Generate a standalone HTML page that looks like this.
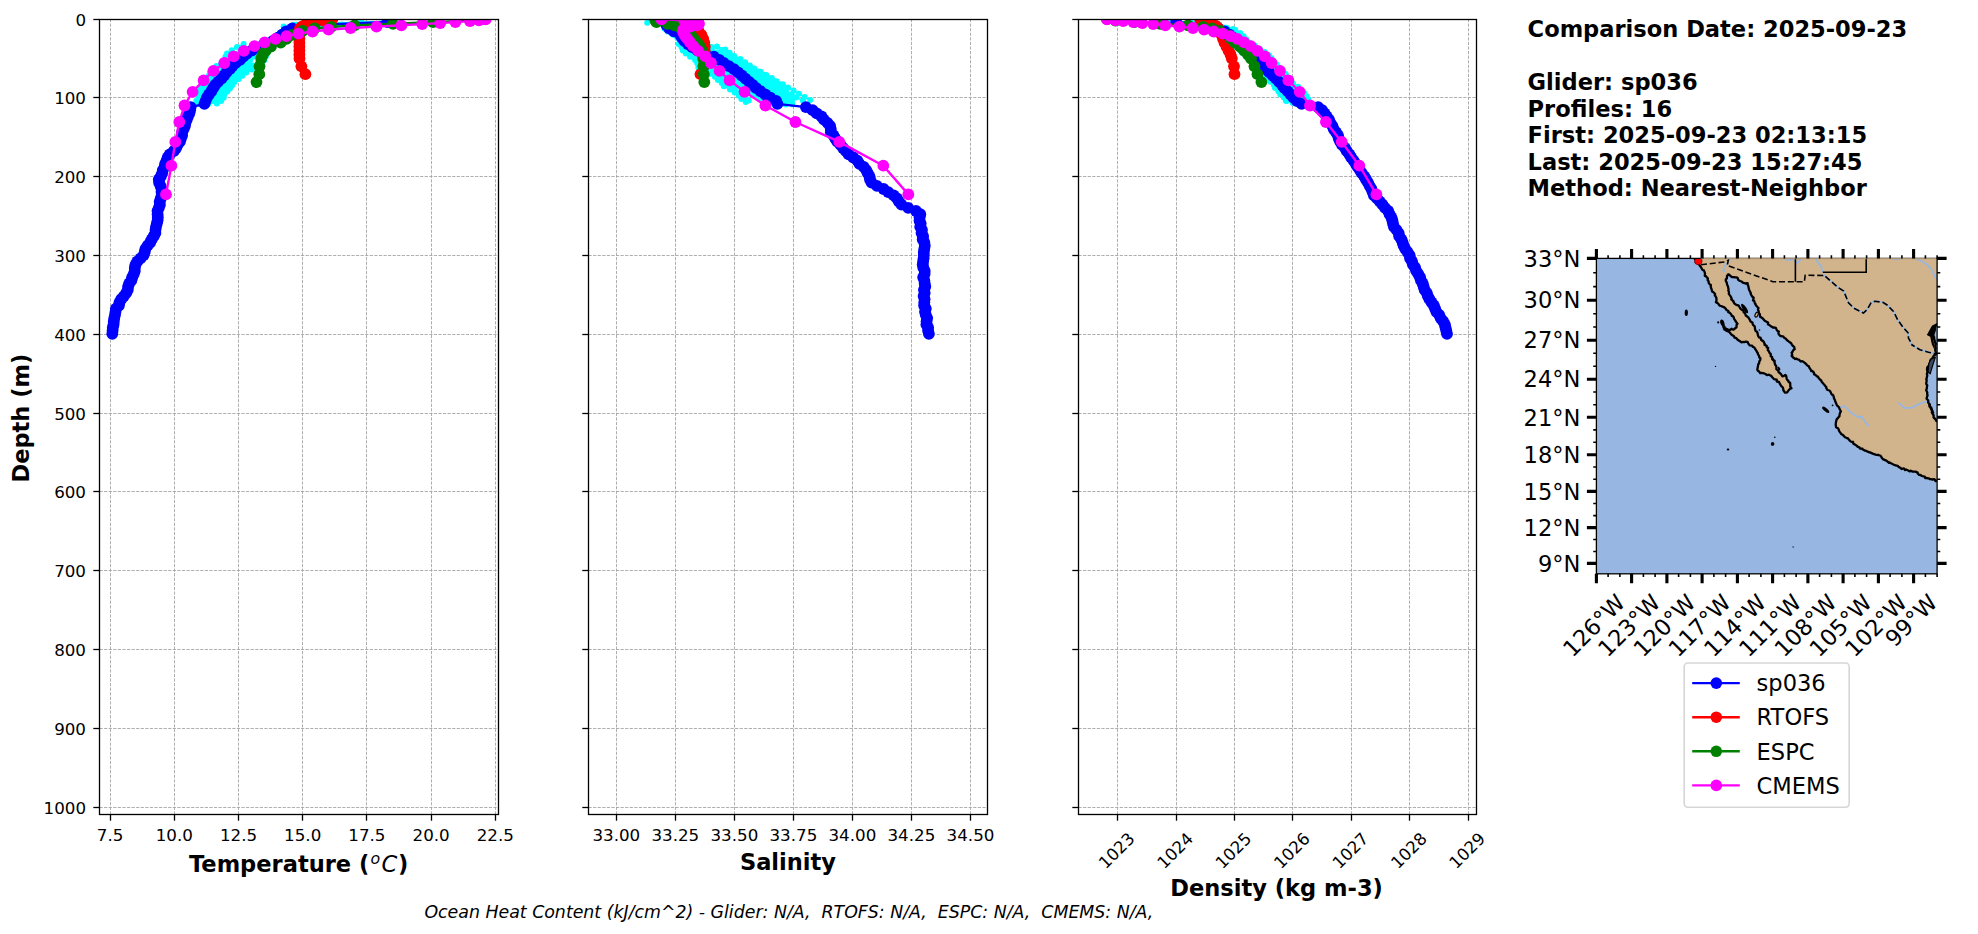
<!DOCTYPE html>
<html lang="en"><head><meta charset="utf-8"><title>Glider / model profile comparison</title>
<style>html,body{margin:0;padding:0;background:#fff}svg{display:block}</style></head>
<body>
<svg width="1978" height="934" viewBox="0 0 1978 934" font-family="'DejaVu Sans','Liberation Sans',sans-serif">
<rect width="1978" height="934" fill="#fff"/>
<defs>
<clipPath id="c0"><rect x="99.5" y="19.5" width="399.0" height="795.0"/></clipPath>
<clipPath id="c1"><rect x="588.5" y="19.5" width="399.0" height="795.0"/></clipPath>
<clipPath id="c2"><rect x="1078.5" y="19.5" width="398.0" height="795.0"/></clipPath>
<clipPath id="cm"><rect x="1596.4" y="258.4" width="340.7" height="315.4"/></clipPath>
</defs>
<g stroke="#a2a2a2" stroke-width="0.86" stroke-dasharray="3.2 1.38" fill="none">
<line x1="110.5" y1="814.5" x2="110.5" y2="19.5"/>
<line x1="174.5" y1="814.5" x2="174.5" y2="19.5"/>
<line x1="238.5" y1="814.5" x2="238.5" y2="19.5"/>
<line x1="302.5" y1="814.5" x2="302.5" y2="19.5"/>
<line x1="366.5" y1="814.5" x2="366.5" y2="19.5"/>
<line x1="431.5" y1="814.5" x2="431.5" y2="19.5"/>
<line x1="495.5" y1="814.5" x2="495.5" y2="19.5"/>
<line x1="99.5" y1="19.5" x2="498.5" y2="19.5"/>
<line x1="99.5" y1="97.5" x2="498.5" y2="97.5"/>
<line x1="99.5" y1="176.5" x2="498.5" y2="176.5"/>
<line x1="99.5" y1="255.5" x2="498.5" y2="255.5"/>
<line x1="99.5" y1="334.5" x2="498.5" y2="334.5"/>
<line x1="99.5" y1="413.5" x2="498.5" y2="413.5"/>
<line x1="99.5" y1="491.5" x2="498.5" y2="491.5"/>
<line x1="99.5" y1="570.5" x2="498.5" y2="570.5"/>
<line x1="99.5" y1="649.5" x2="498.5" y2="649.5"/>
<line x1="99.5" y1="728.5" x2="498.5" y2="728.5"/>
<line x1="99.5" y1="807.5" x2="498.5" y2="807.5"/>
</g>
<g clip-path="url(#c0)">
<polyline points="361.1,22.0 293.3,25.2 286.6,28.3 283.0,31.5 279.4,34.6 273.8,37.8 268.6,40.9 261.8,44.1 255.7,47.2 245.3,50.4 238.0,53.5 233.5,56.7 227.5,59.8 221.5,63.0 216.4,66.1 212.7,69.3 210.1,72.4 208.9,75.6 206.1,78.7 204.4,81.9 202.7,85.0 200.7,88.2 200.0,91.3 198.9,94.5 198.7,97.6 196.4,100.8" fill="none" stroke="#00ffff" stroke-width="1.6" stroke-linejoin="round"/>
<g fill="#00ffff"><circle cx="361.1" cy="22.0" r="3.0"/><circle cx="293.3" cy="25.2" r="3.0"/><circle cx="286.6" cy="28.3" r="3.0"/><circle cx="283.0" cy="31.5" r="3.0"/><circle cx="279.4" cy="34.6" r="3.0"/><circle cx="273.8" cy="37.8" r="3.0"/><circle cx="268.6" cy="40.9" r="3.0"/><circle cx="261.8" cy="44.1" r="3.0"/><circle cx="255.7" cy="47.2" r="3.0"/><circle cx="245.3" cy="50.4" r="3.0"/><circle cx="238.0" cy="53.5" r="3.0"/><circle cx="233.5" cy="56.7" r="3.0"/><circle cx="227.5" cy="59.8" r="3.0"/><circle cx="221.5" cy="63.0" r="3.0"/><circle cx="216.4" cy="66.1" r="3.0"/><circle cx="212.7" cy="69.3" r="3.0"/><circle cx="210.1" cy="72.4" r="3.0"/><circle cx="208.9" cy="75.6" r="3.0"/><circle cx="206.1" cy="78.7" r="3.0"/><circle cx="204.4" cy="81.9" r="3.0"/><circle cx="202.7" cy="85.0" r="3.0"/><circle cx="200.7" cy="88.2" r="3.0"/><circle cx="200.0" cy="91.3" r="3.0"/><circle cx="198.9" cy="94.5" r="3.0"/><circle cx="198.7" cy="97.6" r="3.0"/><circle cx="196.4" cy="100.8" r="3.0"/></g>
<polyline points="389.0,21.6 296.3,24.8 287.7,27.9 283.4,31.1 278.7,34.2 274.3,37.4 269.1,40.5 262.8,43.7 257.6,46.8 246.7,50.0 242.5,53.1 236.5,56.3 232.3,59.4 226.8,62.6 220.1,65.7 217.0,68.9 215.1,72.0 211.4,75.2 209.9,78.3 206.4,81.5 204.1,84.6 203.6,87.8 202.9,90.9 200.8,94.1 198.9,97.2 197.9,100.4 197.6,103.5" fill="none" stroke="#00ffff" stroke-width="1.6" stroke-linejoin="round"/>
<g fill="#00ffff"><circle cx="389.0" cy="21.6" r="3.0"/><circle cx="296.3" cy="24.8" r="3.0"/><circle cx="287.7" cy="27.9" r="3.0"/><circle cx="283.4" cy="31.1" r="3.0"/><circle cx="278.7" cy="34.2" r="3.0"/><circle cx="274.3" cy="37.4" r="3.0"/><circle cx="269.1" cy="40.5" r="3.0"/><circle cx="262.8" cy="43.7" r="3.0"/><circle cx="257.6" cy="46.8" r="3.0"/><circle cx="246.7" cy="50.0" r="3.0"/><circle cx="242.5" cy="53.1" r="3.0"/><circle cx="236.5" cy="56.3" r="3.0"/><circle cx="232.3" cy="59.4" r="3.0"/><circle cx="226.8" cy="62.6" r="3.0"/><circle cx="220.1" cy="65.7" r="3.0"/><circle cx="217.0" cy="68.9" r="3.0"/><circle cx="215.1" cy="72.0" r="3.0"/><circle cx="211.4" cy="75.2" r="3.0"/><circle cx="209.9" cy="78.3" r="3.0"/><circle cx="206.4" cy="81.5" r="3.0"/><circle cx="204.1" cy="84.6" r="3.0"/><circle cx="203.6" cy="87.8" r="3.0"/><circle cx="202.9" cy="90.9" r="3.0"/><circle cx="200.8" cy="94.1" r="3.0"/><circle cx="198.9" cy="97.2" r="3.0"/><circle cx="197.9" cy="100.4" r="3.0"/><circle cx="197.6" cy="103.5" r="3.0"/></g>
<polyline points="388.6,21.3 309.5,24.4 290.4,27.6 284.6,30.7 279.9,33.9 276.7,37.0 269.6,40.2 264.2,43.3 255.9,46.5 246.6,49.6 240.7,52.8 235.6,55.9 232.0,59.1 227.5,62.2 222.6,65.4 221.2,68.5 217.4,71.7 215.3,74.8 213.5,78.0 210.5,81.1 206.8,84.3 206.1,87.4 202.6,90.6 201.4,93.7 201.4,96.9 198.9,100.0 197.2,103.2" fill="none" stroke="#00ffff" stroke-width="1.6" stroke-linejoin="round"/>
<g fill="#00ffff"><circle cx="388.6" cy="21.3" r="3.0"/><circle cx="309.5" cy="24.4" r="3.0"/><circle cx="290.4" cy="27.6" r="3.0"/><circle cx="284.6" cy="30.7" r="3.0"/><circle cx="279.9" cy="33.9" r="3.0"/><circle cx="276.7" cy="37.0" r="3.0"/><circle cx="269.6" cy="40.2" r="3.0"/><circle cx="264.2" cy="43.3" r="3.0"/><circle cx="255.9" cy="46.5" r="3.0"/><circle cx="246.6" cy="49.6" r="3.0"/><circle cx="240.7" cy="52.8" r="3.0"/><circle cx="235.6" cy="55.9" r="3.0"/><circle cx="232.0" cy="59.1" r="3.0"/><circle cx="227.5" cy="62.2" r="3.0"/><circle cx="222.6" cy="65.4" r="3.0"/><circle cx="221.2" cy="68.5" r="3.0"/><circle cx="217.4" cy="71.7" r="3.0"/><circle cx="215.3" cy="74.8" r="3.0"/><circle cx="213.5" cy="78.0" r="3.0"/><circle cx="210.5" cy="81.1" r="3.0"/><circle cx="206.8" cy="84.3" r="3.0"/><circle cx="206.1" cy="87.4" r="3.0"/><circle cx="202.6" cy="90.6" r="3.0"/><circle cx="201.4" cy="93.7" r="3.0"/><circle cx="201.4" cy="96.9" r="3.0"/><circle cx="198.9" cy="100.0" r="3.0"/><circle cx="197.2" cy="103.2" r="3.0"/></g>
<polyline points="355.6,22.2 295.1,25.3 288.0,28.5 282.9,31.6 279.1,34.8 275.2,37.9 268.4,41.1 262.4,44.2 257.0,47.4 247.4,50.5 241.7,53.7 237.1,56.8 233.5,60.0 229.0,63.1 223.2,66.3 221.3,69.4 217.8,72.6 214.0,75.7 210.8,78.9 207.7,82.0 205.4,85.2 205.6,88.3 202.9,91.5 203.0,94.6 200.5,97.8 200.1,100.9 198.1,104.1" fill="none" stroke="#00ffff" stroke-width="1.6" stroke-linejoin="round"/>
<g fill="#00ffff"><circle cx="355.6" cy="22.2" r="3.0"/><circle cx="295.1" cy="25.3" r="3.0"/><circle cx="288.0" cy="28.5" r="3.0"/><circle cx="282.9" cy="31.6" r="3.0"/><circle cx="279.1" cy="34.8" r="3.0"/><circle cx="275.2" cy="37.9" r="3.0"/><circle cx="268.4" cy="41.1" r="3.0"/><circle cx="262.4" cy="44.2" r="3.0"/><circle cx="257.0" cy="47.4" r="3.0"/><circle cx="247.4" cy="50.5" r="3.0"/><circle cx="241.7" cy="53.7" r="3.0"/><circle cx="237.1" cy="56.8" r="3.0"/><circle cx="233.5" cy="60.0" r="3.0"/><circle cx="229.0" cy="63.1" r="3.0"/><circle cx="223.2" cy="66.3" r="3.0"/><circle cx="221.3" cy="69.4" r="3.0"/><circle cx="217.8" cy="72.6" r="3.0"/><circle cx="214.0" cy="75.7" r="3.0"/><circle cx="210.8" cy="78.9" r="3.0"/><circle cx="207.7" cy="82.0" r="3.0"/><circle cx="205.4" cy="85.2" r="3.0"/><circle cx="205.6" cy="88.3" r="3.0"/><circle cx="202.9" cy="91.5" r="3.0"/><circle cx="203.0" cy="94.6" r="3.0"/><circle cx="200.5" cy="97.8" r="3.0"/><circle cx="200.1" cy="100.9" r="3.0"/><circle cx="198.1" cy="104.1" r="3.0"/></g>
<polyline points="388.1,21.6 302.0,24.7 288.8,27.9 284.1,31.0 281.6,34.2 276.3,37.3 270.8,40.5 266.0,43.6 259.6,46.8 250.5,49.9 244.2,53.1 240.1,56.2 235.8,59.4 229.8,62.5 225.7,65.7 223.2,68.8 220.0,72.0 216.3,75.1 213.8,78.3 211.2,81.4 208.3,84.6 206.1,87.7 204.5,90.9 204.7,94.0 203.0,97.2 202.5,100.3 199.4,103.5" fill="none" stroke="#00ffff" stroke-width="1.6" stroke-linejoin="round"/>
<g fill="#00ffff"><circle cx="388.1" cy="21.6" r="3.0"/><circle cx="302.0" cy="24.7" r="3.0"/><circle cx="288.8" cy="27.9" r="3.0"/><circle cx="284.1" cy="31.0" r="3.0"/><circle cx="281.6" cy="34.2" r="3.0"/><circle cx="276.3" cy="37.3" r="3.0"/><circle cx="270.8" cy="40.5" r="3.0"/><circle cx="266.0" cy="43.6" r="3.0"/><circle cx="259.6" cy="46.8" r="3.0"/><circle cx="250.5" cy="49.9" r="3.0"/><circle cx="244.2" cy="53.1" r="3.0"/><circle cx="240.1" cy="56.2" r="3.0"/><circle cx="235.8" cy="59.4" r="3.0"/><circle cx="229.8" cy="62.5" r="3.0"/><circle cx="225.7" cy="65.7" r="3.0"/><circle cx="223.2" cy="68.8" r="3.0"/><circle cx="220.0" cy="72.0" r="3.0"/><circle cx="216.3" cy="75.1" r="3.0"/><circle cx="213.8" cy="78.3" r="3.0"/><circle cx="211.2" cy="81.4" r="3.0"/><circle cx="208.3" cy="84.6" r="3.0"/><circle cx="206.1" cy="87.7" r="3.0"/><circle cx="204.5" cy="90.9" r="3.0"/><circle cx="204.7" cy="94.0" r="3.0"/><circle cx="203.0" cy="97.2" r="3.0"/><circle cx="202.5" cy="100.3" r="3.0"/><circle cx="199.4" cy="103.5" r="3.0"/></g>
<polyline points="333.3,22.8 295.9,25.9 288.3,29.1 284.7,32.2 280.5,35.4 276.4,38.5 271.3,41.7 265.9,44.8 257.9,48.0 250.8,51.1 245.9,54.3 241.8,57.4 236.6,60.6 232.7,63.7 228.8,66.9 224.7,70.0 221.5,73.2 217.9,76.3 215.7,79.5 213.4,82.6 210.3,85.8 209.4,88.9 208.4,92.1 206.6,95.2 204.8,98.4 203.0,101.5" fill="none" stroke="#00ffff" stroke-width="1.6" stroke-linejoin="round"/>
<g fill="#00ffff"><circle cx="333.3" cy="22.8" r="3.0"/><circle cx="295.9" cy="25.9" r="3.0"/><circle cx="288.3" cy="29.1" r="3.0"/><circle cx="284.7" cy="32.2" r="3.0"/><circle cx="280.5" cy="35.4" r="3.0"/><circle cx="276.4" cy="38.5" r="3.0"/><circle cx="271.3" cy="41.7" r="3.0"/><circle cx="265.9" cy="44.8" r="3.0"/><circle cx="257.9" cy="48.0" r="3.0"/><circle cx="250.8" cy="51.1" r="3.0"/><circle cx="245.9" cy="54.3" r="3.0"/><circle cx="241.8" cy="57.4" r="3.0"/><circle cx="236.6" cy="60.6" r="3.0"/><circle cx="232.7" cy="63.7" r="3.0"/><circle cx="228.8" cy="66.9" r="3.0"/><circle cx="224.7" cy="70.0" r="3.0"/><circle cx="221.5" cy="73.2" r="3.0"/><circle cx="217.9" cy="76.3" r="3.0"/><circle cx="215.7" cy="79.5" r="3.0"/><circle cx="213.4" cy="82.6" r="3.0"/><circle cx="210.3" cy="85.8" r="3.0"/><circle cx="209.4" cy="88.9" r="3.0"/><circle cx="208.4" cy="92.1" r="3.0"/><circle cx="206.6" cy="95.2" r="3.0"/><circle cx="204.8" cy="98.4" r="3.0"/><circle cx="203.0" cy="101.5" r="3.0"/></g>
<polyline points="388.5,21.3 314.9,24.5 293.1,27.6 286.4,30.8 281.7,33.9 278.5,37.1 272.8,40.2 267.5,43.4 261.3,46.5 252.2,49.7 246.1,52.8 243.4,56.0 241.1,59.1 237.1,62.3 233.8,65.4 231.8,68.6 228.0,71.7 224.3,74.9 221.8,78.0 217.4,81.2 215.2,84.3 211.6,87.5 209.8,90.6 208.9,93.8 207.8,96.9 206.9,100.1" fill="none" stroke="#00ffff" stroke-width="1.6" stroke-linejoin="round"/>
<g fill="#00ffff"><circle cx="388.5" cy="21.3" r="3.0"/><circle cx="314.9" cy="24.5" r="3.0"/><circle cx="293.1" cy="27.6" r="3.0"/><circle cx="286.4" cy="30.8" r="3.0"/><circle cx="281.7" cy="33.9" r="3.0"/><circle cx="278.5" cy="37.1" r="3.0"/><circle cx="272.8" cy="40.2" r="3.0"/><circle cx="267.5" cy="43.4" r="3.0"/><circle cx="261.3" cy="46.5" r="3.0"/><circle cx="252.2" cy="49.7" r="3.0"/><circle cx="246.1" cy="52.8" r="3.0"/><circle cx="243.4" cy="56.0" r="3.0"/><circle cx="241.1" cy="59.1" r="3.0"/><circle cx="237.1" cy="62.3" r="3.0"/><circle cx="233.8" cy="65.4" r="3.0"/><circle cx="231.8" cy="68.6" r="3.0"/><circle cx="228.0" cy="71.7" r="3.0"/><circle cx="224.3" cy="74.9" r="3.0"/><circle cx="221.8" cy="78.0" r="3.0"/><circle cx="217.4" cy="81.2" r="3.0"/><circle cx="215.2" cy="84.3" r="3.0"/><circle cx="211.6" cy="87.5" r="3.0"/><circle cx="209.8" cy="90.6" r="3.0"/><circle cx="208.9" cy="93.8" r="3.0"/><circle cx="207.8" cy="96.9" r="3.0"/><circle cx="206.9" cy="100.1" r="3.0"/></g>
<polyline points="388.6,22.0 316.7,25.1 293.5,28.3 287.3,31.4 281.7,34.6 277.2,37.7 272.2,40.9 265.8,44.0 258.6,47.2 250.3,50.3 246.6,53.5 243.0,56.6 239.6,59.8 237.9,62.9 235.5,66.1 231.4,69.2 227.9,72.4 224.9,75.5 223.6,78.7 218.8,81.8 217.0,85.0 213.9,88.1 210.8,91.3 209.7,94.4 206.5,97.6 206.1,100.7 205.1,103.9" fill="none" stroke="#00ffff" stroke-width="1.6" stroke-linejoin="round"/>
<g fill="#00ffff"><circle cx="388.6" cy="22.0" r="3.0"/><circle cx="316.7" cy="25.1" r="3.0"/><circle cx="293.5" cy="28.3" r="3.0"/><circle cx="287.3" cy="31.4" r="3.0"/><circle cx="281.7" cy="34.6" r="3.0"/><circle cx="277.2" cy="37.7" r="3.0"/><circle cx="272.2" cy="40.9" r="3.0"/><circle cx="265.8" cy="44.0" r="3.0"/><circle cx="258.6" cy="47.2" r="3.0"/><circle cx="250.3" cy="50.3" r="3.0"/><circle cx="246.6" cy="53.5" r="3.0"/><circle cx="243.0" cy="56.6" r="3.0"/><circle cx="239.6" cy="59.8" r="3.0"/><circle cx="237.9" cy="62.9" r="3.0"/><circle cx="235.5" cy="66.1" r="3.0"/><circle cx="231.4" cy="69.2" r="3.0"/><circle cx="227.9" cy="72.4" r="3.0"/><circle cx="224.9" cy="75.5" r="3.0"/><circle cx="223.6" cy="78.7" r="3.0"/><circle cx="218.8" cy="81.8" r="3.0"/><circle cx="217.0" cy="85.0" r="3.0"/><circle cx="213.9" cy="88.1" r="3.0"/><circle cx="210.8" cy="91.3" r="3.0"/><circle cx="209.7" cy="94.4" r="3.0"/><circle cx="206.5" cy="97.6" r="3.0"/><circle cx="206.1" cy="100.7" r="3.0"/><circle cx="205.1" cy="103.9" r="3.0"/></g>
<polyline points="388.3,21.3 328.4,24.4 297.8,27.6 288.4,30.7 284.4,33.9 280.5,37.0 274.9,40.2 268.0,43.3 261.5,46.5 252.9,49.6 246.9,52.8 244.5,55.9 242.0,59.1 238.1,62.2 235.8,65.4 233.3,68.5 231.4,71.7 228.4,74.8 225.8,78.0 223.1,81.1 219.4,84.3 217.2,87.4 214.6,90.6 210.5,93.7 210.2,96.9 208.4,100.0 206.3,103.2" fill="none" stroke="#00ffff" stroke-width="1.6" stroke-linejoin="round"/>
<g fill="#00ffff"><circle cx="388.3" cy="21.3" r="3.0"/><circle cx="328.4" cy="24.4" r="3.0"/><circle cx="297.8" cy="27.6" r="3.0"/><circle cx="288.4" cy="30.7" r="3.0"/><circle cx="284.4" cy="33.9" r="3.0"/><circle cx="280.5" cy="37.0" r="3.0"/><circle cx="274.9" cy="40.2" r="3.0"/><circle cx="268.0" cy="43.3" r="3.0"/><circle cx="261.5" cy="46.5" r="3.0"/><circle cx="252.9" cy="49.6" r="3.0"/><circle cx="246.9" cy="52.8" r="3.0"/><circle cx="244.5" cy="55.9" r="3.0"/><circle cx="242.0" cy="59.1" r="3.0"/><circle cx="238.1" cy="62.2" r="3.0"/><circle cx="235.8" cy="65.4" r="3.0"/><circle cx="233.3" cy="68.5" r="3.0"/><circle cx="231.4" cy="71.7" r="3.0"/><circle cx="228.4" cy="74.8" r="3.0"/><circle cx="225.8" cy="78.0" r="3.0"/><circle cx="223.1" cy="81.1" r="3.0"/><circle cx="219.4" cy="84.3" r="3.0"/><circle cx="217.2" cy="87.4" r="3.0"/><circle cx="214.6" cy="90.6" r="3.0"/><circle cx="210.5" cy="93.7" r="3.0"/><circle cx="210.2" cy="96.9" r="3.0"/><circle cx="208.4" cy="100.0" r="3.0"/><circle cx="206.3" cy="103.2" r="3.0"/></g>
<polyline points="383.9,22.1 315.9,25.3 295.5,28.4 287.6,31.6 284.0,34.7 279.2,37.9 275.8,41.0 270.3,44.2 263.5,47.3 258.0,50.5 249.6,53.6 247.4,56.8 244.1,59.9 240.6,63.1 236.1,66.2 233.5,69.4 229.7,72.5 228.3,75.7 225.7,78.8 222.4,82.0 219.7,85.1 218.1,88.3 216.2,91.4 214.4,94.6 211.7,97.7 208.5,100.9 208.3,104.0" fill="none" stroke="#00ffff" stroke-width="1.6" stroke-linejoin="round"/>
<g fill="#00ffff"><circle cx="383.9" cy="22.1" r="3.0"/><circle cx="315.9" cy="25.3" r="3.0"/><circle cx="295.5" cy="28.4" r="3.0"/><circle cx="287.6" cy="31.6" r="3.0"/><circle cx="284.0" cy="34.7" r="3.0"/><circle cx="279.2" cy="37.9" r="3.0"/><circle cx="275.8" cy="41.0" r="3.0"/><circle cx="270.3" cy="44.2" r="3.0"/><circle cx="263.5" cy="47.3" r="3.0"/><circle cx="258.0" cy="50.5" r="3.0"/><circle cx="249.6" cy="53.6" r="3.0"/><circle cx="247.4" cy="56.8" r="3.0"/><circle cx="244.1" cy="59.9" r="3.0"/><circle cx="240.6" cy="63.1" r="3.0"/><circle cx="236.1" cy="66.2" r="3.0"/><circle cx="233.5" cy="69.4" r="3.0"/><circle cx="229.7" cy="72.5" r="3.0"/><circle cx="228.3" cy="75.7" r="3.0"/><circle cx="225.7" cy="78.8" r="3.0"/><circle cx="222.4" cy="82.0" r="3.0"/><circle cx="219.7" cy="85.1" r="3.0"/><circle cx="218.1" cy="88.3" r="3.0"/><circle cx="216.2" cy="91.4" r="3.0"/><circle cx="214.4" cy="94.6" r="3.0"/><circle cx="211.7" cy="97.7" r="3.0"/><circle cx="208.5" cy="100.9" r="3.0"/><circle cx="208.3" cy="104.0" r="3.0"/></g>
<polyline points="384.2,22.5 322.7,25.6 296.1,28.8 288.3,31.9 284.3,35.1 279.8,38.2 275.1,41.4 268.2,44.5 262.1,47.7 253.3,50.8 248.5,54.0 246.3,57.1 243.2,60.3 241.8,63.4 239.4,66.6 236.5,69.7 234.5,72.9 231.4,76.0 228.3,79.2 225.7,82.3 223.8,85.5 220.9,88.6 216.6,91.8 215.2,94.9 213.0,98.1 210.2,101.2" fill="none" stroke="#00ffff" stroke-width="1.6" stroke-linejoin="round"/>
<g fill="#00ffff"><circle cx="384.2" cy="22.5" r="3.0"/><circle cx="322.7" cy="25.6" r="3.0"/><circle cx="296.1" cy="28.8" r="3.0"/><circle cx="288.3" cy="31.9" r="3.0"/><circle cx="284.3" cy="35.1" r="3.0"/><circle cx="279.8" cy="38.2" r="3.0"/><circle cx="275.1" cy="41.4" r="3.0"/><circle cx="268.2" cy="44.5" r="3.0"/><circle cx="262.1" cy="47.7" r="3.0"/><circle cx="253.3" cy="50.8" r="3.0"/><circle cx="248.5" cy="54.0" r="3.0"/><circle cx="246.3" cy="57.1" r="3.0"/><circle cx="243.2" cy="60.3" r="3.0"/><circle cx="241.8" cy="63.4" r="3.0"/><circle cx="239.4" cy="66.6" r="3.0"/><circle cx="236.5" cy="69.7" r="3.0"/><circle cx="234.5" cy="72.9" r="3.0"/><circle cx="231.4" cy="76.0" r="3.0"/><circle cx="228.3" cy="79.2" r="3.0"/><circle cx="225.7" cy="82.3" r="3.0"/><circle cx="223.8" cy="85.5" r="3.0"/><circle cx="220.9" cy="88.6" r="3.0"/><circle cx="216.6" cy="91.8" r="3.0"/><circle cx="215.2" cy="94.9" r="3.0"/><circle cx="213.0" cy="98.1" r="3.0"/><circle cx="210.2" cy="101.2" r="3.0"/></g>
<polyline points="387.2,22.2 320.4,25.3 294.9,28.5 287.5,31.6 284.2,34.8 279.8,37.9 274.9,41.1 269.9,44.2 262.8,47.4 259.8,50.5 255.8,53.7 253.1,56.8 250.0,60.0 246.9,63.1 245.1,66.3 240.4,69.4 236.7,72.6 233.5,75.7 230.1,78.9 225.9,82.0 222.4,85.2 219.4,88.3 217.8,91.5 216.2,94.6 212.6,97.8 212.2,100.9" fill="none" stroke="#00ffff" stroke-width="1.6" stroke-linejoin="round"/>
<g fill="#00ffff"><circle cx="387.2" cy="22.2" r="3.0"/><circle cx="320.4" cy="25.3" r="3.0"/><circle cx="294.9" cy="28.5" r="3.0"/><circle cx="287.5" cy="31.6" r="3.0"/><circle cx="284.2" cy="34.8" r="3.0"/><circle cx="279.8" cy="37.9" r="3.0"/><circle cx="274.9" cy="41.1" r="3.0"/><circle cx="269.9" cy="44.2" r="3.0"/><circle cx="262.8" cy="47.4" r="3.0"/><circle cx="259.8" cy="50.5" r="3.0"/><circle cx="255.8" cy="53.7" r="3.0"/><circle cx="253.1" cy="56.8" r="3.0"/><circle cx="250.0" cy="60.0" r="3.0"/><circle cx="246.9" cy="63.1" r="3.0"/><circle cx="245.1" cy="66.3" r="3.0"/><circle cx="240.4" cy="69.4" r="3.0"/><circle cx="236.7" cy="72.6" r="3.0"/><circle cx="233.5" cy="75.7" r="3.0"/><circle cx="230.1" cy="78.9" r="3.0"/><circle cx="225.9" cy="82.0" r="3.0"/><circle cx="222.4" cy="85.2" r="3.0"/><circle cx="219.4" cy="88.3" r="3.0"/><circle cx="217.8" cy="91.5" r="3.0"/><circle cx="216.2" cy="94.6" r="3.0"/><circle cx="212.6" cy="97.8" r="3.0"/><circle cx="212.2" cy="100.9" r="3.0"/></g>
<polyline points="387.7,21.7 347.9,24.9 303.9,28.0 290.1,31.2 284.5,34.3 281.0,37.5 276.0,40.6 269.9,43.8 263.9,46.9 258.3,50.1 252.1,53.2 249.2,56.4 247.6,59.5 245.3,62.7 244.2,65.8 242.4,69.0 239.5,72.1 236.2,75.3 233.7,78.4 230.2,81.6 227.6,84.7 223.1,87.9 220.9,91.0 218.1,94.2 215.7,97.3 212.2,100.5" fill="none" stroke="#00ffff" stroke-width="1.6" stroke-linejoin="round"/>
<g fill="#00ffff"><circle cx="387.7" cy="21.7" r="3.0"/><circle cx="347.9" cy="24.9" r="3.0"/><circle cx="303.9" cy="28.0" r="3.0"/><circle cx="290.1" cy="31.2" r="3.0"/><circle cx="284.5" cy="34.3" r="3.0"/><circle cx="281.0" cy="37.5" r="3.0"/><circle cx="276.0" cy="40.6" r="3.0"/><circle cx="269.9" cy="43.8" r="3.0"/><circle cx="263.9" cy="46.9" r="3.0"/><circle cx="258.3" cy="50.1" r="3.0"/><circle cx="252.1" cy="53.2" r="3.0"/><circle cx="249.2" cy="56.4" r="3.0"/><circle cx="247.6" cy="59.5" r="3.0"/><circle cx="245.3" cy="62.7" r="3.0"/><circle cx="244.2" cy="65.8" r="3.0"/><circle cx="242.4" cy="69.0" r="3.0"/><circle cx="239.5" cy="72.1" r="3.0"/><circle cx="236.2" cy="75.3" r="3.0"/><circle cx="233.7" cy="78.4" r="3.0"/><circle cx="230.2" cy="81.6" r="3.0"/><circle cx="227.6" cy="84.7" r="3.0"/><circle cx="223.1" cy="87.9" r="3.0"/><circle cx="220.9" cy="91.0" r="3.0"/><circle cx="218.1" cy="94.2" r="3.0"/><circle cx="215.7" cy="97.3" r="3.0"/><circle cx="212.2" cy="100.5" r="3.0"/></g>
<polyline points="387.5,22.6 337.4,25.8 301.8,28.9 288.9,32.1 284.3,35.2 281.5,38.4 275.9,41.5 270.6,44.7 263.2,47.8 259.2,51.0 254.6,54.1 250.5,57.3 249.6,60.4 249.6,63.6 248.9,66.7 246.3,69.9 241.8,73.0 239.5,76.2 236.7,79.3 233.2,82.5 230.4,85.6 226.2,88.8 222.7,91.9 219.8,95.1 216.9,98.2" fill="none" stroke="#00ffff" stroke-width="1.6" stroke-linejoin="round"/>
<g fill="#00ffff"><circle cx="387.5" cy="22.6" r="3.0"/><circle cx="337.4" cy="25.8" r="3.0"/><circle cx="301.8" cy="28.9" r="3.0"/><circle cx="288.9" cy="32.1" r="3.0"/><circle cx="284.3" cy="35.2" r="3.0"/><circle cx="281.5" cy="38.4" r="3.0"/><circle cx="275.9" cy="41.5" r="3.0"/><circle cx="270.6" cy="44.7" r="3.0"/><circle cx="263.2" cy="47.8" r="3.0"/><circle cx="259.2" cy="51.0" r="3.0"/><circle cx="254.6" cy="54.1" r="3.0"/><circle cx="250.5" cy="57.3" r="3.0"/><circle cx="249.6" cy="60.4" r="3.0"/><circle cx="249.6" cy="63.6" r="3.0"/><circle cx="248.9" cy="66.7" r="3.0"/><circle cx="246.3" cy="69.9" r="3.0"/><circle cx="241.8" cy="73.0" r="3.0"/><circle cx="239.5" cy="76.2" r="3.0"/><circle cx="236.7" cy="79.3" r="3.0"/><circle cx="233.2" cy="82.5" r="3.0"/><circle cx="230.4" cy="85.6" r="3.0"/><circle cx="226.2" cy="88.8" r="3.0"/><circle cx="222.7" cy="91.9" r="3.0"/><circle cx="219.8" cy="95.1" r="3.0"/><circle cx="216.9" cy="98.2" r="3.0"/></g>
<polyline points="387.4,21.5 341.8,24.6 304.8,27.8 291.3,30.9 285.4,34.1 281.4,37.2 279.4,40.4 273.1,43.5 268.4,46.7 265.0,49.8 263.6,53.0 262.1,56.1 260.3,59.3 258.1,62.4 253.3,65.6 250.0,68.7 246.0,71.9 240.2,75.0 236.7,78.2 233.8,81.3 230.0,84.5 226.6,87.6 223.9,90.8 222.2,93.9 219.1,97.1 218.8,100.2 216.8,103.4" fill="none" stroke="#00ffff" stroke-width="1.6" stroke-linejoin="round"/>
<g fill="#00ffff"><circle cx="387.4" cy="21.5" r="3.0"/><circle cx="341.8" cy="24.6" r="3.0"/><circle cx="304.8" cy="27.8" r="3.0"/><circle cx="291.3" cy="30.9" r="3.0"/><circle cx="285.4" cy="34.1" r="3.0"/><circle cx="281.4" cy="37.2" r="3.0"/><circle cx="279.4" cy="40.4" r="3.0"/><circle cx="273.1" cy="43.5" r="3.0"/><circle cx="268.4" cy="46.7" r="3.0"/><circle cx="265.0" cy="49.8" r="3.0"/><circle cx="263.6" cy="53.0" r="3.0"/><circle cx="262.1" cy="56.1" r="3.0"/><circle cx="260.3" cy="59.3" r="3.0"/><circle cx="258.1" cy="62.4" r="3.0"/><circle cx="253.3" cy="65.6" r="3.0"/><circle cx="250.0" cy="68.7" r="3.0"/><circle cx="246.0" cy="71.9" r="3.0"/><circle cx="240.2" cy="75.0" r="3.0"/><circle cx="236.7" cy="78.2" r="3.0"/><circle cx="233.8" cy="81.3" r="3.0"/><circle cx="230.0" cy="84.5" r="3.0"/><circle cx="226.6" cy="87.6" r="3.0"/><circle cx="223.9" cy="90.8" r="3.0"/><circle cx="222.2" cy="93.9" r="3.0"/><circle cx="219.1" cy="97.1" r="3.0"/><circle cx="218.8" cy="100.2" r="3.0"/><circle cx="216.8" cy="103.4" r="3.0"/></g>
<polyline points="388.3,22.2 336.6,25.3 301.8,28.5 289.8,31.6 287.1,34.8 282.9,37.9 279.1,41.1 273.9,44.2 268.3,47.4 268.2,50.5 267.2,53.7 265.8,56.8 264.4,60.0 262.2,63.1 257.1,66.3 251.9,69.4 246.2,72.6 242.4,75.7 238.7,78.9 234.5,82.0 232.2,85.2 230.0,88.3 227.4,91.5 224.3,94.6 223.7,97.8 221.1,100.9" fill="none" stroke="#00ffff" stroke-width="1.6" stroke-linejoin="round"/>
<g fill="#00ffff"><circle cx="388.3" cy="22.2" r="3.0"/><circle cx="336.6" cy="25.3" r="3.0"/><circle cx="301.8" cy="28.5" r="3.0"/><circle cx="289.8" cy="31.6" r="3.0"/><circle cx="287.1" cy="34.8" r="3.0"/><circle cx="282.9" cy="37.9" r="3.0"/><circle cx="279.1" cy="41.1" r="3.0"/><circle cx="273.9" cy="44.2" r="3.0"/><circle cx="268.3" cy="47.4" r="3.0"/><circle cx="268.2" cy="50.5" r="3.0"/><circle cx="267.2" cy="53.7" r="3.0"/><circle cx="265.8" cy="56.8" r="3.0"/><circle cx="264.4" cy="60.0" r="3.0"/><circle cx="262.2" cy="63.1" r="3.0"/><circle cx="257.1" cy="66.3" r="3.0"/><circle cx="251.9" cy="69.4" r="3.0"/><circle cx="246.2" cy="72.6" r="3.0"/><circle cx="242.4" cy="75.7" r="3.0"/><circle cx="238.7" cy="78.9" r="3.0"/><circle cx="234.5" cy="82.0" r="3.0"/><circle cx="232.2" cy="85.2" r="3.0"/><circle cx="230.0" cy="88.3" r="3.0"/><circle cx="227.4" cy="91.5" r="3.0"/><circle cx="224.3" cy="94.6" r="3.0"/><circle cx="223.7" cy="97.8" r="3.0"/><circle cx="221.1" cy="100.9" r="3.0"/></g>
<g fill="#00ffff"><circle cx="294.0" cy="24.7" r="3.0"/></g>
<g fill="#00ffff"><circle cx="283.7" cy="26.6" r="3.0"/></g>
<polyline points="243.6,44.0 237.0,47.1 231.7,50.3 227.0,53.4 225.5,56.6" fill="none" stroke="#00ffff" stroke-width="1.6" stroke-linejoin="round"/>
<g fill="#00ffff"><circle cx="243.6" cy="44.0" r="3.0"/><circle cx="237.0" cy="47.1" r="3.0"/><circle cx="231.7" cy="50.3" r="3.0"/><circle cx="227.0" cy="53.4" r="3.0"/><circle cx="225.5" cy="56.6" r="3.0"/></g>
<polyline points="387.6,22.0 310.7,25.1 292.3,28.3 286.1,31.4 282.1,34.6 278.0,37.7 273.0,40.9 267.6,44.0 260.1,47.2 252.0,50.3 246.9,53.5 243.3,56.6 240.0,59.8 235.8,62.9 232.4,66.1 229.7,69.2 226.4,72.4 224.1,75.5 221.5,78.7 218.0,81.9 215.1,85.0 213.0,88.2 211.3,91.3 208.9,94.5 206.9,97.6 205.6,100.8 204.4,103.9 190.7,107.1 190.1,110.2 189.3,113.4 187.9,116.5 186.7,119.7 185.5,122.8 184.9,126.0 183.7,129.1 182.0,132.3 182.1,135.4 180.9,138.6 179.9,141.7 177.6,144.9 176.1,148.0 173.7,151.2 169.7,154.3 167.7,157.5 166.6,160.6 165.1,163.8 164.6,166.9 162.8,170.1 162.2,173.2 160.8,176.4 158.8,179.5 159.1,182.7 160.5,185.8 161.5,189.0 161.5,192.1 162.0,195.3 160.7,198.4 159.7,201.6 159.9,204.7 158.8,207.9 157.5,211.0 157.6,214.2 157.8,217.3 157.6,220.5 156.8,223.6 156.0,226.8 155.5,229.9 155.4,233.1 153.7,236.2 151.7,239.4 150.2,242.5 147.6,245.7 145.4,248.8 144.7,252.0 143.7,255.1 140.5,258.3 137.3,261.4 135.5,264.6 134.8,267.7 134.8,270.9 133.8,274.0 132.2,277.2 131.4,280.3 129.2,283.5 128.1,286.6 127.8,289.8 126.3,292.9 123.9,296.1 121.2,299.2 119.5,302.3 118.9,305.5 115.9,308.6 115.5,311.8 115.0,314.9 114.3,318.1 113.8,321.2 113.6,324.4 112.8,327.5 112.6,330.7 112.3,333.8" fill="none" stroke="#0000ff" stroke-width="2.4" stroke-linejoin="round"/>
<g fill="#0000ff"><circle cx="387.6" cy="22.0" r="5.9"/><circle cx="310.7" cy="25.1" r="5.9"/><circle cx="292.3" cy="28.3" r="5.9"/><circle cx="286.1" cy="31.4" r="5.9"/><circle cx="282.1" cy="34.6" r="5.9"/><circle cx="278.0" cy="37.7" r="5.9"/><circle cx="273.0" cy="40.9" r="5.9"/><circle cx="267.6" cy="44.0" r="5.9"/><circle cx="260.1" cy="47.2" r="5.9"/><circle cx="252.0" cy="50.3" r="5.9"/><circle cx="246.9" cy="53.5" r="5.9"/><circle cx="243.3" cy="56.6" r="5.9"/><circle cx="240.0" cy="59.8" r="5.9"/><circle cx="235.8" cy="62.9" r="5.9"/><circle cx="232.4" cy="66.1" r="5.9"/><circle cx="229.7" cy="69.2" r="5.9"/><circle cx="226.4" cy="72.4" r="5.9"/><circle cx="224.1" cy="75.5" r="5.9"/><circle cx="221.5" cy="78.7" r="5.9"/><circle cx="218.0" cy="81.9" r="5.9"/><circle cx="215.1" cy="85.0" r="5.9"/><circle cx="213.0" cy="88.2" r="5.9"/><circle cx="211.3" cy="91.3" r="5.9"/><circle cx="208.9" cy="94.5" r="5.9"/><circle cx="206.9" cy="97.6" r="5.9"/><circle cx="205.6" cy="100.8" r="5.9"/><circle cx="204.4" cy="103.9" r="5.9"/><circle cx="190.7" cy="107.1" r="5.9"/><circle cx="190.1" cy="110.2" r="5.9"/><circle cx="189.3" cy="113.4" r="5.9"/><circle cx="187.9" cy="116.5" r="5.9"/><circle cx="186.7" cy="119.7" r="5.9"/><circle cx="185.5" cy="122.8" r="5.9"/><circle cx="184.9" cy="126.0" r="5.9"/><circle cx="183.7" cy="129.1" r="5.9"/><circle cx="182.0" cy="132.3" r="5.9"/><circle cx="182.1" cy="135.4" r="5.9"/><circle cx="180.9" cy="138.6" r="5.9"/><circle cx="179.9" cy="141.7" r="5.9"/><circle cx="177.6" cy="144.9" r="5.9"/><circle cx="176.1" cy="148.0" r="5.9"/><circle cx="173.7" cy="151.2" r="5.9"/><circle cx="169.7" cy="154.3" r="5.9"/><circle cx="167.7" cy="157.5" r="5.9"/><circle cx="166.6" cy="160.6" r="5.9"/><circle cx="165.1" cy="163.8" r="5.9"/><circle cx="164.6" cy="166.9" r="5.9"/><circle cx="162.8" cy="170.1" r="5.9"/><circle cx="162.2" cy="173.2" r="5.9"/><circle cx="160.8" cy="176.4" r="5.9"/><circle cx="158.8" cy="179.5" r="5.9"/><circle cx="159.1" cy="182.7" r="5.9"/><circle cx="160.5" cy="185.8" r="5.9"/><circle cx="161.5" cy="189.0" r="5.9"/><circle cx="161.5" cy="192.1" r="5.9"/><circle cx="162.0" cy="195.3" r="5.9"/><circle cx="160.7" cy="198.4" r="5.9"/><circle cx="159.7" cy="201.6" r="5.9"/><circle cx="159.9" cy="204.7" r="5.9"/><circle cx="158.8" cy="207.9" r="5.9"/><circle cx="157.5" cy="211.0" r="5.9"/><circle cx="157.6" cy="214.2" r="5.9"/><circle cx="157.8" cy="217.3" r="5.9"/><circle cx="157.6" cy="220.5" r="5.9"/><circle cx="156.8" cy="223.6" r="5.9"/><circle cx="156.0" cy="226.8" r="5.9"/><circle cx="155.5" cy="229.9" r="5.9"/><circle cx="155.4" cy="233.1" r="5.9"/><circle cx="153.7" cy="236.2" r="5.9"/><circle cx="151.7" cy="239.4" r="5.9"/><circle cx="150.2" cy="242.5" r="5.9"/><circle cx="147.6" cy="245.7" r="5.9"/><circle cx="145.4" cy="248.8" r="5.9"/><circle cx="144.7" cy="252.0" r="5.9"/><circle cx="143.7" cy="255.1" r="5.9"/><circle cx="140.5" cy="258.3" r="5.9"/><circle cx="137.3" cy="261.4" r="5.9"/><circle cx="135.5" cy="264.6" r="5.9"/><circle cx="134.8" cy="267.7" r="5.9"/><circle cx="134.8" cy="270.9" r="5.9"/><circle cx="133.8" cy="274.0" r="5.9"/><circle cx="132.2" cy="277.2" r="5.9"/><circle cx="131.4" cy="280.3" r="5.9"/><circle cx="129.2" cy="283.5" r="5.9"/><circle cx="128.1" cy="286.6" r="5.9"/><circle cx="127.8" cy="289.8" r="5.9"/><circle cx="126.3" cy="292.9" r="5.9"/><circle cx="123.9" cy="296.1" r="5.9"/><circle cx="121.2" cy="299.2" r="5.9"/><circle cx="119.5" cy="302.3" r="5.9"/><circle cx="118.9" cy="305.5" r="5.9"/><circle cx="115.9" cy="308.6" r="5.9"/><circle cx="115.5" cy="311.8" r="5.9"/><circle cx="115.0" cy="314.9" r="5.9"/><circle cx="114.3" cy="318.1" r="5.9"/><circle cx="113.8" cy="321.2" r="5.9"/><circle cx="113.6" cy="324.4" r="5.9"/><circle cx="112.8" cy="327.5" r="5.9"/><circle cx="112.6" cy="330.7" r="5.9"/><circle cx="112.3" cy="333.8" r="5.9"/></g>
<polyline points="332.4,19.1 323.5,20.6 315.5,22.2 308.5,23.8 304.3,25.4 301.6,26.9 300.0,28.5 299.4,30.9 299.4,34.8 299.4,38.8 299.4,42.7 299.4,46.6 299.4,50.6 299.4,54.5 299.5,58.5 301.4,66.3 305.4,74.2" fill="none" stroke="#ff0000" stroke-width="2.4" stroke-linejoin="round"/>
<g fill="#ff0000"><circle cx="332.4" cy="19.1" r="5.9"/><circle cx="323.5" cy="20.6" r="5.9"/><circle cx="315.5" cy="22.2" r="5.9"/><circle cx="308.5" cy="23.8" r="5.9"/><circle cx="304.3" cy="25.4" r="5.9"/><circle cx="301.6" cy="26.9" r="5.9"/><circle cx="300.0" cy="28.5" r="5.9"/><circle cx="299.4" cy="30.9" r="5.9"/><circle cx="299.4" cy="34.8" r="5.9"/><circle cx="299.4" cy="38.8" r="5.9"/><circle cx="299.4" cy="42.7" r="5.9"/><circle cx="299.4" cy="46.6" r="5.9"/><circle cx="299.4" cy="50.6" r="5.9"/><circle cx="299.4" cy="54.5" r="5.9"/><circle cx="299.5" cy="58.5" r="5.9"/><circle cx="301.4" cy="66.3" r="5.9"/><circle cx="305.4" cy="74.2" r="5.9"/></g>
<polyline points="485.0,19.1 470.0,20.6 433.0,22.2 393.0,23.8 354.6,25.4 331.3,26.9 314.4,28.5 302.7,30.9 292.5,34.8 286.5,38.8 280.7,42.7 271.0,46.6 265.7,50.6 262.9,54.5 261.2,58.5 259.5,66.3 259.3,74.2 256.5,82.1" fill="none" stroke="#008000" stroke-width="2.4" stroke-linejoin="round"/>
<g fill="#008000"><circle cx="485.0" cy="19.1" r="5.9"/><circle cx="470.0" cy="20.6" r="5.9"/><circle cx="433.0" cy="22.2" r="5.9"/><circle cx="393.0" cy="23.8" r="5.9"/><circle cx="354.6" cy="25.4" r="5.9"/><circle cx="331.3" cy="26.9" r="5.9"/><circle cx="314.4" cy="28.5" r="5.9"/><circle cx="302.7" cy="30.9" r="5.9"/><circle cx="292.5" cy="34.8" r="5.9"/><circle cx="286.5" cy="38.8" r="5.9"/><circle cx="280.7" cy="42.7" r="5.9"/><circle cx="271.0" cy="46.6" r="5.9"/><circle cx="265.7" cy="50.6" r="5.9"/><circle cx="262.9" cy="54.5" r="5.9"/><circle cx="261.2" cy="58.5" r="5.9"/><circle cx="259.5" cy="66.3" r="5.9"/><circle cx="259.3" cy="74.2" r="5.9"/><circle cx="256.5" cy="82.1" r="5.9"/></g>
<polyline points="485.7,19.4 479.0,20.3 470.0,21.1 455.4,22.1 440.2,23.1 422.2,24.1 401.4,25.3 376.5,26.6 350.6,28.0 328.5,29.7 312.5,31.5 298.5,33.6 286.5,36.1 275.6,38.9 264.6,42.3 254.4,46.2 243.8,50.8 233.6,56.4 224.3,63.0 213.4,70.9 203.6,80.4 192.6,91.8 184.5,105.5 179.3,122.0 175.3,141.9 171.4,165.7 166.0,194.4" fill="none" stroke="#ff00ff" stroke-width="2.4" stroke-linejoin="round"/>
<g fill="#ff00ff"><circle cx="485.7" cy="19.4" r="5.9"/><circle cx="479.0" cy="20.3" r="5.9"/><circle cx="470.0" cy="21.1" r="5.9"/><circle cx="455.4" cy="22.1" r="5.9"/><circle cx="440.2" cy="23.1" r="5.9"/><circle cx="422.2" cy="24.1" r="5.9"/><circle cx="401.4" cy="25.3" r="5.9"/><circle cx="376.5" cy="26.6" r="5.9"/><circle cx="350.6" cy="28.0" r="5.9"/><circle cx="328.5" cy="29.7" r="5.9"/><circle cx="312.5" cy="31.5" r="5.9"/><circle cx="298.5" cy="33.6" r="5.9"/><circle cx="286.5" cy="36.1" r="5.9"/><circle cx="275.6" cy="38.9" r="5.9"/><circle cx="264.6" cy="42.3" r="5.9"/><circle cx="254.4" cy="46.2" r="5.9"/><circle cx="243.8" cy="50.8" r="5.9"/><circle cx="233.6" cy="56.4" r="5.9"/><circle cx="224.3" cy="63.0" r="5.9"/><circle cx="213.4" cy="70.9" r="5.9"/><circle cx="203.6" cy="80.4" r="5.9"/><circle cx="192.6" cy="91.8" r="5.9"/><circle cx="184.5" cy="105.5" r="5.9"/><circle cx="179.3" cy="122.0" r="5.9"/><circle cx="175.3" cy="141.9" r="5.9"/><circle cx="171.4" cy="165.7" r="5.9"/><circle cx="166.0" cy="194.4" r="5.9"/></g>
</g>
<g stroke="#000" stroke-width="1.30">
<line x1="110.5" y1="814.5" x2="110.5" y2="820.7"/>
<line x1="174.5" y1="814.5" x2="174.5" y2="820.7"/>
<line x1="238.5" y1="814.5" x2="238.5" y2="820.7"/>
<line x1="302.5" y1="814.5" x2="302.5" y2="820.7"/>
<line x1="366.5" y1="814.5" x2="366.5" y2="820.7"/>
<line x1="431.5" y1="814.5" x2="431.5" y2="820.7"/>
<line x1="495.5" y1="814.5" x2="495.5" y2="820.7"/>
<line x1="93.3" y1="19.5" x2="99.5" y2="19.5"/>
<line x1="93.3" y1="97.5" x2="99.5" y2="97.5"/>
<line x1="93.3" y1="176.5" x2="99.5" y2="176.5"/>
<line x1="93.3" y1="255.5" x2="99.5" y2="255.5"/>
<line x1="93.3" y1="334.5" x2="99.5" y2="334.5"/>
<line x1="93.3" y1="413.5" x2="99.5" y2="413.5"/>
<line x1="93.3" y1="491.5" x2="99.5" y2="491.5"/>
<line x1="93.3" y1="570.5" x2="99.5" y2="570.5"/>
<line x1="93.3" y1="649.5" x2="99.5" y2="649.5"/>
<line x1="93.3" y1="728.5" x2="99.5" y2="728.5"/>
<line x1="93.3" y1="807.5" x2="99.5" y2="807.5"/>
</g>
<rect x="99.5" y="19.5" width="399.0" height="795.0" fill="none" stroke="#000" stroke-width="1.30"/>
<g font-size="16.7" text-anchor="middle">
<text x="110.1" y="841.1">7.5</text>
<text x="174.3" y="841.1">10.0</text>
<text x="238.5" y="841.1">12.5</text>
<text x="302.7" y="841.1">15.0</text>
<text x="366.9" y="841.1">17.5</text>
<text x="431.1" y="841.1">20.0</text>
<text x="495.3" y="841.1">22.5</text>
</g>
<g stroke="#a2a2a2" stroke-width="0.86" stroke-dasharray="3.2 1.38" fill="none">
<line x1="616.5" y1="814.5" x2="616.5" y2="19.5"/>
<line x1="675.5" y1="814.5" x2="675.5" y2="19.5"/>
<line x1="734.5" y1="814.5" x2="734.5" y2="19.5"/>
<line x1="793.5" y1="814.5" x2="793.5" y2="19.5"/>
<line x1="852.5" y1="814.5" x2="852.5" y2="19.5"/>
<line x1="911.5" y1="814.5" x2="911.5" y2="19.5"/>
<line x1="970.5" y1="814.5" x2="970.5" y2="19.5"/>
<line x1="588.5" y1="19.5" x2="987.5" y2="19.5"/>
<line x1="588.5" y1="97.5" x2="987.5" y2="97.5"/>
<line x1="588.5" y1="176.5" x2="987.5" y2="176.5"/>
<line x1="588.5" y1="255.5" x2="987.5" y2="255.5"/>
<line x1="588.5" y1="334.5" x2="987.5" y2="334.5"/>
<line x1="588.5" y1="413.5" x2="987.5" y2="413.5"/>
<line x1="588.5" y1="491.5" x2="987.5" y2="491.5"/>
<line x1="588.5" y1="570.5" x2="987.5" y2="570.5"/>
<line x1="588.5" y1="649.5" x2="987.5" y2="649.5"/>
<line x1="588.5" y1="728.5" x2="987.5" y2="728.5"/>
<line x1="588.5" y1="807.5" x2="987.5" y2="807.5"/>
</g>
<g clip-path="url(#c1)">
<polyline points="671.7,21.2 669.0,24.4 675.8,27.5 681.7,30.7 683.4,33.8 684.8,37.0 688.2,40.1 691.6,43.3 698.2,46.4 707.4,49.6 720.0,52.7 724.8,55.9 733.6,59.0 739.8,62.2 746.8,65.3 752.1,68.5 758.2,71.6 764.8,74.8 768.2,77.9 773.6,81.1 780.2,84.2 783.8,87.4 784.6,90.5 786.7,93.7 788.6,96.8 788.9,100.0 791.7,103.1" fill="none" stroke="#00ffff" stroke-width="1.6" stroke-linejoin="round"/>
<g fill="#00ffff"><circle cx="671.7" cy="21.2" r="3.0"/><circle cx="669.0" cy="24.4" r="3.0"/><circle cx="675.8" cy="27.5" r="3.0"/><circle cx="681.7" cy="30.7" r="3.0"/><circle cx="683.4" cy="33.8" r="3.0"/><circle cx="684.8" cy="37.0" r="3.0"/><circle cx="688.2" cy="40.1" r="3.0"/><circle cx="691.6" cy="43.3" r="3.0"/><circle cx="698.2" cy="46.4" r="3.0"/><circle cx="707.4" cy="49.6" r="3.0"/><circle cx="720.0" cy="52.7" r="3.0"/><circle cx="724.8" cy="55.9" r="3.0"/><circle cx="733.6" cy="59.0" r="3.0"/><circle cx="739.8" cy="62.2" r="3.0"/><circle cx="746.8" cy="65.3" r="3.0"/><circle cx="752.1" cy="68.5" r="3.0"/><circle cx="758.2" cy="71.6" r="3.0"/><circle cx="764.8" cy="74.8" r="3.0"/><circle cx="768.2" cy="77.9" r="3.0"/><circle cx="773.6" cy="81.1" r="3.0"/><circle cx="780.2" cy="84.2" r="3.0"/><circle cx="783.8" cy="87.4" r="3.0"/><circle cx="784.6" cy="90.5" r="3.0"/><circle cx="786.7" cy="93.7" r="3.0"/><circle cx="788.6" cy="96.8" r="3.0"/><circle cx="788.9" cy="100.0" r="3.0"/><circle cx="791.7" cy="103.1" r="3.0"/></g>
<polyline points="667.7,22.3 670.7,25.5 677.3,28.6 681.8,31.8 683.4,34.9 685.8,38.1 689.0,41.2 694.1,44.4 700.5,47.5 711.5,50.7 720.9,53.8 726.6,57.0 732.4,60.1 738.1,63.3 743.5,66.4 750.0,69.6 756.0,72.7 760.8,75.9 766.5,79.0 772.6,82.2 778.4,85.3 784.1,88.5 784.8,91.6 785.1,94.8 788.8,97.9 790.0,101.1 792.1,104.2" fill="none" stroke="#00ffff" stroke-width="1.6" stroke-linejoin="round"/>
<g fill="#00ffff"><circle cx="667.7" cy="22.3" r="3.0"/><circle cx="670.7" cy="25.5" r="3.0"/><circle cx="677.3" cy="28.6" r="3.0"/><circle cx="681.8" cy="31.8" r="3.0"/><circle cx="683.4" cy="34.9" r="3.0"/><circle cx="685.8" cy="38.1" r="3.0"/><circle cx="689.0" cy="41.2" r="3.0"/><circle cx="694.1" cy="44.4" r="3.0"/><circle cx="700.5" cy="47.5" r="3.0"/><circle cx="711.5" cy="50.7" r="3.0"/><circle cx="720.9" cy="53.8" r="3.0"/><circle cx="726.6" cy="57.0" r="3.0"/><circle cx="732.4" cy="60.1" r="3.0"/><circle cx="738.1" cy="63.3" r="3.0"/><circle cx="743.5" cy="66.4" r="3.0"/><circle cx="750.0" cy="69.6" r="3.0"/><circle cx="756.0" cy="72.7" r="3.0"/><circle cx="760.8" cy="75.9" r="3.0"/><circle cx="766.5" cy="79.0" r="3.0"/><circle cx="772.6" cy="82.2" r="3.0"/><circle cx="778.4" cy="85.3" r="3.0"/><circle cx="784.1" cy="88.5" r="3.0"/><circle cx="784.8" cy="91.6" r="3.0"/><circle cx="785.1" cy="94.8" r="3.0"/><circle cx="788.8" cy="97.9" r="3.0"/><circle cx="790.0" cy="101.1" r="3.0"/><circle cx="792.1" cy="104.2" r="3.0"/></g>
<polyline points="672.1,21.4 666.8,24.5 672.7,27.7 677.9,30.8 682.0,34.0 684.1,37.1 688.5,40.3 692.7,43.4 701.4,46.6 711.9,49.7 721.0,52.9 726.5,56.0 732.1,59.2 735.5,62.3 739.2,65.5 740.9,68.6 746.4,71.8 750.0,74.9 755.0,78.1 761.7,81.2 768.2,84.4 773.4,87.5 781.3,90.7 785.0,93.8 788.4,97.0 792.1,100.1" fill="none" stroke="#00ffff" stroke-width="1.6" stroke-linejoin="round"/>
<g fill="#00ffff"><circle cx="672.1" cy="21.4" r="3.0"/><circle cx="666.8" cy="24.5" r="3.0"/><circle cx="672.7" cy="27.7" r="3.0"/><circle cx="677.9" cy="30.8" r="3.0"/><circle cx="682.0" cy="34.0" r="3.0"/><circle cx="684.1" cy="37.1" r="3.0"/><circle cx="688.5" cy="40.3" r="3.0"/><circle cx="692.7" cy="43.4" r="3.0"/><circle cx="701.4" cy="46.6" r="3.0"/><circle cx="711.9" cy="49.7" r="3.0"/><circle cx="721.0" cy="52.9" r="3.0"/><circle cx="726.5" cy="56.0" r="3.0"/><circle cx="732.1" cy="59.2" r="3.0"/><circle cx="735.5" cy="62.3" r="3.0"/><circle cx="739.2" cy="65.5" r="3.0"/><circle cx="740.9" cy="68.6" r="3.0"/><circle cx="746.4" cy="71.8" r="3.0"/><circle cx="750.0" cy="74.9" r="3.0"/><circle cx="755.0" cy="78.1" r="3.0"/><circle cx="761.7" cy="81.2" r="3.0"/><circle cx="768.2" cy="84.4" r="3.0"/><circle cx="773.4" cy="87.5" r="3.0"/><circle cx="781.3" cy="90.7" r="3.0"/><circle cx="785.0" cy="93.8" r="3.0"/><circle cx="788.4" cy="97.0" r="3.0"/><circle cx="792.1" cy="100.1" r="3.0"/></g>
<polyline points="667.3,22.8 669.6,25.9 675.4,29.1 681.9,32.2 683.6,35.4 685.1,38.5 687.7,41.7 693.4,44.8 699.0,48.0 707.5,51.1 716.0,54.3 722.5,57.4 728.0,60.6 732.6,63.7 738.4,66.9 745.3,70.0 750.2,73.2 757.5,76.3 762.2,79.5 767.8,82.6 773.2,85.8 777.2,88.9 781.3,92.1 781.6,95.2 783.7,98.4" fill="none" stroke="#00ffff" stroke-width="1.6" stroke-linejoin="round"/>
<g fill="#00ffff"><circle cx="667.3" cy="22.8" r="3.0"/><circle cx="669.6" cy="25.9" r="3.0"/><circle cx="675.4" cy="29.1" r="3.0"/><circle cx="681.9" cy="32.2" r="3.0"/><circle cx="683.6" cy="35.4" r="3.0"/><circle cx="685.1" cy="38.5" r="3.0"/><circle cx="687.7" cy="41.7" r="3.0"/><circle cx="693.4" cy="44.8" r="3.0"/><circle cx="699.0" cy="48.0" r="3.0"/><circle cx="707.5" cy="51.1" r="3.0"/><circle cx="716.0" cy="54.3" r="3.0"/><circle cx="722.5" cy="57.4" r="3.0"/><circle cx="728.0" cy="60.6" r="3.0"/><circle cx="732.6" cy="63.7" r="3.0"/><circle cx="738.4" cy="66.9" r="3.0"/><circle cx="745.3" cy="70.0" r="3.0"/><circle cx="750.2" cy="73.2" r="3.0"/><circle cx="757.5" cy="76.3" r="3.0"/><circle cx="762.2" cy="79.5" r="3.0"/><circle cx="767.8" cy="82.6" r="3.0"/><circle cx="773.2" cy="85.8" r="3.0"/><circle cx="777.2" cy="88.9" r="3.0"/><circle cx="781.3" cy="92.1" r="3.0"/><circle cx="781.6" cy="95.2" r="3.0"/><circle cx="783.7" cy="98.4" r="3.0"/></g>
<polyline points="671.9,21.6 668.2,24.7 670.9,27.9 675.8,31.0 681.1,34.2 682.7,37.3 684.4,40.5 687.8,43.6 693.0,46.8 700.9,49.9 711.9,53.1 721.2,56.2 728.4,59.4 736.3,62.5 742.3,65.7 746.6,68.8 749.5,72.0 754.2,75.1 757.3,78.3 759.2,81.4 761.2,84.6 763.1,87.7 765.1,90.9 768.9,94.0 772.4,97.2 776.0,100.3 778.8,103.5" fill="none" stroke="#00ffff" stroke-width="1.6" stroke-linejoin="round"/>
<g fill="#00ffff"><circle cx="671.9" cy="21.6" r="3.0"/><circle cx="668.2" cy="24.7" r="3.0"/><circle cx="670.9" cy="27.9" r="3.0"/><circle cx="675.8" cy="31.0" r="3.0"/><circle cx="681.1" cy="34.2" r="3.0"/><circle cx="682.7" cy="37.3" r="3.0"/><circle cx="684.4" cy="40.5" r="3.0"/><circle cx="687.8" cy="43.6" r="3.0"/><circle cx="693.0" cy="46.8" r="3.0"/><circle cx="700.9" cy="49.9" r="3.0"/><circle cx="711.9" cy="53.1" r="3.0"/><circle cx="721.2" cy="56.2" r="3.0"/><circle cx="728.4" cy="59.4" r="3.0"/><circle cx="736.3" cy="62.5" r="3.0"/><circle cx="742.3" cy="65.7" r="3.0"/><circle cx="746.6" cy="68.8" r="3.0"/><circle cx="749.5" cy="72.0" r="3.0"/><circle cx="754.2" cy="75.1" r="3.0"/><circle cx="757.3" cy="78.3" r="3.0"/><circle cx="759.2" cy="81.4" r="3.0"/><circle cx="761.2" cy="84.6" r="3.0"/><circle cx="763.1" cy="87.7" r="3.0"/><circle cx="765.1" cy="90.9" r="3.0"/><circle cx="768.9" cy="94.0" r="3.0"/><circle cx="772.4" cy="97.2" r="3.0"/><circle cx="776.0" cy="100.3" r="3.0"/><circle cx="778.8" cy="103.5" r="3.0"/></g>
<polyline points="669.1,22.2 668.9,25.3 673.4,28.5 678.7,31.6 681.3,34.8 683.0,37.9 685.5,41.1 690.2,44.2 693.3,47.4 698.8,50.5 707.2,53.7 717.5,56.8 723.4,60.0 729.9,63.1 737.2,66.3 742.1,69.4 747.3,72.6 753.8,75.7 758.8,78.9 762.5,82.0 767.1,85.2 770.1,88.3 772.9,91.5 776.0,94.6 780.0,97.8 778.4,100.9" fill="none" stroke="#00ffff" stroke-width="1.6" stroke-linejoin="round"/>
<g fill="#00ffff"><circle cx="669.1" cy="22.2" r="3.0"/><circle cx="668.9" cy="25.3" r="3.0"/><circle cx="673.4" cy="28.5" r="3.0"/><circle cx="678.7" cy="31.6" r="3.0"/><circle cx="681.3" cy="34.8" r="3.0"/><circle cx="683.0" cy="37.9" r="3.0"/><circle cx="685.5" cy="41.1" r="3.0"/><circle cx="690.2" cy="44.2" r="3.0"/><circle cx="693.3" cy="47.4" r="3.0"/><circle cx="698.8" cy="50.5" r="3.0"/><circle cx="707.2" cy="53.7" r="3.0"/><circle cx="717.5" cy="56.8" r="3.0"/><circle cx="723.4" cy="60.0" r="3.0"/><circle cx="729.9" cy="63.1" r="3.0"/><circle cx="737.2" cy="66.3" r="3.0"/><circle cx="742.1" cy="69.4" r="3.0"/><circle cx="747.3" cy="72.6" r="3.0"/><circle cx="753.8" cy="75.7" r="3.0"/><circle cx="758.8" cy="78.9" r="3.0"/><circle cx="762.5" cy="82.0" r="3.0"/><circle cx="767.1" cy="85.2" r="3.0"/><circle cx="770.1" cy="88.3" r="3.0"/><circle cx="772.9" cy="91.5" r="3.0"/><circle cx="776.0" cy="94.6" r="3.0"/><circle cx="780.0" cy="97.8" r="3.0"/><circle cx="778.4" cy="100.9" r="3.0"/></g>
<polyline points="672.8,21.6 664.9,24.7 668.6,27.9 672.5,31.0 679.7,34.2 682.0,37.3 685.3,40.5 688.9,43.6 695.3,46.8 705.3,49.9 716.3,53.1 721.5,56.2 726.8,59.4 731.1,62.5 733.0,65.7 735.6,68.8 737.6,72.0 740.7,75.1 742.9,78.3 746.9,81.4 750.8,84.6 756.5,87.7 761.3,90.9 768.6,94.0 776.0,97.2 779.2,100.3 784.0,103.5" fill="none" stroke="#00ffff" stroke-width="1.6" stroke-linejoin="round"/>
<g fill="#00ffff"><circle cx="672.8" cy="21.6" r="3.0"/><circle cx="664.9" cy="24.7" r="3.0"/><circle cx="668.6" cy="27.9" r="3.0"/><circle cx="672.5" cy="31.0" r="3.0"/><circle cx="679.7" cy="34.2" r="3.0"/><circle cx="682.0" cy="37.3" r="3.0"/><circle cx="685.3" cy="40.5" r="3.0"/><circle cx="688.9" cy="43.6" r="3.0"/><circle cx="695.3" cy="46.8" r="3.0"/><circle cx="705.3" cy="49.9" r="3.0"/><circle cx="716.3" cy="53.1" r="3.0"/><circle cx="721.5" cy="56.2" r="3.0"/><circle cx="726.8" cy="59.4" r="3.0"/><circle cx="731.1" cy="62.5" r="3.0"/><circle cx="733.0" cy="65.7" r="3.0"/><circle cx="735.6" cy="68.8" r="3.0"/><circle cx="737.6" cy="72.0" r="3.0"/><circle cx="740.7" cy="75.1" r="3.0"/><circle cx="742.9" cy="78.3" r="3.0"/><circle cx="746.9" cy="81.4" r="3.0"/><circle cx="750.8" cy="84.6" r="3.0"/><circle cx="756.5" cy="87.7" r="3.0"/><circle cx="761.3" cy="90.9" r="3.0"/><circle cx="768.6" cy="94.0" r="3.0"/><circle cx="776.0" cy="97.2" r="3.0"/><circle cx="779.2" cy="100.3" r="3.0"/><circle cx="784.0" cy="103.5" r="3.0"/></g>
<polyline points="669.7,22.5 666.3,25.6 669.5,28.8 674.7,31.9 681.1,35.1 683.1,38.2 685.4,41.4 690.1,44.5 696.8,47.7 706.5,50.8 716.1,54.0 721.9,57.1 724.9,60.3 728.2,63.4 730.0,66.6 732.7,69.7 735.1,72.9 738.1,76.0 741.8,79.2 747.0,82.3 750.9,85.5 756.3,88.6 762.5,91.8 771.1,94.9 777.7,98.1 779.2,101.2 785.7,104.4" fill="none" stroke="#00ffff" stroke-width="1.6" stroke-linejoin="round"/>
<g fill="#00ffff"><circle cx="669.7" cy="22.5" r="3.0"/><circle cx="666.3" cy="25.6" r="3.0"/><circle cx="669.5" cy="28.8" r="3.0"/><circle cx="674.7" cy="31.9" r="3.0"/><circle cx="681.1" cy="35.1" r="3.0"/><circle cx="683.1" cy="38.2" r="3.0"/><circle cx="685.4" cy="41.4" r="3.0"/><circle cx="690.1" cy="44.5" r="3.0"/><circle cx="696.8" cy="47.7" r="3.0"/><circle cx="706.5" cy="50.8" r="3.0"/><circle cx="716.1" cy="54.0" r="3.0"/><circle cx="721.9" cy="57.1" r="3.0"/><circle cx="724.9" cy="60.3" r="3.0"/><circle cx="728.2" cy="63.4" r="3.0"/><circle cx="730.0" cy="66.6" r="3.0"/><circle cx="732.7" cy="69.7" r="3.0"/><circle cx="735.1" cy="72.9" r="3.0"/><circle cx="738.1" cy="76.0" r="3.0"/><circle cx="741.8" cy="79.2" r="3.0"/><circle cx="747.0" cy="82.3" r="3.0"/><circle cx="750.9" cy="85.5" r="3.0"/><circle cx="756.3" cy="88.6" r="3.0"/><circle cx="762.5" cy="91.8" r="3.0"/><circle cx="771.1" cy="94.9" r="3.0"/><circle cx="777.7" cy="98.1" r="3.0"/><circle cx="779.2" cy="101.2" r="3.0"/><circle cx="785.7" cy="104.4" r="3.0"/></g>
<polyline points="671.3,21.7 666.1,24.8 668.8,28.0 672.8,31.1 680.7,34.3 681.0,37.4 684.1,40.6 687.8,43.7 692.9,46.9 698.2,50.0 706.0,53.2 711.6,56.3 715.7,59.5 717.9,62.6 721.0,65.8 725.7,68.9 729.6,72.1 733.0,75.2 739.2,78.4 744.4,81.5 750.2,84.7 756.3,87.8 762.3,91.0 769.1,94.1 774.9,97.3 779.0,100.4" fill="none" stroke="#00ffff" stroke-width="1.6" stroke-linejoin="round"/>
<g fill="#00ffff"><circle cx="671.3" cy="21.7" r="3.0"/><circle cx="666.1" cy="24.8" r="3.0"/><circle cx="668.8" cy="28.0" r="3.0"/><circle cx="672.8" cy="31.1" r="3.0"/><circle cx="680.7" cy="34.3" r="3.0"/><circle cx="681.0" cy="37.4" r="3.0"/><circle cx="684.1" cy="40.6" r="3.0"/><circle cx="687.8" cy="43.7" r="3.0"/><circle cx="692.9" cy="46.9" r="3.0"/><circle cx="698.2" cy="50.0" r="3.0"/><circle cx="706.0" cy="53.2" r="3.0"/><circle cx="711.6" cy="56.3" r="3.0"/><circle cx="715.7" cy="59.5" r="3.0"/><circle cx="717.9" cy="62.6" r="3.0"/><circle cx="721.0" cy="65.8" r="3.0"/><circle cx="725.7" cy="68.9" r="3.0"/><circle cx="729.6" cy="72.1" r="3.0"/><circle cx="733.0" cy="75.2" r="3.0"/><circle cx="739.2" cy="78.4" r="3.0"/><circle cx="744.4" cy="81.5" r="3.0"/><circle cx="750.2" cy="84.7" r="3.0"/><circle cx="756.3" cy="87.8" r="3.0"/><circle cx="762.3" cy="91.0" r="3.0"/><circle cx="769.1" cy="94.1" r="3.0"/><circle cx="774.9" cy="97.3" r="3.0"/><circle cx="779.0" cy="100.4" r="3.0"/></g>
<polyline points="672.1,22.0 664.3,25.2 669.2,28.3 673.7,31.5 680.7,34.6 682.2,37.8 685.4,40.9 688.9,44.1 692.7,47.2 697.2,50.4 703.4,53.5 709.2,56.7 714.2,59.8 715.1,63.0 718.1,66.1 722.1,69.3 726.9,72.4 731.8,75.6 737.0,78.7 743.2,81.9 749.0,85.0 756.0,88.2 761.5,91.3 768.4,94.5 774.3,97.6 778.0,100.8" fill="none" stroke="#00ffff" stroke-width="1.6" stroke-linejoin="round"/>
<g fill="#00ffff"><circle cx="672.1" cy="22.0" r="3.0"/><circle cx="664.3" cy="25.2" r="3.0"/><circle cx="669.2" cy="28.3" r="3.0"/><circle cx="673.7" cy="31.5" r="3.0"/><circle cx="680.7" cy="34.6" r="3.0"/><circle cx="682.2" cy="37.8" r="3.0"/><circle cx="685.4" cy="40.9" r="3.0"/><circle cx="688.9" cy="44.1" r="3.0"/><circle cx="692.7" cy="47.2" r="3.0"/><circle cx="697.2" cy="50.4" r="3.0"/><circle cx="703.4" cy="53.5" r="3.0"/><circle cx="709.2" cy="56.7" r="3.0"/><circle cx="714.2" cy="59.8" r="3.0"/><circle cx="715.1" cy="63.0" r="3.0"/><circle cx="718.1" cy="66.1" r="3.0"/><circle cx="722.1" cy="69.3" r="3.0"/><circle cx="726.9" cy="72.4" r="3.0"/><circle cx="731.8" cy="75.6" r="3.0"/><circle cx="737.0" cy="78.7" r="3.0"/><circle cx="743.2" cy="81.9" r="3.0"/><circle cx="749.0" cy="85.0" r="3.0"/><circle cx="756.0" cy="88.2" r="3.0"/><circle cx="761.5" cy="91.3" r="3.0"/><circle cx="768.4" cy="94.5" r="3.0"/><circle cx="774.3" cy="97.6" r="3.0"/><circle cx="778.0" cy="100.8" r="3.0"/></g>
<polyline points="671.2,22.0 666.3,25.1 665.6,28.3 670.4,31.4 676.7,34.6 679.6,37.7 681.5,40.9 686.5,44.0 691.4,47.2 695.9,50.3 702.7,53.5 710.2,56.6 714.1,59.8 716.1,62.9 719.7,66.1 721.5,69.2 724.5,72.4 726.4,75.5 730.2,78.7 734.8,81.8 740.1,85.0 745.7,88.1 751.3,91.3 756.2,94.4 763.2,97.6 771.3,100.7" fill="none" stroke="#00ffff" stroke-width="1.6" stroke-linejoin="round"/>
<g fill="#00ffff"><circle cx="671.2" cy="22.0" r="3.0"/><circle cx="666.3" cy="25.1" r="3.0"/><circle cx="665.6" cy="28.3" r="3.0"/><circle cx="670.4" cy="31.4" r="3.0"/><circle cx="676.7" cy="34.6" r="3.0"/><circle cx="679.6" cy="37.7" r="3.0"/><circle cx="681.5" cy="40.9" r="3.0"/><circle cx="686.5" cy="44.0" r="3.0"/><circle cx="691.4" cy="47.2" r="3.0"/><circle cx="695.9" cy="50.3" r="3.0"/><circle cx="702.7" cy="53.5" r="3.0"/><circle cx="710.2" cy="56.6" r="3.0"/><circle cx="714.1" cy="59.8" r="3.0"/><circle cx="716.1" cy="62.9" r="3.0"/><circle cx="719.7" cy="66.1" r="3.0"/><circle cx="721.5" cy="69.2" r="3.0"/><circle cx="724.5" cy="72.4" r="3.0"/><circle cx="726.4" cy="75.5" r="3.0"/><circle cx="730.2" cy="78.7" r="3.0"/><circle cx="734.8" cy="81.8" r="3.0"/><circle cx="740.1" cy="85.0" r="3.0"/><circle cx="745.7" cy="88.1" r="3.0"/><circle cx="751.3" cy="91.3" r="3.0"/><circle cx="756.2" cy="94.4" r="3.0"/><circle cx="763.2" cy="97.6" r="3.0"/><circle cx="771.3" cy="100.7" r="3.0"/></g>
<polyline points="671.5,22.1 665.7,25.2 665.2,28.4 669.9,31.5 675.4,34.7 679.9,37.8 682.8,41.0 686.0,44.1 689.0,47.3 693.5,50.4 699.4,53.6 707.6,56.7 713.7,59.9 715.2,63.0 718.4,66.2 720.8,69.3 723.4,72.5 726.1,75.6 729.0,78.8 732.8,81.9 738.4,85.1 742.2,88.2 748.1,91.4 753.7,94.5 759.5,97.7 767.0,100.8" fill="none" stroke="#00ffff" stroke-width="1.6" stroke-linejoin="round"/>
<g fill="#00ffff"><circle cx="671.5" cy="22.1" r="3.0"/><circle cx="665.7" cy="25.2" r="3.0"/><circle cx="665.2" cy="28.4" r="3.0"/><circle cx="669.9" cy="31.5" r="3.0"/><circle cx="675.4" cy="34.7" r="3.0"/><circle cx="679.9" cy="37.8" r="3.0"/><circle cx="682.8" cy="41.0" r="3.0"/><circle cx="686.0" cy="44.1" r="3.0"/><circle cx="689.0" cy="47.3" r="3.0"/><circle cx="693.5" cy="50.4" r="3.0"/><circle cx="699.4" cy="53.6" r="3.0"/><circle cx="707.6" cy="56.7" r="3.0"/><circle cx="713.7" cy="59.9" r="3.0"/><circle cx="715.2" cy="63.0" r="3.0"/><circle cx="718.4" cy="66.2" r="3.0"/><circle cx="720.8" cy="69.3" r="3.0"/><circle cx="723.4" cy="72.5" r="3.0"/><circle cx="726.1" cy="75.6" r="3.0"/><circle cx="729.0" cy="78.8" r="3.0"/><circle cx="732.8" cy="81.9" r="3.0"/><circle cx="738.4" cy="85.1" r="3.0"/><circle cx="742.2" cy="88.2" r="3.0"/><circle cx="748.1" cy="91.4" r="3.0"/><circle cx="753.7" cy="94.5" r="3.0"/><circle cx="759.5" cy="97.7" r="3.0"/><circle cx="767.0" cy="100.8" r="3.0"/></g>
<polyline points="670.3,22.7 664.2,25.9 667.3,29.0 671.9,32.2 678.9,35.3 681.1,38.5 682.5,41.6 687.1,44.8 689.3,47.9 692.5,51.1 697.5,54.2 701.4,57.4 703.8,60.5 707.1,63.7 711.7,66.8 715.0,70.0 720.5,73.1 724.6,76.3 729.8,79.4 736.3,82.6 742.2,85.7 748.2,88.9 753.6,92.0 760.1,95.2 764.9,98.3 771.3,101.5" fill="none" stroke="#00ffff" stroke-width="1.6" stroke-linejoin="round"/>
<g fill="#00ffff"><circle cx="670.3" cy="22.7" r="3.0"/><circle cx="664.2" cy="25.9" r="3.0"/><circle cx="667.3" cy="29.0" r="3.0"/><circle cx="671.9" cy="32.2" r="3.0"/><circle cx="678.9" cy="35.3" r="3.0"/><circle cx="681.1" cy="38.5" r="3.0"/><circle cx="682.5" cy="41.6" r="3.0"/><circle cx="687.1" cy="44.8" r="3.0"/><circle cx="689.3" cy="47.9" r="3.0"/><circle cx="692.5" cy="51.1" r="3.0"/><circle cx="697.5" cy="54.2" r="3.0"/><circle cx="701.4" cy="57.4" r="3.0"/><circle cx="703.8" cy="60.5" r="3.0"/><circle cx="707.1" cy="63.7" r="3.0"/><circle cx="711.7" cy="66.8" r="3.0"/><circle cx="715.0" cy="70.0" r="3.0"/><circle cx="720.5" cy="73.1" r="3.0"/><circle cx="724.6" cy="76.3" r="3.0"/><circle cx="729.8" cy="79.4" r="3.0"/><circle cx="736.3" cy="82.6" r="3.0"/><circle cx="742.2" cy="85.7" r="3.0"/><circle cx="748.2" cy="88.9" r="3.0"/><circle cx="753.6" cy="92.0" r="3.0"/><circle cx="760.1" cy="95.2" r="3.0"/><circle cx="764.9" cy="98.3" r="3.0"/><circle cx="771.3" cy="101.5" r="3.0"/></g>
<polyline points="671.0,22.4 665.8,25.6 666.4,28.7 670.6,31.9 677.8,35.0 680.5,38.2 682.7,41.3 685.2,44.5 688.1,47.6 690.2,50.8 694.1,53.9 697.0,57.1 698.4,60.2 703.1,63.4 709.1,66.5 711.3,69.7 716.9,72.8 721.2,76.0 726.7,79.1 732.1,82.3 738.3,85.4 743.7,88.6 749.5,91.7 755.0,94.9 760.9,98.0 765.9,101.2" fill="none" stroke="#00ffff" stroke-width="1.6" stroke-linejoin="round"/>
<g fill="#00ffff"><circle cx="671.0" cy="22.4" r="3.0"/><circle cx="665.8" cy="25.6" r="3.0"/><circle cx="666.4" cy="28.7" r="3.0"/><circle cx="670.6" cy="31.9" r="3.0"/><circle cx="677.8" cy="35.0" r="3.0"/><circle cx="680.5" cy="38.2" r="3.0"/><circle cx="682.7" cy="41.3" r="3.0"/><circle cx="685.2" cy="44.5" r="3.0"/><circle cx="688.1" cy="47.6" r="3.0"/><circle cx="690.2" cy="50.8" r="3.0"/><circle cx="694.1" cy="53.9" r="3.0"/><circle cx="697.0" cy="57.1" r="3.0"/><circle cx="698.4" cy="60.2" r="3.0"/><circle cx="703.1" cy="63.4" r="3.0"/><circle cx="709.1" cy="66.5" r="3.0"/><circle cx="711.3" cy="69.7" r="3.0"/><circle cx="716.9" cy="72.8" r="3.0"/><circle cx="721.2" cy="76.0" r="3.0"/><circle cx="726.7" cy="79.1" r="3.0"/><circle cx="732.1" cy="82.3" r="3.0"/><circle cx="738.3" cy="85.4" r="3.0"/><circle cx="743.7" cy="88.6" r="3.0"/><circle cx="749.5" cy="91.7" r="3.0"/><circle cx="755.0" cy="94.9" r="3.0"/><circle cx="760.9" cy="98.0" r="3.0"/><circle cx="765.9" cy="101.2" r="3.0"/></g>
<polyline points="672.6,22.2 665.9,25.3 665.1,28.5 670.9,31.6 677.6,34.8 680.9,37.9 682.0,41.1 684.6,44.2 686.8,47.4 690.6,50.5 692.0,53.7 693.2,56.8 695.5,60.0 697.2,63.1 704.0,66.3 710.9,69.4 713.7,72.6 720.1,75.7 725.5,78.9 732.4,82.0 738.4,85.2 744.1,88.3 749.4,91.5 753.8,94.6 759.7,97.8 764.3,100.9" fill="none" stroke="#00ffff" stroke-width="1.6" stroke-linejoin="round"/>
<g fill="#00ffff"><circle cx="672.6" cy="22.2" r="3.0"/><circle cx="665.9" cy="25.3" r="3.0"/><circle cx="665.1" cy="28.5" r="3.0"/><circle cx="670.9" cy="31.6" r="3.0"/><circle cx="677.6" cy="34.8" r="3.0"/><circle cx="680.9" cy="37.9" r="3.0"/><circle cx="682.0" cy="41.1" r="3.0"/><circle cx="684.6" cy="44.2" r="3.0"/><circle cx="686.8" cy="47.4" r="3.0"/><circle cx="690.6" cy="50.5" r="3.0"/><circle cx="692.0" cy="53.7" r="3.0"/><circle cx="693.2" cy="56.8" r="3.0"/><circle cx="695.5" cy="60.0" r="3.0"/><circle cx="697.2" cy="63.1" r="3.0"/><circle cx="704.0" cy="66.3" r="3.0"/><circle cx="710.9" cy="69.4" r="3.0"/><circle cx="713.7" cy="72.6" r="3.0"/><circle cx="720.1" cy="75.7" r="3.0"/><circle cx="725.5" cy="78.9" r="3.0"/><circle cx="732.4" cy="82.0" r="3.0"/><circle cx="738.4" cy="85.2" r="3.0"/><circle cx="744.1" cy="88.3" r="3.0"/><circle cx="749.4" cy="91.5" r="3.0"/><circle cx="753.8" cy="94.6" r="3.0"/><circle cx="759.7" cy="97.8" r="3.0"/><circle cx="764.3" cy="100.9" r="3.0"/></g>
<polyline points="672.4,22.1 667.3,25.2 664.4,28.4 667.6,31.5 673.0,34.7 677.2,37.8 679.9,41.0 678.6,44.1 681.5,47.3 682.8,50.4 685.9,53.6 690.1,56.7 695.2,59.9 704.5,63.0 713.2,66.2 718.0,69.3 721.9,72.5 725.9,75.6 728.2,78.8 730.6,81.9 732.1,85.1 733.6,88.2 735.9,91.4 738.6,94.5 742.3,97.7 746.4,100.8" fill="none" stroke="#00ffff" stroke-width="1.6" stroke-linejoin="round"/>
<g fill="#00ffff"><circle cx="672.4" cy="22.1" r="3.0"/><circle cx="667.3" cy="25.2" r="3.0"/><circle cx="664.4" cy="28.4" r="3.0"/><circle cx="667.6" cy="31.5" r="3.0"/><circle cx="673.0" cy="34.7" r="3.0"/><circle cx="677.2" cy="37.8" r="3.0"/><circle cx="679.9" cy="41.0" r="3.0"/><circle cx="678.6" cy="44.1" r="3.0"/><circle cx="681.5" cy="47.3" r="3.0"/><circle cx="682.8" cy="50.4" r="3.0"/><circle cx="685.9" cy="53.6" r="3.0"/><circle cx="690.1" cy="56.7" r="3.0"/><circle cx="695.2" cy="59.9" r="3.0"/><circle cx="704.5" cy="63.0" r="3.0"/><circle cx="713.2" cy="66.2" r="3.0"/><circle cx="718.0" cy="69.3" r="3.0"/><circle cx="721.9" cy="72.5" r="3.0"/><circle cx="725.9" cy="75.6" r="3.0"/><circle cx="728.2" cy="78.8" r="3.0"/><circle cx="730.6" cy="81.9" r="3.0"/><circle cx="732.1" cy="85.1" r="3.0"/><circle cx="733.6" cy="88.2" r="3.0"/><circle cx="735.9" cy="91.4" r="3.0"/><circle cx="738.6" cy="94.5" r="3.0"/><circle cx="742.3" cy="97.7" r="3.0"/><circle cx="746.4" cy="100.8" r="3.0"/></g>
<g fill="#00ffff"><circle cx="647.2" cy="22.8" r="3.0"/></g>
<polyline points="711.3,47.0 722.9,50.1 727.7,53.3 731.6,56.4 736.9,59.6 741.5,62.7 746.6,65.9 751.4,69.0 754.6,72.2 759.4,75.4 766.5,78.5 771.1,81.7 776.6,84.8 779.9,88.0 785.8,91.1 791.7,94.3 796.1,97.4 802.8,100.6" fill="none" stroke="#00ffff" stroke-width="1.6" stroke-linejoin="round"/>
<g fill="#00ffff"><circle cx="711.3" cy="47.0" r="3.0"/><circle cx="722.9" cy="50.1" r="3.0"/><circle cx="727.7" cy="53.3" r="3.0"/><circle cx="731.6" cy="56.4" r="3.0"/><circle cx="736.9" cy="59.6" r="3.0"/><circle cx="741.5" cy="62.7" r="3.0"/><circle cx="746.6" cy="65.9" r="3.0"/><circle cx="751.4" cy="69.0" r="3.0"/><circle cx="754.6" cy="72.2" r="3.0"/><circle cx="759.4" cy="75.4" r="3.0"/><circle cx="766.5" cy="78.5" r="3.0"/><circle cx="771.1" cy="81.7" r="3.0"/><circle cx="776.6" cy="84.8" r="3.0"/><circle cx="779.9" cy="88.0" r="3.0"/><circle cx="785.8" cy="91.1" r="3.0"/><circle cx="791.7" cy="94.3" r="3.0"/><circle cx="796.1" cy="97.4" r="3.0"/><circle cx="802.8" cy="100.6" r="3.0"/></g>
<polyline points="716.9,46.5 725.3,49.6 729.7,52.8 734.2,55.9 740.4,59.1 745.1,62.2 749.9,65.4 754.4,68.5 760.6,71.7 766.2,74.9 771.8,78.0 776.6,81.2 782.8,84.3 788.0,87.5 793.6,90.6 799.0,93.8 804.7,96.9 810.2,100.1" fill="none" stroke="#00ffff" stroke-width="1.6" stroke-linejoin="round"/>
<g fill="#00ffff"><circle cx="716.9" cy="46.5" r="3.0"/><circle cx="725.3" cy="49.6" r="3.0"/><circle cx="729.7" cy="52.8" r="3.0"/><circle cx="734.2" cy="55.9" r="3.0"/><circle cx="740.4" cy="59.1" r="3.0"/><circle cx="745.1" cy="62.2" r="3.0"/><circle cx="749.9" cy="65.4" r="3.0"/><circle cx="754.4" cy="68.5" r="3.0"/><circle cx="760.6" cy="71.7" r="3.0"/><circle cx="766.2" cy="74.9" r="3.0"/><circle cx="771.8" cy="78.0" r="3.0"/><circle cx="776.6" cy="81.2" r="3.0"/><circle cx="782.8" cy="84.3" r="3.0"/><circle cx="788.0" cy="87.5" r="3.0"/><circle cx="793.6" cy="90.6" r="3.0"/><circle cx="799.0" cy="93.8" r="3.0"/><circle cx="804.7" cy="96.9" r="3.0"/><circle cx="810.2" cy="100.1" r="3.0"/></g>
<polyline points="685.8,51.6 690.6,54.8 694.5,57.9 696.7,61.0 698.2,64.2 698.4,67.4 702.6,70.5 710.1,73.7 714.9,76.8 717.9,80.0 721.7,83.1 723.9,86.3 730.0,89.4 734.6,92.6 738.9,95.7 741.4,98.9 745.8,102.0" fill="none" stroke="#00ffff" stroke-width="1.6" stroke-linejoin="round"/>
<g fill="#00ffff"><circle cx="685.8" cy="51.6" r="3.0"/><circle cx="690.6" cy="54.8" r="3.0"/><circle cx="694.5" cy="57.9" r="3.0"/><circle cx="696.7" cy="61.0" r="3.0"/><circle cx="698.2" cy="64.2" r="3.0"/><circle cx="698.4" cy="67.4" r="3.0"/><circle cx="702.6" cy="70.5" r="3.0"/><circle cx="710.1" cy="73.7" r="3.0"/><circle cx="714.9" cy="76.8" r="3.0"/><circle cx="717.9" cy="80.0" r="3.0"/><circle cx="721.7" cy="83.1" r="3.0"/><circle cx="723.9" cy="86.3" r="3.0"/><circle cx="730.0" cy="89.4" r="3.0"/><circle cx="734.6" cy="92.6" r="3.0"/><circle cx="738.9" cy="95.7" r="3.0"/><circle cx="741.4" cy="98.9" r="3.0"/><circle cx="745.8" cy="102.0" r="3.0"/></g>
<polyline points="688.5,50.0 691.8,53.1 695.9,56.3 698.3,59.4 700.2,62.6 703.0,65.8 708.0,68.9 713.0,72.1 718.2,75.2 720.5,78.4 724.0,81.5 726.2,84.7 730.9,87.8 735.9,91.0 740.6,94.1 745.5,97.3 748.8,100.4" fill="none" stroke="#00ffff" stroke-width="1.6" stroke-linejoin="round"/>
<g fill="#00ffff"><circle cx="688.5" cy="50.0" r="3.0"/><circle cx="691.8" cy="53.1" r="3.0"/><circle cx="695.9" cy="56.3" r="3.0"/><circle cx="698.3" cy="59.4" r="3.0"/><circle cx="700.2" cy="62.6" r="3.0"/><circle cx="703.0" cy="65.8" r="3.0"/><circle cx="708.0" cy="68.9" r="3.0"/><circle cx="713.0" cy="72.1" r="3.0"/><circle cx="718.2" cy="75.2" r="3.0"/><circle cx="720.5" cy="78.4" r="3.0"/><circle cx="724.0" cy="81.5" r="3.0"/><circle cx="726.2" cy="84.7" r="3.0"/><circle cx="730.9" cy="87.8" r="3.0"/><circle cx="735.9" cy="91.0" r="3.0"/><circle cx="740.6" cy="94.1" r="3.0"/><circle cx="745.5" cy="97.3" r="3.0"/><circle cx="748.8" cy="100.4" r="3.0"/></g>
<polyline points="671.8,22.0 666.4,25.1 669.2,28.3 673.8,31.4 680.0,34.6 681.9,37.7 684.2,40.9 687.8,44.0 692.2,47.2 697.4,50.3 705.2,53.5 713.8,56.6 719.2,59.8 723.7,62.9 728.9,66.1 733.9,69.2 738.0,72.4 741.7,75.5 745.4,78.7 749.1,81.9 752.7,85.0 756.3,88.2 760.5,91.3 765.3,94.5 770.3,97.6 776.1,100.8 777.4,103.9 805.9,107.1 812.6,110.2 816.7,113.4 821.5,116.5 823.9,119.7 827.5,122.8 830.1,126.0 830.8,129.1 830.8,132.3 833.5,135.4 835.3,138.6 837.3,141.7 840.5,144.9 843.0,148.0 846.0,151.2 848.6,154.3 853.3,157.5 857.4,160.6 859.4,163.8 863.7,166.9 866.2,170.1 867.8,173.2 869.5,176.4 870.0,179.5 871.6,182.7 876.9,185.8 883.6,189.0 888.2,192.1 893.7,195.3 897.0,198.4 898.9,201.6 901.5,204.7 908.2,207.9 916.0,211.0 920.3,214.2 919.6,217.3 919.5,220.5 920.7,223.6 920.2,226.8 922.0,229.9 921.5,233.1 923.1,236.2 922.7,239.4 924.3,242.5 924.8,245.7 924.3,248.8 923.8,252.0 923.8,255.1 923.6,258.3 923.1,261.4 922.7,264.6 923.3,267.7 924.7,270.9 924.6,274.0 923.2,277.2 924.3,280.3 924.7,283.5 925.3,286.6 923.9,289.8 924.7,292.9 923.6,296.1 924.6,299.2 924.3,302.3 924.1,305.5 925.8,308.6 925.0,311.8 925.8,314.9 927.2,318.1 926.6,321.2 926.4,324.4 928.1,327.5 928.1,330.7 928.9,333.8" fill="none" stroke="#0000ff" stroke-width="2.4" stroke-linejoin="round"/>
<g fill="#0000ff"><circle cx="671.8" cy="22.0" r="5.9"/><circle cx="666.4" cy="25.1" r="5.9"/><circle cx="669.2" cy="28.3" r="5.9"/><circle cx="673.8" cy="31.4" r="5.9"/><circle cx="680.0" cy="34.6" r="5.9"/><circle cx="681.9" cy="37.7" r="5.9"/><circle cx="684.2" cy="40.9" r="5.9"/><circle cx="687.8" cy="44.0" r="5.9"/><circle cx="692.2" cy="47.2" r="5.9"/><circle cx="697.4" cy="50.3" r="5.9"/><circle cx="705.2" cy="53.5" r="5.9"/><circle cx="713.8" cy="56.6" r="5.9"/><circle cx="719.2" cy="59.8" r="5.9"/><circle cx="723.7" cy="62.9" r="5.9"/><circle cx="728.9" cy="66.1" r="5.9"/><circle cx="733.9" cy="69.2" r="5.9"/><circle cx="738.0" cy="72.4" r="5.9"/><circle cx="741.7" cy="75.5" r="5.9"/><circle cx="745.4" cy="78.7" r="5.9"/><circle cx="749.1" cy="81.9" r="5.9"/><circle cx="752.7" cy="85.0" r="5.9"/><circle cx="756.3" cy="88.2" r="5.9"/><circle cx="760.5" cy="91.3" r="5.9"/><circle cx="765.3" cy="94.5" r="5.9"/><circle cx="770.3" cy="97.6" r="5.9"/><circle cx="776.1" cy="100.8" r="5.9"/><circle cx="777.4" cy="103.9" r="5.9"/><circle cx="805.9" cy="107.1" r="5.9"/><circle cx="812.6" cy="110.2" r="5.9"/><circle cx="816.7" cy="113.4" r="5.9"/><circle cx="821.5" cy="116.5" r="5.9"/><circle cx="823.9" cy="119.7" r="5.9"/><circle cx="827.5" cy="122.8" r="5.9"/><circle cx="830.1" cy="126.0" r="5.9"/><circle cx="830.8" cy="129.1" r="5.9"/><circle cx="830.8" cy="132.3" r="5.9"/><circle cx="833.5" cy="135.4" r="5.9"/><circle cx="835.3" cy="138.6" r="5.9"/><circle cx="837.3" cy="141.7" r="5.9"/><circle cx="840.5" cy="144.9" r="5.9"/><circle cx="843.0" cy="148.0" r="5.9"/><circle cx="846.0" cy="151.2" r="5.9"/><circle cx="848.6" cy="154.3" r="5.9"/><circle cx="853.3" cy="157.5" r="5.9"/><circle cx="857.4" cy="160.6" r="5.9"/><circle cx="859.4" cy="163.8" r="5.9"/><circle cx="863.7" cy="166.9" r="5.9"/><circle cx="866.2" cy="170.1" r="5.9"/><circle cx="867.8" cy="173.2" r="5.9"/><circle cx="869.5" cy="176.4" r="5.9"/><circle cx="870.0" cy="179.5" r="5.9"/><circle cx="871.6" cy="182.7" r="5.9"/><circle cx="876.9" cy="185.8" r="5.9"/><circle cx="883.6" cy="189.0" r="5.9"/><circle cx="888.2" cy="192.1" r="5.9"/><circle cx="893.7" cy="195.3" r="5.9"/><circle cx="897.0" cy="198.4" r="5.9"/><circle cx="898.9" cy="201.6" r="5.9"/><circle cx="901.5" cy="204.7" r="5.9"/><circle cx="908.2" cy="207.9" r="5.9"/><circle cx="916.0" cy="211.0" r="5.9"/><circle cx="920.3" cy="214.2" r="5.9"/><circle cx="919.6" cy="217.3" r="5.9"/><circle cx="919.5" cy="220.5" r="5.9"/><circle cx="920.7" cy="223.6" r="5.9"/><circle cx="920.2" cy="226.8" r="5.9"/><circle cx="922.0" cy="229.9" r="5.9"/><circle cx="921.5" cy="233.1" r="5.9"/><circle cx="923.1" cy="236.2" r="5.9"/><circle cx="922.7" cy="239.4" r="5.9"/><circle cx="924.3" cy="242.5" r="5.9"/><circle cx="924.8" cy="245.7" r="5.9"/><circle cx="924.3" cy="248.8" r="5.9"/><circle cx="923.8" cy="252.0" r="5.9"/><circle cx="923.8" cy="255.1" r="5.9"/><circle cx="923.6" cy="258.3" r="5.9"/><circle cx="923.1" cy="261.4" r="5.9"/><circle cx="922.7" cy="264.6" r="5.9"/><circle cx="923.3" cy="267.7" r="5.9"/><circle cx="924.7" cy="270.9" r="5.9"/><circle cx="924.6" cy="274.0" r="5.9"/><circle cx="923.2" cy="277.2" r="5.9"/><circle cx="924.3" cy="280.3" r="5.9"/><circle cx="924.7" cy="283.5" r="5.9"/><circle cx="925.3" cy="286.6" r="5.9"/><circle cx="923.9" cy="289.8" r="5.9"/><circle cx="924.7" cy="292.9" r="5.9"/><circle cx="923.6" cy="296.1" r="5.9"/><circle cx="924.6" cy="299.2" r="5.9"/><circle cx="924.3" cy="302.3" r="5.9"/><circle cx="924.1" cy="305.5" r="5.9"/><circle cx="925.8" cy="308.6" r="5.9"/><circle cx="925.0" cy="311.8" r="5.9"/><circle cx="925.8" cy="314.9" r="5.9"/><circle cx="927.2" cy="318.1" r="5.9"/><circle cx="926.6" cy="321.2" r="5.9"/><circle cx="926.4" cy="324.4" r="5.9"/><circle cx="928.1" cy="327.5" r="5.9"/><circle cx="928.1" cy="330.7" r="5.9"/><circle cx="928.9" cy="333.8" r="5.9"/></g>
<polyline points="697.0,19.1 697.0,20.6 697.0,22.2 697.0,23.8 697.0,25.4 697.0,26.9 697.5,28.5 698.4,30.9 701.4,34.8 703.2,38.8 704.3,42.7 704.8,46.6 704.6,50.6 704.3,54.5 704.0,58.5 703.5,66.3 700.5,74.2" fill="none" stroke="#ff0000" stroke-width="2.4" stroke-linejoin="round"/>
<g fill="#ff0000"><circle cx="697.0" cy="19.1" r="5.9"/><circle cx="697.0" cy="20.6" r="5.9"/><circle cx="697.0" cy="22.2" r="5.9"/><circle cx="697.0" cy="23.8" r="5.9"/><circle cx="697.0" cy="25.4" r="5.9"/><circle cx="697.0" cy="26.9" r="5.9"/><circle cx="697.5" cy="28.5" r="5.9"/><circle cx="698.4" cy="30.9" r="5.9"/><circle cx="701.4" cy="34.8" r="5.9"/><circle cx="703.2" cy="38.8" r="5.9"/><circle cx="704.3" cy="42.7" r="5.9"/><circle cx="704.8" cy="46.6" r="5.9"/><circle cx="704.6" cy="50.6" r="5.9"/><circle cx="704.3" cy="54.5" r="5.9"/><circle cx="704.0" cy="58.5" r="5.9"/><circle cx="703.5" cy="66.3" r="5.9"/><circle cx="700.5" cy="74.2" r="5.9"/></g>
<polyline points="655.0,19.1 655.5,20.6 656.5,22.2 667.6,23.8 674.5,25.4 679.0,26.9 683.0,28.5 687.0,30.9 691.0,34.8 694.0,38.8 697.3,42.7 700.0,46.6 702.0,50.6 703.0,54.5 703.2,58.5 703.5,66.3 703.8,74.2 704.3,82.1" fill="none" stroke="#008000" stroke-width="2.4" stroke-linejoin="round"/>
<g fill="#008000"><circle cx="655.0" cy="19.1" r="5.9"/><circle cx="655.5" cy="20.6" r="5.9"/><circle cx="656.5" cy="22.2" r="5.9"/><circle cx="667.6" cy="23.8" r="5.9"/><circle cx="674.5" cy="25.4" r="5.9"/><circle cx="679.0" cy="26.9" r="5.9"/><circle cx="683.0" cy="28.5" r="5.9"/><circle cx="687.0" cy="30.9" r="5.9"/><circle cx="691.0" cy="34.8" r="5.9"/><circle cx="694.0" cy="38.8" r="5.9"/><circle cx="697.3" cy="42.7" r="5.9"/><circle cx="700.0" cy="46.6" r="5.9"/><circle cx="702.0" cy="50.6" r="5.9"/><circle cx="703.0" cy="54.5" r="5.9"/><circle cx="703.2" cy="58.5" r="5.9"/><circle cx="703.5" cy="66.3" r="5.9"/><circle cx="703.8" cy="74.2" r="5.9"/><circle cx="704.3" cy="82.1" r="5.9"/></g>
<polyline points="661.4,19.4 684.2,20.3 689.5,21.1 694.9,22.1 698.6,23.1 698.9,24.1 696.5,25.3 690.6,26.6 685.8,28.0 683.1,29.7 683.1,31.5 683.9,33.6 685.2,36.1 687.4,38.9 690.0,42.3 693.3,46.2 698.1,50.8 705.4,56.4 711.0,63.0 719.5,70.9 729.6,80.4 744.6,91.8 765.4,105.5 795.4,122.0 839.3,141.9 883.3,165.7 908.3,194.4" fill="none" stroke="#ff00ff" stroke-width="2.4" stroke-linejoin="round"/>
<g fill="#ff00ff"><circle cx="661.4" cy="19.4" r="5.9"/><circle cx="684.2" cy="20.3" r="5.9"/><circle cx="689.5" cy="21.1" r="5.9"/><circle cx="694.9" cy="22.1" r="5.9"/><circle cx="698.6" cy="23.1" r="5.9"/><circle cx="698.9" cy="24.1" r="5.9"/><circle cx="696.5" cy="25.3" r="5.9"/><circle cx="690.6" cy="26.6" r="5.9"/><circle cx="685.8" cy="28.0" r="5.9"/><circle cx="683.1" cy="29.7" r="5.9"/><circle cx="683.1" cy="31.5" r="5.9"/><circle cx="683.9" cy="33.6" r="5.9"/><circle cx="685.2" cy="36.1" r="5.9"/><circle cx="687.4" cy="38.9" r="5.9"/><circle cx="690.0" cy="42.3" r="5.9"/><circle cx="693.3" cy="46.2" r="5.9"/><circle cx="698.1" cy="50.8" r="5.9"/><circle cx="705.4" cy="56.4" r="5.9"/><circle cx="711.0" cy="63.0" r="5.9"/><circle cx="719.5" cy="70.9" r="5.9"/><circle cx="729.6" cy="80.4" r="5.9"/><circle cx="744.6" cy="91.8" r="5.9"/><circle cx="765.4" cy="105.5" r="5.9"/><circle cx="795.4" cy="122.0" r="5.9"/><circle cx="839.3" cy="141.9" r="5.9"/><circle cx="883.3" cy="165.7" r="5.9"/><circle cx="908.3" cy="194.4" r="5.9"/></g>
</g>
<g stroke="#000" stroke-width="1.30">
<line x1="616.5" y1="814.5" x2="616.5" y2="820.7"/>
<line x1="675.5" y1="814.5" x2="675.5" y2="820.7"/>
<line x1="734.5" y1="814.5" x2="734.5" y2="820.7"/>
<line x1="793.5" y1="814.5" x2="793.5" y2="820.7"/>
<line x1="852.5" y1="814.5" x2="852.5" y2="820.7"/>
<line x1="911.5" y1="814.5" x2="911.5" y2="820.7"/>
<line x1="970.5" y1="814.5" x2="970.5" y2="820.7"/>
<line x1="582.3" y1="19.5" x2="588.5" y2="19.5"/>
<line x1="582.3" y1="97.5" x2="588.5" y2="97.5"/>
<line x1="582.3" y1="176.5" x2="588.5" y2="176.5"/>
<line x1="582.3" y1="255.5" x2="588.5" y2="255.5"/>
<line x1="582.3" y1="334.5" x2="588.5" y2="334.5"/>
<line x1="582.3" y1="413.5" x2="588.5" y2="413.5"/>
<line x1="582.3" y1="491.5" x2="588.5" y2="491.5"/>
<line x1="582.3" y1="570.5" x2="588.5" y2="570.5"/>
<line x1="582.3" y1="649.5" x2="588.5" y2="649.5"/>
<line x1="582.3" y1="728.5" x2="588.5" y2="728.5"/>
<line x1="582.3" y1="807.5" x2="588.5" y2="807.5"/>
</g>
<rect x="588.5" y="19.5" width="399.0" height="795.0" fill="none" stroke="#000" stroke-width="1.30"/>
<g font-size="16.7" text-anchor="middle">
<text x="616.3" y="841.1">33.00</text>
<text x="675.3" y="841.1">33.25</text>
<text x="734.4" y="841.1">33.50</text>
<text x="793.4" y="841.1">33.75</text>
<text x="852.4" y="841.1">34.00</text>
<text x="911.4" y="841.1">34.25</text>
<text x="970.5" y="841.1">34.50</text>
</g>
<g stroke="#a2a2a2" stroke-width="0.86" stroke-dasharray="3.2 1.38" fill="none">
<line x1="1117.5" y1="814.5" x2="1117.5" y2="19.5"/>
<line x1="1176.5" y1="814.5" x2="1176.5" y2="19.5"/>
<line x1="1234.5" y1="814.5" x2="1234.5" y2="19.5"/>
<line x1="1292.5" y1="814.5" x2="1292.5" y2="19.5"/>
<line x1="1351.5" y1="814.5" x2="1351.5" y2="19.5"/>
<line x1="1409.5" y1="814.5" x2="1409.5" y2="19.5"/>
<line x1="1468.5" y1="814.5" x2="1468.5" y2="19.5"/>
<line x1="1078.5" y1="19.5" x2="1476.5" y2="19.5"/>
<line x1="1078.5" y1="97.5" x2="1476.5" y2="97.5"/>
<line x1="1078.5" y1="176.5" x2="1476.5" y2="176.5"/>
<line x1="1078.5" y1="255.5" x2="1476.5" y2="255.5"/>
<line x1="1078.5" y1="334.5" x2="1476.5" y2="334.5"/>
<line x1="1078.5" y1="413.5" x2="1476.5" y2="413.5"/>
<line x1="1078.5" y1="491.5" x2="1476.5" y2="491.5"/>
<line x1="1078.5" y1="570.5" x2="1476.5" y2="570.5"/>
<line x1="1078.5" y1="649.5" x2="1476.5" y2="649.5"/>
<line x1="1078.5" y1="728.5" x2="1476.5" y2="728.5"/>
<line x1="1078.5" y1="807.5" x2="1476.5" y2="807.5"/>
</g>
<g clip-path="url(#c2)">
<polyline points="1170.5,21.5 1219.1,24.6 1226.7,27.8 1232.3,30.9 1234.9,34.1 1239.0,37.2 1241.8,40.4 1245.6,43.5 1249.4,46.7 1253.7,49.8 1256.9,53.0 1259.0,56.1 1262.9,59.3 1266.0,62.4 1271.2,65.6 1275.0,68.7 1279.0,71.9 1282.8,75.0 1286.2,78.2 1289.8,81.3 1292.3,84.5 1293.7,87.6 1297.1,90.8 1299.0,93.9 1302.2,97.1 1305.4,100.2" fill="none" stroke="#00ffff" stroke-width="1.6" stroke-linejoin="round"/>
<g fill="#00ffff"><circle cx="1170.5" cy="21.5" r="3.0"/><circle cx="1219.1" cy="24.6" r="3.0"/><circle cx="1226.7" cy="27.8" r="3.0"/><circle cx="1232.3" cy="30.9" r="3.0"/><circle cx="1234.9" cy="34.1" r="3.0"/><circle cx="1239.0" cy="37.2" r="3.0"/><circle cx="1241.8" cy="40.4" r="3.0"/><circle cx="1245.6" cy="43.5" r="3.0"/><circle cx="1249.4" cy="46.7" r="3.0"/><circle cx="1253.7" cy="49.8" r="3.0"/><circle cx="1256.9" cy="53.0" r="3.0"/><circle cx="1259.0" cy="56.1" r="3.0"/><circle cx="1262.9" cy="59.3" r="3.0"/><circle cx="1266.0" cy="62.4" r="3.0"/><circle cx="1271.2" cy="65.6" r="3.0"/><circle cx="1275.0" cy="68.7" r="3.0"/><circle cx="1279.0" cy="71.9" r="3.0"/><circle cx="1282.8" cy="75.0" r="3.0"/><circle cx="1286.2" cy="78.2" r="3.0"/><circle cx="1289.8" cy="81.3" r="3.0"/><circle cx="1292.3" cy="84.5" r="3.0"/><circle cx="1293.7" cy="87.6" r="3.0"/><circle cx="1297.1" cy="90.8" r="3.0"/><circle cx="1299.0" cy="93.9" r="3.0"/><circle cx="1302.2" cy="97.1" r="3.0"/><circle cx="1305.4" cy="100.2" r="3.0"/></g>
<polyline points="1171.6,21.4 1216.1,24.5 1225.3,27.7 1230.6,30.8 1235.0,34.0 1239.5,37.1 1242.2,40.3 1247.5,43.4 1250.7,46.6 1253.6,49.7 1256.8,52.9 1259.9,56.0 1261.8,59.2 1264.4,62.3 1267.2,65.5 1269.8,68.6 1272.7,71.8 1277.1,74.9 1280.4,78.1 1284.2,81.2 1287.9,84.4 1291.8,87.5 1294.6,90.7 1299.5,93.8 1304.0,97.0 1306.9,100.1 1310.5,103.3" fill="none" stroke="#00ffff" stroke-width="1.6" stroke-linejoin="round"/>
<g fill="#00ffff"><circle cx="1171.6" cy="21.4" r="3.0"/><circle cx="1216.1" cy="24.5" r="3.0"/><circle cx="1225.3" cy="27.7" r="3.0"/><circle cx="1230.6" cy="30.8" r="3.0"/><circle cx="1235.0" cy="34.0" r="3.0"/><circle cx="1239.5" cy="37.1" r="3.0"/><circle cx="1242.2" cy="40.3" r="3.0"/><circle cx="1247.5" cy="43.4" r="3.0"/><circle cx="1250.7" cy="46.6" r="3.0"/><circle cx="1253.6" cy="49.7" r="3.0"/><circle cx="1256.8" cy="52.9" r="3.0"/><circle cx="1259.9" cy="56.0" r="3.0"/><circle cx="1261.8" cy="59.2" r="3.0"/><circle cx="1264.4" cy="62.3" r="3.0"/><circle cx="1267.2" cy="65.5" r="3.0"/><circle cx="1269.8" cy="68.6" r="3.0"/><circle cx="1272.7" cy="71.8" r="3.0"/><circle cx="1277.1" cy="74.9" r="3.0"/><circle cx="1280.4" cy="78.1" r="3.0"/><circle cx="1284.2" cy="81.2" r="3.0"/><circle cx="1287.9" cy="84.4" r="3.0"/><circle cx="1291.8" cy="87.5" r="3.0"/><circle cx="1294.6" cy="90.7" r="3.0"/><circle cx="1299.5" cy="93.8" r="3.0"/><circle cx="1304.0" cy="97.0" r="3.0"/><circle cx="1306.9" cy="100.1" r="3.0"/><circle cx="1310.5" cy="103.3" r="3.0"/></g>
<polyline points="1196.5,22.5 1214.5,25.7 1222.0,28.8 1228.6,32.0 1233.3,35.1 1237.4,38.3 1240.7,41.4 1246.7,44.6 1250.2,47.7 1255.3,50.9 1258.0,54.0 1263.0,57.2 1265.1,60.3 1267.7,63.5 1269.1,66.6 1272.2,69.8 1274.5,72.9 1277.0,76.1 1279.0,79.2 1282.4,82.4 1284.5,85.5 1287.5,88.7 1290.5,91.8 1295.1,95.0 1298.4,98.1 1304.1,101.3" fill="none" stroke="#00ffff" stroke-width="1.6" stroke-linejoin="round"/>
<g fill="#00ffff"><circle cx="1196.5" cy="22.5" r="3.0"/><circle cx="1214.5" cy="25.7" r="3.0"/><circle cx="1222.0" cy="28.8" r="3.0"/><circle cx="1228.6" cy="32.0" r="3.0"/><circle cx="1233.3" cy="35.1" r="3.0"/><circle cx="1237.4" cy="38.3" r="3.0"/><circle cx="1240.7" cy="41.4" r="3.0"/><circle cx="1246.7" cy="44.6" r="3.0"/><circle cx="1250.2" cy="47.7" r="3.0"/><circle cx="1255.3" cy="50.9" r="3.0"/><circle cx="1258.0" cy="54.0" r="3.0"/><circle cx="1263.0" cy="57.2" r="3.0"/><circle cx="1265.1" cy="60.3" r="3.0"/><circle cx="1267.7" cy="63.5" r="3.0"/><circle cx="1269.1" cy="66.6" r="3.0"/><circle cx="1272.2" cy="69.8" r="3.0"/><circle cx="1274.5" cy="72.9" r="3.0"/><circle cx="1277.0" cy="76.1" r="3.0"/><circle cx="1279.0" cy="79.2" r="3.0"/><circle cx="1282.4" cy="82.4" r="3.0"/><circle cx="1284.5" cy="85.5" r="3.0"/><circle cx="1287.5" cy="88.7" r="3.0"/><circle cx="1290.5" cy="91.8" r="3.0"/><circle cx="1295.1" cy="95.0" r="3.0"/><circle cx="1298.4" cy="98.1" r="3.0"/><circle cx="1304.1" cy="101.3" r="3.0"/></g>
<polyline points="1170.9,21.3 1214.7,24.4 1223.2,27.6 1228.6,30.7 1235.0,33.9 1236.9,37.0 1240.7,40.2 1244.5,43.3 1248.4,46.5 1250.5,49.6 1254.4,52.8 1257.0,55.9 1260.7,59.1 1261.7,62.2 1265.3,65.4 1269.3,68.5 1274.1,71.7 1277.2,74.8 1281.1,78.0 1285.2,81.1 1288.0,84.3 1290.6,87.4 1294.3,90.6 1297.9,93.7 1300.6,96.9 1303.0,100.0 1306.9,103.2" fill="none" stroke="#00ffff" stroke-width="1.6" stroke-linejoin="round"/>
<g fill="#00ffff"><circle cx="1170.9" cy="21.3" r="3.0"/><circle cx="1214.7" cy="24.4" r="3.0"/><circle cx="1223.2" cy="27.6" r="3.0"/><circle cx="1228.6" cy="30.7" r="3.0"/><circle cx="1235.0" cy="33.9" r="3.0"/><circle cx="1236.9" cy="37.0" r="3.0"/><circle cx="1240.7" cy="40.2" r="3.0"/><circle cx="1244.5" cy="43.3" r="3.0"/><circle cx="1248.4" cy="46.5" r="3.0"/><circle cx="1250.5" cy="49.6" r="3.0"/><circle cx="1254.4" cy="52.8" r="3.0"/><circle cx="1257.0" cy="55.9" r="3.0"/><circle cx="1260.7" cy="59.1" r="3.0"/><circle cx="1261.7" cy="62.2" r="3.0"/><circle cx="1265.3" cy="65.4" r="3.0"/><circle cx="1269.3" cy="68.5" r="3.0"/><circle cx="1274.1" cy="71.7" r="3.0"/><circle cx="1277.2" cy="74.8" r="3.0"/><circle cx="1281.1" cy="78.0" r="3.0"/><circle cx="1285.2" cy="81.1" r="3.0"/><circle cx="1288.0" cy="84.3" r="3.0"/><circle cx="1290.6" cy="87.4" r="3.0"/><circle cx="1294.3" cy="90.6" r="3.0"/><circle cx="1297.9" cy="93.7" r="3.0"/><circle cx="1300.6" cy="96.9" r="3.0"/><circle cx="1303.0" cy="100.0" r="3.0"/><circle cx="1306.9" cy="103.2" r="3.0"/></g>
<polyline points="1170.6,21.6 1214.2,24.7 1222.6,27.9 1227.6,31.0 1232.6,34.2 1235.5,37.3 1240.3,40.5 1243.6,43.6 1245.5,46.8 1250.0,49.9 1251.9,53.1 1255.4,56.2 1258.3,59.4 1260.7,62.5 1263.7,65.7 1267.7,68.8 1271.0,72.0 1276.5,75.1 1278.9,78.3 1284.0,81.4 1286.1,84.6 1289.3,87.7 1292.1,90.9 1293.9,94.0 1296.9,97.2 1300.4,100.3 1303.9,103.5" fill="none" stroke="#00ffff" stroke-width="1.6" stroke-linejoin="round"/>
<g fill="#00ffff"><circle cx="1170.6" cy="21.6" r="3.0"/><circle cx="1214.2" cy="24.7" r="3.0"/><circle cx="1222.6" cy="27.9" r="3.0"/><circle cx="1227.6" cy="31.0" r="3.0"/><circle cx="1232.6" cy="34.2" r="3.0"/><circle cx="1235.5" cy="37.3" r="3.0"/><circle cx="1240.3" cy="40.5" r="3.0"/><circle cx="1243.6" cy="43.6" r="3.0"/><circle cx="1245.5" cy="46.8" r="3.0"/><circle cx="1250.0" cy="49.9" r="3.0"/><circle cx="1251.9" cy="53.1" r="3.0"/><circle cx="1255.4" cy="56.2" r="3.0"/><circle cx="1258.3" cy="59.4" r="3.0"/><circle cx="1260.7" cy="62.5" r="3.0"/><circle cx="1263.7" cy="65.7" r="3.0"/><circle cx="1267.7" cy="68.8" r="3.0"/><circle cx="1271.0" cy="72.0" r="3.0"/><circle cx="1276.5" cy="75.1" r="3.0"/><circle cx="1278.9" cy="78.3" r="3.0"/><circle cx="1284.0" cy="81.4" r="3.0"/><circle cx="1286.1" cy="84.6" r="3.0"/><circle cx="1289.3" cy="87.7" r="3.0"/><circle cx="1292.1" cy="90.9" r="3.0"/><circle cx="1293.9" cy="94.0" r="3.0"/><circle cx="1296.9" cy="97.2" r="3.0"/><circle cx="1300.4" cy="100.3" r="3.0"/><circle cx="1303.9" cy="103.5" r="3.0"/></g>
<polyline points="1171.6,21.4 1209.1,24.6 1218.2,27.7 1223.9,30.9 1228.1,34.0 1232.2,37.2 1236.9,40.3 1242.6,43.5 1245.6,46.6 1250.5,49.8 1254.7,52.9 1258.4,56.1 1262.7,59.2 1264.3,62.4 1267.9,65.5 1270.4,68.7 1273.4,71.8 1274.9,75.0 1278.1,78.1 1279.5,81.3 1282.2,84.4 1285.0,87.6 1288.3,90.7 1291.4,93.9 1293.3,97.0 1297.7,100.2 1303.9,103.3" fill="none" stroke="#00ffff" stroke-width="1.6" stroke-linejoin="round"/>
<g fill="#00ffff"><circle cx="1171.6" cy="21.4" r="3.0"/><circle cx="1209.1" cy="24.6" r="3.0"/><circle cx="1218.2" cy="27.7" r="3.0"/><circle cx="1223.9" cy="30.9" r="3.0"/><circle cx="1228.1" cy="34.0" r="3.0"/><circle cx="1232.2" cy="37.2" r="3.0"/><circle cx="1236.9" cy="40.3" r="3.0"/><circle cx="1242.6" cy="43.5" r="3.0"/><circle cx="1245.6" cy="46.6" r="3.0"/><circle cx="1250.5" cy="49.8" r="3.0"/><circle cx="1254.7" cy="52.9" r="3.0"/><circle cx="1258.4" cy="56.1" r="3.0"/><circle cx="1262.7" cy="59.2" r="3.0"/><circle cx="1264.3" cy="62.4" r="3.0"/><circle cx="1267.9" cy="65.5" r="3.0"/><circle cx="1270.4" cy="68.7" r="3.0"/><circle cx="1273.4" cy="71.8" r="3.0"/><circle cx="1274.9" cy="75.0" r="3.0"/><circle cx="1278.1" cy="78.1" r="3.0"/><circle cx="1279.5" cy="81.3" r="3.0"/><circle cx="1282.2" cy="84.4" r="3.0"/><circle cx="1285.0" cy="87.6" r="3.0"/><circle cx="1288.3" cy="90.7" r="3.0"/><circle cx="1291.4" cy="93.9" r="3.0"/><circle cx="1293.3" cy="97.0" r="3.0"/><circle cx="1297.7" cy="100.2" r="3.0"/><circle cx="1303.9" cy="103.3" r="3.0"/></g>
<polyline points="1170.2,21.7 1207.4,24.8 1216.6,28.0 1225.2,31.1 1229.4,34.3 1235.2,37.4 1239.9,40.6 1244.5,43.7 1248.0,46.9 1250.9,50.0 1254.6,53.2 1257.7,56.3 1259.7,59.5 1260.8,62.6 1263.7,65.8 1264.7,68.9 1267.7,72.1 1272.1,75.2 1274.4,78.4 1277.5,81.5 1282.2,84.7 1285.2,87.8 1288.0,91.0 1291.6,94.1 1296.1,97.3 1300.6,100.4" fill="none" stroke="#00ffff" stroke-width="1.6" stroke-linejoin="round"/>
<g fill="#00ffff"><circle cx="1170.2" cy="21.7" r="3.0"/><circle cx="1207.4" cy="24.8" r="3.0"/><circle cx="1216.6" cy="28.0" r="3.0"/><circle cx="1225.2" cy="31.1" r="3.0"/><circle cx="1229.4" cy="34.3" r="3.0"/><circle cx="1235.2" cy="37.4" r="3.0"/><circle cx="1239.9" cy="40.6" r="3.0"/><circle cx="1244.5" cy="43.7" r="3.0"/><circle cx="1248.0" cy="46.9" r="3.0"/><circle cx="1250.9" cy="50.0" r="3.0"/><circle cx="1254.6" cy="53.2" r="3.0"/><circle cx="1257.7" cy="56.3" r="3.0"/><circle cx="1259.7" cy="59.5" r="3.0"/><circle cx="1260.8" cy="62.6" r="3.0"/><circle cx="1263.7" cy="65.8" r="3.0"/><circle cx="1264.7" cy="68.9" r="3.0"/><circle cx="1267.7" cy="72.1" r="3.0"/><circle cx="1272.1" cy="75.2" r="3.0"/><circle cx="1274.4" cy="78.4" r="3.0"/><circle cx="1277.5" cy="81.5" r="3.0"/><circle cx="1282.2" cy="84.7" r="3.0"/><circle cx="1285.2" cy="87.8" r="3.0"/><circle cx="1288.0" cy="91.0" r="3.0"/><circle cx="1291.6" cy="94.1" r="3.0"/><circle cx="1296.1" cy="97.3" r="3.0"/><circle cx="1300.6" cy="100.4" r="3.0"/></g>
<polyline points="1175.8,21.9 1211.8,25.0 1218.4,28.2 1223.6,31.3 1228.3,34.5 1232.9,37.6 1235.7,40.8 1238.5,43.9 1242.6,47.1 1246.4,50.2 1249.7,53.4 1254.4,56.5 1256.9,59.7 1261.9,62.8 1263.9,66.0 1267.3,69.1 1271.6,72.3 1274.1,75.4 1278.1,78.6 1279.8,81.7 1282.1,84.9 1284.9,88.0 1285.8,91.2 1289.1,94.3 1291.2,97.5 1294.1,100.6" fill="none" stroke="#00ffff" stroke-width="1.6" stroke-linejoin="round"/>
<g fill="#00ffff"><circle cx="1175.8" cy="21.9" r="3.0"/><circle cx="1211.8" cy="25.0" r="3.0"/><circle cx="1218.4" cy="28.2" r="3.0"/><circle cx="1223.6" cy="31.3" r="3.0"/><circle cx="1228.3" cy="34.5" r="3.0"/><circle cx="1232.9" cy="37.6" r="3.0"/><circle cx="1235.7" cy="40.8" r="3.0"/><circle cx="1238.5" cy="43.9" r="3.0"/><circle cx="1242.6" cy="47.1" r="3.0"/><circle cx="1246.4" cy="50.2" r="3.0"/><circle cx="1249.7" cy="53.4" r="3.0"/><circle cx="1254.4" cy="56.5" r="3.0"/><circle cx="1256.9" cy="59.7" r="3.0"/><circle cx="1261.9" cy="62.8" r="3.0"/><circle cx="1263.9" cy="66.0" r="3.0"/><circle cx="1267.3" cy="69.1" r="3.0"/><circle cx="1271.6" cy="72.3" r="3.0"/><circle cx="1274.1" cy="75.4" r="3.0"/><circle cx="1278.1" cy="78.6" r="3.0"/><circle cx="1279.8" cy="81.7" r="3.0"/><circle cx="1282.1" cy="84.9" r="3.0"/><circle cx="1284.9" cy="88.0" r="3.0"/><circle cx="1285.8" cy="91.2" r="3.0"/><circle cx="1289.1" cy="94.3" r="3.0"/><circle cx="1291.2" cy="97.5" r="3.0"/><circle cx="1294.1" cy="100.6" r="3.0"/></g>
<polyline points="1191.2,22.5 1210.7,25.7 1218.6,28.8 1224.9,32.0 1227.8,35.1 1232.0,38.3 1235.7,41.4 1238.4,44.6 1242.6,47.7 1245.1,50.9 1249.9,54.0 1254.4,57.2 1257.1,60.3 1260.2,63.5 1263.1,66.6 1267.9,69.8 1270.6,72.9 1274.7,76.1 1277.0,79.2 1278.2,82.4 1282.1,85.5 1284.3,88.7 1286.2,91.8 1288.5,95.0 1290.6,98.1 1294.1,101.3 1298.1,104.4" fill="none" stroke="#00ffff" stroke-width="1.6" stroke-linejoin="round"/>
<g fill="#00ffff"><circle cx="1191.2" cy="22.5" r="3.0"/><circle cx="1210.7" cy="25.7" r="3.0"/><circle cx="1218.6" cy="28.8" r="3.0"/><circle cx="1224.9" cy="32.0" r="3.0"/><circle cx="1227.8" cy="35.1" r="3.0"/><circle cx="1232.0" cy="38.3" r="3.0"/><circle cx="1235.7" cy="41.4" r="3.0"/><circle cx="1238.4" cy="44.6" r="3.0"/><circle cx="1242.6" cy="47.7" r="3.0"/><circle cx="1245.1" cy="50.9" r="3.0"/><circle cx="1249.9" cy="54.0" r="3.0"/><circle cx="1254.4" cy="57.2" r="3.0"/><circle cx="1257.1" cy="60.3" r="3.0"/><circle cx="1260.2" cy="63.5" r="3.0"/><circle cx="1263.1" cy="66.6" r="3.0"/><circle cx="1267.9" cy="69.8" r="3.0"/><circle cx="1270.6" cy="72.9" r="3.0"/><circle cx="1274.7" cy="76.1" r="3.0"/><circle cx="1277.0" cy="79.2" r="3.0"/><circle cx="1278.2" cy="82.4" r="3.0"/><circle cx="1282.1" cy="85.5" r="3.0"/><circle cx="1284.3" cy="88.7" r="3.0"/><circle cx="1286.2" cy="91.8" r="3.0"/><circle cx="1288.5" cy="95.0" r="3.0"/><circle cx="1290.6" cy="98.1" r="3.0"/><circle cx="1294.1" cy="101.3" r="3.0"/><circle cx="1298.1" cy="104.4" r="3.0"/></g>
<polyline points="1173.6,22.2 1205.6,25.3 1214.3,28.5 1221.2,31.6 1227.4,34.8 1232.3,37.9 1235.7,41.1 1240.8,44.2 1244.4,47.4 1248.5,50.5 1252.1,53.7 1256.4,56.8 1258.2,60.0 1261.5,63.1 1262.4,66.3 1265.2,69.4 1268.0,72.6 1269.9,75.7 1271.8,78.9 1274.0,82.0 1277.7,85.2 1280.7,88.3 1284.8,91.5 1288.2,94.6 1292.1,97.8 1295.6,100.9" fill="none" stroke="#00ffff" stroke-width="1.6" stroke-linejoin="round"/>
<g fill="#00ffff"><circle cx="1173.6" cy="22.2" r="3.0"/><circle cx="1205.6" cy="25.3" r="3.0"/><circle cx="1214.3" cy="28.5" r="3.0"/><circle cx="1221.2" cy="31.6" r="3.0"/><circle cx="1227.4" cy="34.8" r="3.0"/><circle cx="1232.3" cy="37.9" r="3.0"/><circle cx="1235.7" cy="41.1" r="3.0"/><circle cx="1240.8" cy="44.2" r="3.0"/><circle cx="1244.4" cy="47.4" r="3.0"/><circle cx="1248.5" cy="50.5" r="3.0"/><circle cx="1252.1" cy="53.7" r="3.0"/><circle cx="1256.4" cy="56.8" r="3.0"/><circle cx="1258.2" cy="60.0" r="3.0"/><circle cx="1261.5" cy="63.1" r="3.0"/><circle cx="1262.4" cy="66.3" r="3.0"/><circle cx="1265.2" cy="69.4" r="3.0"/><circle cx="1268.0" cy="72.6" r="3.0"/><circle cx="1269.9" cy="75.7" r="3.0"/><circle cx="1271.8" cy="78.9" r="3.0"/><circle cx="1274.0" cy="82.0" r="3.0"/><circle cx="1277.7" cy="85.2" r="3.0"/><circle cx="1280.7" cy="88.3" r="3.0"/><circle cx="1284.8" cy="91.5" r="3.0"/><circle cx="1288.2" cy="94.6" r="3.0"/><circle cx="1292.1" cy="97.8" r="3.0"/><circle cx="1295.6" cy="100.9" r="3.0"/></g>
<polyline points="1170.3,21.5 1207.9,24.7 1216.0,27.8 1223.5,31.0 1226.6,34.1 1231.8,37.3 1233.9,40.4 1236.8,43.6 1241.5,46.7 1242.9,49.9 1246.2,53.0 1249.8,56.2 1253.2,59.3 1257.3,62.5 1260.4,65.6 1263.8,68.8 1267.2,71.9 1272.2,75.1 1274.2,78.2 1277.5,81.4 1280.9,84.5 1283.8,87.7 1285.6,90.8 1287.7,94.0 1289.8,97.1 1292.5,100.3 1295.8,103.4" fill="none" stroke="#00ffff" stroke-width="1.6" stroke-linejoin="round"/>
<g fill="#00ffff"><circle cx="1170.3" cy="21.5" r="3.0"/><circle cx="1207.9" cy="24.7" r="3.0"/><circle cx="1216.0" cy="27.8" r="3.0"/><circle cx="1223.5" cy="31.0" r="3.0"/><circle cx="1226.6" cy="34.1" r="3.0"/><circle cx="1231.8" cy="37.3" r="3.0"/><circle cx="1233.9" cy="40.4" r="3.0"/><circle cx="1236.8" cy="43.6" r="3.0"/><circle cx="1241.5" cy="46.7" r="3.0"/><circle cx="1242.9" cy="49.9" r="3.0"/><circle cx="1246.2" cy="53.0" r="3.0"/><circle cx="1249.8" cy="56.2" r="3.0"/><circle cx="1253.2" cy="59.3" r="3.0"/><circle cx="1257.3" cy="62.5" r="3.0"/><circle cx="1260.4" cy="65.6" r="3.0"/><circle cx="1263.8" cy="68.8" r="3.0"/><circle cx="1267.2" cy="71.9" r="3.0"/><circle cx="1272.2" cy="75.1" r="3.0"/><circle cx="1274.2" cy="78.2" r="3.0"/><circle cx="1277.5" cy="81.4" r="3.0"/><circle cx="1280.9" cy="84.5" r="3.0"/><circle cx="1283.8" cy="87.7" r="3.0"/><circle cx="1285.6" cy="90.8" r="3.0"/><circle cx="1287.7" cy="94.0" r="3.0"/><circle cx="1289.8" cy="97.1" r="3.0"/><circle cx="1292.5" cy="100.3" r="3.0"/><circle cx="1295.8" cy="103.4" r="3.0"/></g>
<polyline points="1175.3,22.0 1207.5,25.2 1217.3,28.3 1223.3,31.5 1228.0,34.6 1231.4,37.8 1234.8,40.9 1238.4,44.1 1241.2,47.2 1244.5,50.4 1245.9,53.5 1249.6,56.7 1251.2,59.8 1255.5,63.0 1257.7,66.1 1262.5,69.3 1266.6,72.4 1269.1,75.6 1274.1,78.7 1276.6,81.9 1280.0,85.0 1282.5,88.2 1285.8,91.3 1287.4,94.5 1290.7,97.6 1293.0,100.8" fill="none" stroke="#00ffff" stroke-width="1.6" stroke-linejoin="round"/>
<g fill="#00ffff"><circle cx="1175.3" cy="22.0" r="3.0"/><circle cx="1207.5" cy="25.2" r="3.0"/><circle cx="1217.3" cy="28.3" r="3.0"/><circle cx="1223.3" cy="31.5" r="3.0"/><circle cx="1228.0" cy="34.6" r="3.0"/><circle cx="1231.4" cy="37.8" r="3.0"/><circle cx="1234.8" cy="40.9" r="3.0"/><circle cx="1238.4" cy="44.1" r="3.0"/><circle cx="1241.2" cy="47.2" r="3.0"/><circle cx="1244.5" cy="50.4" r="3.0"/><circle cx="1245.9" cy="53.5" r="3.0"/><circle cx="1249.6" cy="56.7" r="3.0"/><circle cx="1251.2" cy="59.8" r="3.0"/><circle cx="1255.5" cy="63.0" r="3.0"/><circle cx="1257.7" cy="66.1" r="3.0"/><circle cx="1262.5" cy="69.3" r="3.0"/><circle cx="1266.6" cy="72.4" r="3.0"/><circle cx="1269.1" cy="75.6" r="3.0"/><circle cx="1274.1" cy="78.7" r="3.0"/><circle cx="1276.6" cy="81.9" r="3.0"/><circle cx="1280.0" cy="85.0" r="3.0"/><circle cx="1282.5" cy="88.2" r="3.0"/><circle cx="1285.8" cy="91.3" r="3.0"/><circle cx="1287.4" cy="94.5" r="3.0"/><circle cx="1290.7" cy="97.6" r="3.0"/><circle cx="1293.0" cy="100.8" r="3.0"/></g>
<polyline points="1169.9,21.8 1190.6,24.9 1209.5,28.1 1217.9,31.2 1225.9,34.4 1230.9,37.5 1234.6,40.7 1238.6,43.8 1242.1,47.0 1245.3,50.1 1249.6,53.3 1252.0,56.4 1254.1,59.6 1257.7,62.7 1257.8,65.9 1260.4,69.0 1263.5,72.2 1266.1,75.3 1267.7,78.5 1272.3,81.6 1275.4,84.8 1279.2,87.9 1283.5,91.1 1286.9,94.2 1290.1,97.4 1294.4,100.5 1298.2,103.7" fill="none" stroke="#00ffff" stroke-width="1.6" stroke-linejoin="round"/>
<g fill="#00ffff"><circle cx="1169.9" cy="21.8" r="3.0"/><circle cx="1190.6" cy="24.9" r="3.0"/><circle cx="1209.5" cy="28.1" r="3.0"/><circle cx="1217.9" cy="31.2" r="3.0"/><circle cx="1225.9" cy="34.4" r="3.0"/><circle cx="1230.9" cy="37.5" r="3.0"/><circle cx="1234.6" cy="40.7" r="3.0"/><circle cx="1238.6" cy="43.8" r="3.0"/><circle cx="1242.1" cy="47.0" r="3.0"/><circle cx="1245.3" cy="50.1" r="3.0"/><circle cx="1249.6" cy="53.3" r="3.0"/><circle cx="1252.0" cy="56.4" r="3.0"/><circle cx="1254.1" cy="59.6" r="3.0"/><circle cx="1257.7" cy="62.7" r="3.0"/><circle cx="1257.8" cy="65.9" r="3.0"/><circle cx="1260.4" cy="69.0" r="3.0"/><circle cx="1263.5" cy="72.2" r="3.0"/><circle cx="1266.1" cy="75.3" r="3.0"/><circle cx="1267.7" cy="78.5" r="3.0"/><circle cx="1272.3" cy="81.6" r="3.0"/><circle cx="1275.4" cy="84.8" r="3.0"/><circle cx="1279.2" cy="87.9" r="3.0"/><circle cx="1283.5" cy="91.1" r="3.0"/><circle cx="1286.9" cy="94.2" r="3.0"/><circle cx="1290.1" cy="97.4" r="3.0"/><circle cx="1294.4" cy="100.5" r="3.0"/><circle cx="1298.2" cy="103.7" r="3.0"/></g>
<polyline points="1171.6,21.2 1201.5,24.4 1212.6,27.5 1219.8,30.7 1225.8,33.8 1229.4,37.0 1233.8,40.1 1236.2,43.3 1238.9,46.4 1242.0,49.6 1243.8,52.7 1246.8,55.9 1250.2,59.0 1253.3,62.2 1256.7,65.3 1260.4,68.5 1263.3,71.6 1267.2,74.8 1270.3,77.9 1274.1,81.1 1277.8,84.2 1281.0,87.4 1284.4,90.5 1285.0,93.7 1287.7,96.8 1290.5,100.0 1292.7,103.1" fill="none" stroke="#00ffff" stroke-width="1.6" stroke-linejoin="round"/>
<g fill="#00ffff"><circle cx="1171.6" cy="21.2" r="3.0"/><circle cx="1201.5" cy="24.4" r="3.0"/><circle cx="1212.6" cy="27.5" r="3.0"/><circle cx="1219.8" cy="30.7" r="3.0"/><circle cx="1225.8" cy="33.8" r="3.0"/><circle cx="1229.4" cy="37.0" r="3.0"/><circle cx="1233.8" cy="40.1" r="3.0"/><circle cx="1236.2" cy="43.3" r="3.0"/><circle cx="1238.9" cy="46.4" r="3.0"/><circle cx="1242.0" cy="49.6" r="3.0"/><circle cx="1243.8" cy="52.7" r="3.0"/><circle cx="1246.8" cy="55.9" r="3.0"/><circle cx="1250.2" cy="59.0" r="3.0"/><circle cx="1253.3" cy="62.2" r="3.0"/><circle cx="1256.7" cy="65.3" r="3.0"/><circle cx="1260.4" cy="68.5" r="3.0"/><circle cx="1263.3" cy="71.6" r="3.0"/><circle cx="1267.2" cy="74.8" r="3.0"/><circle cx="1270.3" cy="77.9" r="3.0"/><circle cx="1274.1" cy="81.1" r="3.0"/><circle cx="1277.8" cy="84.2" r="3.0"/><circle cx="1281.0" cy="87.4" r="3.0"/><circle cx="1284.4" cy="90.5" r="3.0"/><circle cx="1285.0" cy="93.7" r="3.0"/><circle cx="1287.7" cy="96.8" r="3.0"/><circle cx="1290.5" cy="100.0" r="3.0"/><circle cx="1292.7" cy="103.1" r="3.0"/></g>
<polyline points="1170.4,22.1 1203.3,25.3 1212.9,28.4 1219.4,31.6 1224.1,34.7 1227.7,37.9 1230.3,41.0 1234.4,44.2 1236.8,47.3 1240.4,50.5 1243.2,53.6 1246.1,56.8 1250.6,59.9 1252.8,63.1 1257.9,66.2 1259.5,69.4 1264.8,72.5 1267.5,75.7 1270.4,78.8 1274.3,82.0 1276.0,85.1 1278.4,88.3 1279.7,91.4 1283.3,94.6 1285.1,97.7 1286.6,100.9" fill="none" stroke="#00ffff" stroke-width="1.6" stroke-linejoin="round"/>
<g fill="#00ffff"><circle cx="1170.4" cy="22.1" r="3.0"/><circle cx="1203.3" cy="25.3" r="3.0"/><circle cx="1212.9" cy="28.4" r="3.0"/><circle cx="1219.4" cy="31.6" r="3.0"/><circle cx="1224.1" cy="34.7" r="3.0"/><circle cx="1227.7" cy="37.9" r="3.0"/><circle cx="1230.3" cy="41.0" r="3.0"/><circle cx="1234.4" cy="44.2" r="3.0"/><circle cx="1236.8" cy="47.3" r="3.0"/><circle cx="1240.4" cy="50.5" r="3.0"/><circle cx="1243.2" cy="53.6" r="3.0"/><circle cx="1246.1" cy="56.8" r="3.0"/><circle cx="1250.6" cy="59.9" r="3.0"/><circle cx="1252.8" cy="63.1" r="3.0"/><circle cx="1257.9" cy="66.2" r="3.0"/><circle cx="1259.5" cy="69.4" r="3.0"/><circle cx="1264.8" cy="72.5" r="3.0"/><circle cx="1267.5" cy="75.7" r="3.0"/><circle cx="1270.4" cy="78.8" r="3.0"/><circle cx="1274.3" cy="82.0" r="3.0"/><circle cx="1276.0" cy="85.1" r="3.0"/><circle cx="1278.4" cy="88.3" r="3.0"/><circle cx="1279.7" cy="91.4" r="3.0"/><circle cx="1283.3" cy="94.6" r="3.0"/><circle cx="1285.1" cy="97.7" r="3.0"/><circle cx="1286.6" cy="100.9" r="3.0"/></g>
<polyline points="1169.8,21.9 1189.7,25.1 1208.0,28.2 1216.3,31.4 1221.7,34.5 1227.3,37.7 1229.6,40.8 1234.2,44.0 1237.6,47.1 1239.9,50.3 1244.7,53.4 1247.9,56.6 1252.3,59.7 1256.2,62.9 1258.6,66.0 1261.0,69.2 1263.9,72.3 1265.8,75.5 1268.7,78.6 1270.4,81.8 1273.9,84.9 1275.0,88.1 1278.4,91.2 1280.3,94.4 1283.9,97.5 1285.9,100.7" fill="none" stroke="#00ffff" stroke-width="1.6" stroke-linejoin="round"/>
<g fill="#00ffff"><circle cx="1169.8" cy="21.9" r="3.0"/><circle cx="1189.7" cy="25.1" r="3.0"/><circle cx="1208.0" cy="28.2" r="3.0"/><circle cx="1216.3" cy="31.4" r="3.0"/><circle cx="1221.7" cy="34.5" r="3.0"/><circle cx="1227.3" cy="37.7" r="3.0"/><circle cx="1229.6" cy="40.8" r="3.0"/><circle cx="1234.2" cy="44.0" r="3.0"/><circle cx="1237.6" cy="47.1" r="3.0"/><circle cx="1239.9" cy="50.3" r="3.0"/><circle cx="1244.7" cy="53.4" r="3.0"/><circle cx="1247.9" cy="56.6" r="3.0"/><circle cx="1252.3" cy="59.7" r="3.0"/><circle cx="1256.2" cy="62.9" r="3.0"/><circle cx="1258.6" cy="66.0" r="3.0"/><circle cx="1261.0" cy="69.2" r="3.0"/><circle cx="1263.9" cy="72.3" r="3.0"/><circle cx="1265.8" cy="75.5" r="3.0"/><circle cx="1268.7" cy="78.6" r="3.0"/><circle cx="1270.4" cy="81.8" r="3.0"/><circle cx="1273.9" cy="84.9" r="3.0"/><circle cx="1275.0" cy="88.1" r="3.0"/><circle cx="1278.4" cy="91.2" r="3.0"/><circle cx="1280.3" cy="94.4" r="3.0"/><circle cx="1283.9" cy="97.5" r="3.0"/><circle cx="1285.9" cy="100.7" r="3.0"/></g>
<polyline points="1235.3,30.0 1240.1,33.1 1243.6,36.3 1246.4,39.4 1249.0,42.6 1255.0,45.7 1259.8,48.9 1264.6,52.0 1269.0,55.2 1271.5,58.3 1273.7,61.5 1276.8,64.6 1279.6,67.8 1281.4,71.0 1285.7,74.1 1287.5,77.3 1290.4,80.4 1293.0,83.6 1298.1,86.7 1300.7,89.9 1304.2,93.0 1306.6,96.2 1308.4,99.3" fill="none" stroke="#00ffff" stroke-width="1.6" stroke-linejoin="round"/>
<g fill="#00ffff"><circle cx="1235.3" cy="30.0" r="3.0"/><circle cx="1240.1" cy="33.1" r="3.0"/><circle cx="1243.6" cy="36.3" r="3.0"/><circle cx="1246.4" cy="39.4" r="3.0"/><circle cx="1249.0" cy="42.6" r="3.0"/><circle cx="1255.0" cy="45.7" r="3.0"/><circle cx="1259.8" cy="48.9" r="3.0"/><circle cx="1264.6" cy="52.0" r="3.0"/><circle cx="1269.0" cy="55.2" r="3.0"/><circle cx="1271.5" cy="58.3" r="3.0"/><circle cx="1273.7" cy="61.5" r="3.0"/><circle cx="1276.8" cy="64.6" r="3.0"/><circle cx="1279.6" cy="67.8" r="3.0"/><circle cx="1281.4" cy="71.0" r="3.0"/><circle cx="1285.7" cy="74.1" r="3.0"/><circle cx="1287.5" cy="77.3" r="3.0"/><circle cx="1290.4" cy="80.4" r="3.0"/><circle cx="1293.0" cy="83.6" r="3.0"/><circle cx="1298.1" cy="86.7" r="3.0"/><circle cx="1300.7" cy="89.9" r="3.0"/><circle cx="1304.2" cy="93.0" r="3.0"/><circle cx="1306.6" cy="96.2" r="3.0"/><circle cx="1308.4" cy="99.3" r="3.0"/></g>
<polyline points="1232.9,29.0 1234.9,32.1 1238.2,35.3 1243.4,38.4 1244.9,41.6 1248.9,44.7 1254.5,47.9 1258.8,51.0 1265.0,54.2 1266.8,57.3 1271.3,60.5 1272.5,63.6 1275.5,66.8 1278.7,69.9 1281.2,73.1 1284.5,76.2 1287.0,79.4 1288.6,82.6 1293.5,85.7 1296.0,88.9 1298.6,92.0 1301.3,95.2 1305.3,98.3" fill="none" stroke="#00ffff" stroke-width="1.6" stroke-linejoin="round"/>
<g fill="#00ffff"><circle cx="1232.9" cy="29.0" r="3.0"/><circle cx="1234.9" cy="32.1" r="3.0"/><circle cx="1238.2" cy="35.3" r="3.0"/><circle cx="1243.4" cy="38.4" r="3.0"/><circle cx="1244.9" cy="41.6" r="3.0"/><circle cx="1248.9" cy="44.7" r="3.0"/><circle cx="1254.5" cy="47.9" r="3.0"/><circle cx="1258.8" cy="51.0" r="3.0"/><circle cx="1265.0" cy="54.2" r="3.0"/><circle cx="1266.8" cy="57.3" r="3.0"/><circle cx="1271.3" cy="60.5" r="3.0"/><circle cx="1272.5" cy="63.6" r="3.0"/><circle cx="1275.5" cy="66.8" r="3.0"/><circle cx="1278.7" cy="69.9" r="3.0"/><circle cx="1281.2" cy="73.1" r="3.0"/><circle cx="1284.5" cy="76.2" r="3.0"/><circle cx="1287.0" cy="79.4" r="3.0"/><circle cx="1288.6" cy="82.6" r="3.0"/><circle cx="1293.5" cy="85.7" r="3.0"/><circle cx="1296.0" cy="88.9" r="3.0"/><circle cx="1298.6" cy="92.0" r="3.0"/><circle cx="1301.3" cy="95.2" r="3.0"/><circle cx="1305.3" cy="98.3" r="3.0"/></g>
<polyline points="1176.2,22.0 1209.9,25.1 1218.1,28.3 1224.6,31.4 1229.5,34.6 1233.2,37.7 1236.8,40.9 1241.2,44.0 1244.7,47.2 1248.0,50.3 1252.0,53.5 1255.1,56.6 1258.2,59.8 1260.7,62.9 1263.4,66.1 1266.0,69.2 1269.3,72.4 1272.8,75.5 1275.9,78.7 1279.1,81.9 1282.1,85.0 1284.6,88.2 1287.8,91.3 1290.6,94.5 1293.4,97.6 1296.7,100.8 1301.6,103.9 1318.1,107.1 1322.1,110.2 1324.6,113.4 1326.7,116.5 1329.0,119.7 1330.4,122.8 1332.4,126.0 1333.7,129.1 1336.1,132.3 1338.0,135.4 1338.8,138.6 1340.2,141.7 1342.0,144.9 1345.0,148.0 1346.9,151.2 1349.4,154.3 1351.2,157.5 1353.6,160.6 1355.7,163.8 1357.6,166.9 1359.8,170.1 1361.8,173.2 1364.3,176.4 1366.0,179.5 1368.0,182.7 1369.6,185.8 1371.4,189.0 1372.6,192.1 1373.9,195.3 1377.0,198.4 1379.9,201.6 1382.5,204.7 1385.0,207.9 1388.2,211.0 1389.6,214.2 1391.4,217.3 1392.4,220.5 1393.0,223.6 1393.9,226.8 1396.5,229.9 1398.7,233.1 1399.2,236.2 1401.4,239.4 1402.6,242.5 1403.6,245.7 1405.2,248.8 1407.5,252.0 1409.6,255.1 1410.1,258.3 1412.0,261.4 1412.9,264.6 1415.1,267.7 1416.2,270.9 1418.2,274.0 1420.1,277.2 1420.9,280.3 1422.7,283.5 1423.6,286.6 1424.6,289.8 1426.8,292.9 1427.8,296.1 1429.5,299.2 1431.6,302.3 1433.8,305.5 1435.1,308.6 1436.4,311.8 1439.2,314.9 1440.6,318.1 1443.1,321.2 1444.8,324.4 1445.5,327.5 1446.3,330.7 1447.0,333.8" fill="none" stroke="#0000ff" stroke-width="2.4" stroke-linejoin="round"/>
<g fill="#0000ff"><circle cx="1176.2" cy="22.0" r="5.9"/><circle cx="1209.9" cy="25.1" r="5.9"/><circle cx="1218.1" cy="28.3" r="5.9"/><circle cx="1224.6" cy="31.4" r="5.9"/><circle cx="1229.5" cy="34.6" r="5.9"/><circle cx="1233.2" cy="37.7" r="5.9"/><circle cx="1236.8" cy="40.9" r="5.9"/><circle cx="1241.2" cy="44.0" r="5.9"/><circle cx="1244.7" cy="47.2" r="5.9"/><circle cx="1248.0" cy="50.3" r="5.9"/><circle cx="1252.0" cy="53.5" r="5.9"/><circle cx="1255.1" cy="56.6" r="5.9"/><circle cx="1258.2" cy="59.8" r="5.9"/><circle cx="1260.7" cy="62.9" r="5.9"/><circle cx="1263.4" cy="66.1" r="5.9"/><circle cx="1266.0" cy="69.2" r="5.9"/><circle cx="1269.3" cy="72.4" r="5.9"/><circle cx="1272.8" cy="75.5" r="5.9"/><circle cx="1275.9" cy="78.7" r="5.9"/><circle cx="1279.1" cy="81.9" r="5.9"/><circle cx="1282.1" cy="85.0" r="5.9"/><circle cx="1284.6" cy="88.2" r="5.9"/><circle cx="1287.8" cy="91.3" r="5.9"/><circle cx="1290.6" cy="94.5" r="5.9"/><circle cx="1293.4" cy="97.6" r="5.9"/><circle cx="1296.7" cy="100.8" r="5.9"/><circle cx="1301.6" cy="103.9" r="5.9"/><circle cx="1318.1" cy="107.1" r="5.9"/><circle cx="1322.1" cy="110.2" r="5.9"/><circle cx="1324.6" cy="113.4" r="5.9"/><circle cx="1326.7" cy="116.5" r="5.9"/><circle cx="1329.0" cy="119.7" r="5.9"/><circle cx="1330.4" cy="122.8" r="5.9"/><circle cx="1332.4" cy="126.0" r="5.9"/><circle cx="1333.7" cy="129.1" r="5.9"/><circle cx="1336.1" cy="132.3" r="5.9"/><circle cx="1338.0" cy="135.4" r="5.9"/><circle cx="1338.8" cy="138.6" r="5.9"/><circle cx="1340.2" cy="141.7" r="5.9"/><circle cx="1342.0" cy="144.9" r="5.9"/><circle cx="1345.0" cy="148.0" r="5.9"/><circle cx="1346.9" cy="151.2" r="5.9"/><circle cx="1349.4" cy="154.3" r="5.9"/><circle cx="1351.2" cy="157.5" r="5.9"/><circle cx="1353.6" cy="160.6" r="5.9"/><circle cx="1355.7" cy="163.8" r="5.9"/><circle cx="1357.6" cy="166.9" r="5.9"/><circle cx="1359.8" cy="170.1" r="5.9"/><circle cx="1361.8" cy="173.2" r="5.9"/><circle cx="1364.3" cy="176.4" r="5.9"/><circle cx="1366.0" cy="179.5" r="5.9"/><circle cx="1368.0" cy="182.7" r="5.9"/><circle cx="1369.6" cy="185.8" r="5.9"/><circle cx="1371.4" cy="189.0" r="5.9"/><circle cx="1372.6" cy="192.1" r="5.9"/><circle cx="1373.9" cy="195.3" r="5.9"/><circle cx="1377.0" cy="198.4" r="5.9"/><circle cx="1379.9" cy="201.6" r="5.9"/><circle cx="1382.5" cy="204.7" r="5.9"/><circle cx="1385.0" cy="207.9" r="5.9"/><circle cx="1388.2" cy="211.0" r="5.9"/><circle cx="1389.6" cy="214.2" r="5.9"/><circle cx="1391.4" cy="217.3" r="5.9"/><circle cx="1392.4" cy="220.5" r="5.9"/><circle cx="1393.0" cy="223.6" r="5.9"/><circle cx="1393.9" cy="226.8" r="5.9"/><circle cx="1396.5" cy="229.9" r="5.9"/><circle cx="1398.7" cy="233.1" r="5.9"/><circle cx="1399.2" cy="236.2" r="5.9"/><circle cx="1401.4" cy="239.4" r="5.9"/><circle cx="1402.6" cy="242.5" r="5.9"/><circle cx="1403.6" cy="245.7" r="5.9"/><circle cx="1405.2" cy="248.8" r="5.9"/><circle cx="1407.5" cy="252.0" r="5.9"/><circle cx="1409.6" cy="255.1" r="5.9"/><circle cx="1410.1" cy="258.3" r="5.9"/><circle cx="1412.0" cy="261.4" r="5.9"/><circle cx="1412.9" cy="264.6" r="5.9"/><circle cx="1415.1" cy="267.7" r="5.9"/><circle cx="1416.2" cy="270.9" r="5.9"/><circle cx="1418.2" cy="274.0" r="5.9"/><circle cx="1420.1" cy="277.2" r="5.9"/><circle cx="1420.9" cy="280.3" r="5.9"/><circle cx="1422.7" cy="283.5" r="5.9"/><circle cx="1423.6" cy="286.6" r="5.9"/><circle cx="1424.6" cy="289.8" r="5.9"/><circle cx="1426.8" cy="292.9" r="5.9"/><circle cx="1427.8" cy="296.1" r="5.9"/><circle cx="1429.5" cy="299.2" r="5.9"/><circle cx="1431.6" cy="302.3" r="5.9"/><circle cx="1433.8" cy="305.5" r="5.9"/><circle cx="1435.1" cy="308.6" r="5.9"/><circle cx="1436.4" cy="311.8" r="5.9"/><circle cx="1439.2" cy="314.9" r="5.9"/><circle cx="1440.6" cy="318.1" r="5.9"/><circle cx="1443.1" cy="321.2" r="5.9"/><circle cx="1444.8" cy="324.4" r="5.9"/><circle cx="1445.5" cy="327.5" r="5.9"/><circle cx="1446.3" cy="330.7" r="5.9"/><circle cx="1447.0" cy="333.8" r="5.9"/></g>
<polyline points="1200.0,19.1 1204.0,20.6 1208.0,22.2 1212.0,23.8 1215.0,25.4 1217.0,26.9 1218.0,28.5 1219.5,30.9 1221.5,34.8 1223.0,38.8 1224.5,42.7 1226.5,46.6 1228.5,50.6 1230.5,54.5 1231.8,58.5 1234.0,66.3 1234.5,74.2" fill="none" stroke="#ff0000" stroke-width="2.4" stroke-linejoin="round"/>
<g fill="#ff0000"><circle cx="1200.0" cy="19.1" r="5.9"/><circle cx="1204.0" cy="20.6" r="5.9"/><circle cx="1208.0" cy="22.2" r="5.9"/><circle cx="1212.0" cy="23.8" r="5.9"/><circle cx="1215.0" cy="25.4" r="5.9"/><circle cx="1217.0" cy="26.9" r="5.9"/><circle cx="1218.0" cy="28.5" r="5.9"/><circle cx="1219.5" cy="30.9" r="5.9"/><circle cx="1221.5" cy="34.8" r="5.9"/><circle cx="1223.0" cy="38.8" r="5.9"/><circle cx="1224.5" cy="42.7" r="5.9"/><circle cx="1226.5" cy="46.6" r="5.9"/><circle cx="1228.5" cy="50.6" r="5.9"/><circle cx="1230.5" cy="54.5" r="5.9"/><circle cx="1231.8" cy="58.5" r="5.9"/><circle cx="1234.0" cy="66.3" r="5.9"/><circle cx="1234.5" cy="74.2" r="5.9"/></g>
<polyline points="1107.0,19.1 1115.5,20.6 1134.5,22.2 1160.0,23.8 1188.0,25.4 1203.0,26.9 1212.0,28.5 1220.0,30.9 1227.0,34.8 1231.0,38.8 1235.0,42.7 1240.0,46.6 1244.0,50.6 1248.0,54.5 1251.0,58.5 1254.5,66.3 1257.5,74.2 1261.4,82.1" fill="none" stroke="#008000" stroke-width="2.4" stroke-linejoin="round"/>
<g fill="#008000"><circle cx="1107.0" cy="19.1" r="5.9"/><circle cx="1115.5" cy="20.6" r="5.9"/><circle cx="1134.5" cy="22.2" r="5.9"/><circle cx="1160.0" cy="23.8" r="5.9"/><circle cx="1188.0" cy="25.4" r="5.9"/><circle cx="1203.0" cy="26.9" r="5.9"/><circle cx="1212.0" cy="28.5" r="5.9"/><circle cx="1220.0" cy="30.9" r="5.9"/><circle cx="1227.0" cy="34.8" r="5.9"/><circle cx="1231.0" cy="38.8" r="5.9"/><circle cx="1235.0" cy="42.7" r="5.9"/><circle cx="1240.0" cy="46.6" r="5.9"/><circle cx="1244.0" cy="50.6" r="5.9"/><circle cx="1248.0" cy="54.5" r="5.9"/><circle cx="1251.0" cy="58.5" r="5.9"/><circle cx="1254.5" cy="66.3" r="5.9"/><circle cx="1257.5" cy="74.2" r="5.9"/><circle cx="1261.4" cy="82.1" r="5.9"/></g>
<polyline points="1106.9,19.4 1115.3,20.3 1123.2,21.1 1133.3,22.1 1142.3,23.1 1153.2,24.1 1165.3,25.3 1179.4,26.6 1192.9,28.0 1204.1,29.7 1213.7,31.5 1222.7,33.6 1230.5,36.1 1237.3,38.9 1244.0,42.3 1250.8,46.2 1257.5,50.8 1264.8,56.4 1271.6,63.0 1280.0,70.9 1288.4,80.4 1299.7,91.8 1310.0,105.5 1325.9,122.0 1341.7,141.9 1359.3,165.7 1376.4,194.4" fill="none" stroke="#ff00ff" stroke-width="2.4" stroke-linejoin="round"/>
<g fill="#ff00ff"><circle cx="1106.9" cy="19.4" r="5.9"/><circle cx="1115.3" cy="20.3" r="5.9"/><circle cx="1123.2" cy="21.1" r="5.9"/><circle cx="1133.3" cy="22.1" r="5.9"/><circle cx="1142.3" cy="23.1" r="5.9"/><circle cx="1153.2" cy="24.1" r="5.9"/><circle cx="1165.3" cy="25.3" r="5.9"/><circle cx="1179.4" cy="26.6" r="5.9"/><circle cx="1192.9" cy="28.0" r="5.9"/><circle cx="1204.1" cy="29.7" r="5.9"/><circle cx="1213.7" cy="31.5" r="5.9"/><circle cx="1222.7" cy="33.6" r="5.9"/><circle cx="1230.5" cy="36.1" r="5.9"/><circle cx="1237.3" cy="38.9" r="5.9"/><circle cx="1244.0" cy="42.3" r="5.9"/><circle cx="1250.8" cy="46.2" r="5.9"/><circle cx="1257.5" cy="50.8" r="5.9"/><circle cx="1264.8" cy="56.4" r="5.9"/><circle cx="1271.6" cy="63.0" r="5.9"/><circle cx="1280.0" cy="70.9" r="5.9"/><circle cx="1288.4" cy="80.4" r="5.9"/><circle cx="1299.7" cy="91.8" r="5.9"/><circle cx="1310.0" cy="105.5" r="5.9"/><circle cx="1325.9" cy="122.0" r="5.9"/><circle cx="1341.7" cy="141.9" r="5.9"/><circle cx="1359.3" cy="165.7" r="5.9"/><circle cx="1376.4" cy="194.4" r="5.9"/></g>
</g>
<g stroke="#000" stroke-width="1.30">
<line x1="1117.5" y1="814.5" x2="1117.5" y2="820.7"/>
<line x1="1176.5" y1="814.5" x2="1176.5" y2="820.7"/>
<line x1="1234.5" y1="814.5" x2="1234.5" y2="820.7"/>
<line x1="1292.5" y1="814.5" x2="1292.5" y2="820.7"/>
<line x1="1351.5" y1="814.5" x2="1351.5" y2="820.7"/>
<line x1="1409.5" y1="814.5" x2="1409.5" y2="820.7"/>
<line x1="1468.5" y1="814.5" x2="1468.5" y2="820.7"/>
<line x1="1072.3" y1="19.5" x2="1078.5" y2="19.5"/>
<line x1="1072.3" y1="97.5" x2="1078.5" y2="97.5"/>
<line x1="1072.3" y1="176.5" x2="1078.5" y2="176.5"/>
<line x1="1072.3" y1="255.5" x2="1078.5" y2="255.5"/>
<line x1="1072.3" y1="334.5" x2="1078.5" y2="334.5"/>
<line x1="1072.3" y1="413.5" x2="1078.5" y2="413.5"/>
<line x1="1072.3" y1="491.5" x2="1078.5" y2="491.5"/>
<line x1="1072.3" y1="570.5" x2="1078.5" y2="570.5"/>
<line x1="1072.3" y1="649.5" x2="1078.5" y2="649.5"/>
<line x1="1072.3" y1="728.5" x2="1078.5" y2="728.5"/>
<line x1="1072.3" y1="807.5" x2="1078.5" y2="807.5"/>
</g>
<rect x="1078.5" y="19.5" width="398.0" height="795.0" fill="none" stroke="#000" stroke-width="1.30"/>
<g font-size="16.7" text-anchor="middle">
<text transform="translate(1117.7,851.6) rotate(-45)" y="4.4">1023</text>
<text transform="translate(1176.1,851.6) rotate(-45)" y="4.4">1024</text>
<text transform="translate(1234.5,851.6) rotate(-45)" y="4.4">1025</text>
<text transform="translate(1292.9,851.6) rotate(-45)" y="4.4">1026</text>
<text transform="translate(1351.3,851.6) rotate(-45)" y="4.4">1027</text>
<text transform="translate(1409.8,851.6) rotate(-45)" y="4.4">1028</text>
<text transform="translate(1468.2,851.6) rotate(-45)" y="4.4">1029</text>
</g>
<g font-size="16.7" text-anchor="end">
<text x="86.0" y="26.4">0</text>
<text x="86.0" y="104.4">100</text>
<text x="86.0" y="183.4">200</text>
<text x="86.0" y="262.4">300</text>
<text x="86.0" y="341.4">400</text>
<text x="86.0" y="420.4">500</text>
<text x="86.0" y="498.4">600</text>
<text x="86.0" y="577.4">700</text>
<text x="86.0" y="656.4">800</text>
<text x="86.0" y="735.4">900</text>
<text x="86.0" y="814.4">1000</text>
</g>
<g font-size="22.55" font-weight="bold" text-anchor="middle">
<text transform="translate(29,418.1) rotate(-90)">Depth (m)</text>
<text x="298.6" y="872">Temperature (<tspan font-weight="normal" font-style="italic" font-size="15.8" dy="-8.2" dx="1.2">o</tspan><tspan font-weight="normal" font-style="italic" dy="8.2" dx="1.2">C</tspan><tspan dx="0.8">)</tspan></text>
<text x="788" y="870.4">Salinity</text>
<text x="1276.6" y="895.8">Density (kg m-3)</text>
</g>
<text x="424.4" y="918.2" font-size="17.38" font-style="italic">Ocean Heat Content (kJ/cm^2) - Glider: N/A,&#160; RTOFS: N/A,&#160; ESPC: N/A,&#160; CMEMS: N/A,</text>
<g font-size="22.55" font-weight="bold">
<text x="1527.6" y="36.8">Comparison Date: 2025-09-23</text>
<text x="1527.6" y="89.9">Glider: sp036</text>
<text x="1527.6" y="116.5">Profiles: 16</text>
<text x="1527.6" y="143.1">First: 2025-09-23 02:13:15</text>
<text x="1527.6" y="169.7">Last: 2025-09-23 15:27:45</text>
<text x="1527.6" y="196.3">Method: Nearest-Neighbor</text>
</g>
<g clip-path="url(#cm)">
<rect x="1596.4" y="258.4" width="340.7" height="315.4" fill="#97b6e1"/>
<polygon points="1694.4,258.0 1696.5,262.5 1698.7,265.2 1702.5,268.5 1704.0,272.2 1705.5,275.2 1707.7,279.0 1709.2,282.7 1710.7,286.5 1712.2,290.2 1714.8,294.3 1715.7,298.5 1716.7,302.2 1719.3,304.5 1722.7,306.3 1725.7,308.2 1728.7,311.2 1731.7,314.7 1734.0,318.0 1735.8,321.0 1737.0,324.3 1736.4,327.0 1735.2,328.8 1732.5,329.5 1728.7,329.2 1725.0,328.5 1723.2,326.7 1722.4,324.3 1721.7,321.7 1723.5,325.5 1725.0,330.0 1728.0,330.7 1730.2,332.9 1732.5,335.2 1735.5,337.4 1738.5,339.7 1741.5,341.9 1744.5,341.6 1746.7,340.7 1747.8,343.4 1750.5,344.9 1753.5,347.2 1755.7,350.2 1757.9,353.2 1759.4,356.2 1760.5,359.9 1759.7,362.9 1758.2,365.9 1757.2,368.2 1758.7,371.2 1761.7,373.4 1764.7,374.2 1767.7,374.5 1770.7,375.7 1773.7,378.7 1776.7,380.9 1779.2,382.7 1781.2,385.4 1782.5,388.4 1783.4,391.7 1784.9,392.9 1787.2,392.2 1789.4,389.9 1791.2,387.7 1790.6,384.7 1789.1,382.4 1787.2,380.6 1786.1,377.2 1784.9,374.9 1783.4,376.7 1781.9,375.7 1780.1,373.4 1778.2,371.2 1777.1,368.9 1775.9,365.9 1774.7,362.9 1773.7,359.9 1771.7,356.9 1769.9,353.9 1768.4,350.2 1766.9,346.4 1764.2,343.4 1761.7,340.4 1759.7,337.4 1757.9,334.4 1756.5,331.5 1755.0,328.5 1753.5,325.5 1752.0,323.2 1750.8,320.2 1748.7,317.7 1746.0,315.0 1743.7,312.0 1741.5,309.0 1739.2,306.7 1736.7,304.5 1734.0,302.2 1731.7,300.0 1730.2,297.0 1729.2,294.0 1728.3,290.2 1727.4,286.5 1726.5,282.7 1726.2,279.0 1726.8,276.0 1727.7,274.2 1730.2,276.0 1732.5,277.5 1735.5,277.8 1737.7,277.5 1739.2,279.7 1741.5,281.2 1744.5,282.7 1747.5,283.8 1748.7,286.5 1749.3,290.2 1750.8,293.2 1752.0,296.2 1753.5,299.7 1755.0,303.0 1756.5,306.0 1757.9,309.0 1759.0,312.7 1760.9,316.5 1763.2,318.7 1765.4,321.0 1767.7,323.2 1769.9,325.5 1772.2,326.7 1774.4,327.7 1777.4,329.5 1778.6,332.2 1779.2,335.2 1781.6,336.7 1784.2,337.7 1786.7,340.1 1789.1,341.9 1791.7,343.7 1794.2,347.2 1795.1,349.4 1792.7,351.7 1791.7,353.9 1792.4,356.9 1795.4,358.7 1798.4,359.9 1801.4,361.4 1804.4,362.9 1807.1,365.2 1809.2,367.4 1811.2,370.4 1813.4,372.7 1816.4,374.9 1820.6,380.5 1827.4,389.1 1833.4,395.9 1836.0,402.8 1838.5,407.1 1840.8,410.5 1840.3,414.8 1836.8,419.1 1835.1,422.5 1835.6,425.9 1839.4,431.9 1844.5,437.0 1851.4,441.3 1858.2,447.3 1865.1,450.7 1873.7,453.3 1880.5,455.9 1883.9,459.1 1890.8,463.4 1897.6,466.0 1904.5,469.7 1911.3,471.1 1916.5,472.0 1919.9,474.9 1925.1,477.1 1928.5,479.3 1933.6,479.7 1939.1,481.0 1939.1,423.3 1933.6,416.5 1930.2,406.2 1927.1,399.4 1926.8,389.1 1926.8,377.1 1927.6,368.5 1930.2,360.0 1936.2,354.0 1935.3,342.8 1932.8,334.3 1935.3,325.7 1939.1,324.0 1942.1,253.4 1694.4,253.4" fill="#d2b48c" stroke="none"/>
<g fill="none" stroke="#97b6e1" stroke-width="1.8" stroke-linejoin="round">
<polyline points="1725.0,271.8 1723.2,270.0 1724.2,267.0 1726.5,264.0 1728.7,261.0 1731.0,258.3 1740.0,258.0 1752.0,257.7"/>
<polyline points="1822.8,272.3 1821.2,266.4 1817.5,262.1 1815.9,258.4"/>
<polyline points="1916.0,258.4 1924.6,262.7 1931.0,268.6 1934.2,275.0 1937.1,279.8"/>
<polyline points="1784.3,258.4 1788.6,260.5 1792.9,258.9 1797.1,263.2 1801.4,258.9"/>
<polyline points="1892.4,258.4 1896.7,259.5 1901.0,258.4"/>
<polyline points="1837.7,407.9 1844.5,406.2 1851.4,413.1 1858.2,417.3 1861.7,416.5 1866.0,423.3 1869.4,425.9"/>
<polyline points="1898.5,402.8 1904.5,407.9 1911.3,407.9 1919.9,403.6 1927.6,401.1"/>
<polyline points="1822.8,275.5 1823.9,275.0 1829.3,279.8 1837.8,287.3 1843.7,291.0 1845.9,296.4 1848.5,302.8 1853.9,308.2 1863.5,313.0 1867.3,309.3 1871.0,302.8 1874.8,301.2 1882.8,302.3 1887.1,305.0 1893.5,311.4 1897.8,320.0 1903.2,327.5 1908.0,332.8 1908.5,338.2 1912.3,345.0 1911.3,344.5 1919.9,349.7 1928.5,352.2 1936.2,354.0"/>
</g>
<g fill="none" stroke="#000" stroke-width="1.6">
<polyline points="1795.4,256.5 1795.4,281.7"/>
<polyline points="1822.8,272.3 1866.2,272.3 1866.2,256.8"/>
<polyline stroke-dasharray="6 2.8" points="1701.0,264.7 1726.5,261.7 1728.3,260.2 1727.7,263.2 1727.2,265.5 1772.9,281.7 1804.4,281.7 1805.2,275.2 1822.8,275.5 1823.9,275.0 1829.3,279.8 1837.8,287.3 1843.7,291.0 1845.9,296.4 1848.5,302.8 1853.9,308.2 1863.5,313.0 1867.3,309.3 1871.0,302.8 1874.8,301.2 1882.8,302.3 1887.1,305.0 1893.5,311.4 1897.8,320.0 1903.2,327.5 1908.0,332.8 1908.5,338.2 1912.3,345.0 1911.3,344.5 1919.9,349.7 1928.5,352.2 1936.2,354.0"/>
</g>
<g fill="none" stroke="#000" stroke-width="2.3" stroke-linejoin="round" stroke-linecap="round">
<polyline points="1694.6,258.4 1695.5,260.1 1696.1,261.5 1695.7,262.3 1698.1,263.8 1699.1,264.3 1699.6,265.6 1700.9,267.1 1701.3,267.7 1702.5,270.0 1703.9,270.4 1704.5,271.9 1705.0,273.3 1704.8,275.8 1705.9,276.2 1707.9,278.6 1707.6,280.1 1708.6,281.2 1708.7,283.1 1710.0,284.6 1710.9,285.1 1710.7,286.4 1711.0,287.7 1711.8,290.0 1712.1,291.5 1713.5,292.3 1715.1,294.0 1714.8,295.5 1715.7,296.4 1716.4,297.9 1716.5,300.7 1715.9,302.2 1717.4,303.1 1718.0,303.3 1719.6,305.6 1721.1,306.0 1723.6,307.1 1724.1,307.1 1725.7,308.6 1726.2,309.7 1728.4,311.0 1728.3,312.2 1729.5,312.6 1731.3,314.6 1731.9,315.9 1733.1,316.3 1733.7,317.4 1734.1,318.8 1735.9,321.4 1735.7,321.5 1737.5,323.7 1736.6,324.8 1736.5,327.3 1735.5,328.0 1733.6,329.6 1732.1,329.4 1731.7,328.8 1729.9,329.9 1728.2,329.5 1725.8,328.6 1724.3,328.9 1723.4,327.1 1723.7,326.4 1723.2,324.3 1722.0,323.1 1721.8,321.8 1722.4,323.0 1723.1,325.8 1724.5,326.7 1724.3,327.8 1724.2,329.2 1726.6,330.8 1727.5,331.1 1729.3,331.9 1730.3,333.2 1731.0,334.2 1732.0,335.0 1734.0,336.3 1734.6,337.7 1736.4,338.1 1736.7,339.0 1738.4,340.2 1740.0,341.3 1741.5,342.3 1742.6,342.0 1744.8,342.1 1745.7,341.6 1747.6,341.8 1748.3,343.7 1748.8,344.0 1749.6,345.3 1752.1,345.7 1753.0,347.0 1754.2,347.3 1755.3,349.2 1756.1,350.2 1757.0,352.0 1757.9,353.2 1757.8,353.8 1759.1,356.0 1759.3,357.5 1760.4,358.1 1760.3,359.9 1759.3,361.4 1759.2,363.0 1758.3,364.2 1758.0,366.1 1757.6,367.9 1757.3,369.8 1757.7,370.5 1759.2,371.7 1760.2,373.2 1762.0,372.8 1763.9,373.3 1765.4,374.0 1767.0,375.1 1768.9,374.7 1770.4,375.6 1771.1,375.7 1772.5,377.5 1774.2,379.2 1775.0,379.3 1776.7,379.7 1776.8,381.5 1778.9,381.8 1780.0,384.1 1780.5,384.7 1781.1,385.9 1782.9,387.5 1783.4,389.8 1783.3,390.3 1784.6,392.0 1785.0,392.6 1787.4,392.3 1787.6,391.4 1788.5,390.4 1790.0,388.7 1791.5,388.3 1790.2,386.3 1790.3,385.3 1790.2,383.0 1788.4,381.6 1788.3,380.7 1787.0,379.6 1786.6,378.2 1786.2,376.0 1785.4,374.9 1784.1,375.7 1782.6,376.4 1781.6,375.2 1781.1,374.2 1779.0,372.5 1778.5,372.3 1778.4,370.4 1776.4,369.3 1776.4,367.5 1776.2,366.1 1775.3,365.0 1774.5,362.7 1774.7,360.9 1773.3,360.3 1772.1,359.0 1772.2,357.1 1770.7,356.2 1770.8,353.9 1769.5,353.0 1768.9,351.2 1767.8,350.1 1768.2,347.8 1766.8,347.5 1766.7,345.9 1764.5,344.8 1764.8,344.0 1763.4,341.4 1762.5,340.4 1761.3,340.2 1760.5,337.6 1759.1,337.5 1758.0,335.6 1757.6,333.5 1757.2,331.9 1755.7,331.0 1755.0,329.1 1755.0,328.7 1754.7,326.3 1753.3,325.2 1752.7,324.1 1752.4,322.5 1750.5,321.5 1749.9,320.0 1749.4,319.2 1748.4,317.5 1746.9,316.3 1745.7,315.5 1745.1,313.3 1743.7,312.3 1743.5,310.8 1742.5,310.2 1740.6,308.9 1739.4,307.0 1739.0,306.1 1738.3,305.4 1736.2,304.8 1734.5,303.6 1733.3,301.7 1733.6,301.4 1731.3,299.4 1731.7,298.8 1730.8,296.6 1729.9,295.4 1728.8,293.9 1729.0,292.3 1728.3,290.4 1728.6,289.6 1728.2,287.8 1727.9,286.3 1727.1,284.8 1726.9,283.0 1725.8,280.9 1725.8,279.3 1726.9,278.4 1727.0,276.1 1727.1,275.9 1728.1,274.3 1729.2,274.7 1730.1,275.7 1731.8,277.0 1734.0,277.1 1734.7,277.4 1736.1,277.3 1737.6,277.9 1738.2,279.9 1739.9,281.0 1741.7,281.5 1742.8,282.6 1743.7,282.9 1745.5,283.5 1747.6,283.2 1747.6,284.4 1748.3,285.9 1748.8,288.9 1749.0,289.5 1749.7,290.9 1750.8,293.0 1750.6,293.7 1752.0,296.3 1752.6,297.0 1753.7,297.8 1753.0,300.5 1754.2,300.8 1755.0,303.7 1755.7,304.2 1755.8,305.2 1757.7,307.3 1758.5,308.1 1757.9,309.6 1758.6,311.1 1758.9,313.2 1759.8,314.1 1760.1,316.9 1761.4,317.4 1762.8,318.5 1763.5,319.3 1764.7,320.8 1767.0,322.0 1768.1,322.6 1767.9,324.2 1769.8,325.4 1771.0,326.3 1772.9,327.5 1773.8,327.5 1775.9,327.9 1776.3,328.9 1777.2,330.7 1778.9,331.5 1778.3,332.7 1778.8,334.3 1780.3,336.0 1781.3,336.1 1783.5,336.7 1784.1,337.8 1785.6,338.6 1786.8,340.0 1788.6,341.4 1790.1,342.5 1791.2,343.3 1791.9,344.7 1793.2,346.2 1794.3,347.1 1794.3,348.7 1794.7,349.1 1793.1,350.3 1792.3,352.2 1791.6,352.7 1792.3,355.0 1791.6,355.8 1792.8,357.3 1795.3,359.0 1796.3,358.6 1797.6,359.4 1798.9,359.6 1800.7,361.5 1802.3,361.1 1803.5,361.9 1805.1,363.2 1806.7,364.7 1806.7,365.1 1809.0,366.5 1809.3,367.6 1810.7,369.7 1811.2,371.1 1812.4,371.0 1813.9,372.6 1814.1,374.4 1815.3,374.7 1817.0,376.4 1817.9,376.7 1818.6,377.9 1820.0,379.5 1821.3,380.6 1821.7,381.8 1823.6,384.0 1824.5,384.9 1824.8,385.4 1826.4,387.2 1826.2,388.0 1827.4,390.0 1829.6,390.5 1830.5,391.9 1831.4,393.9 1832.4,395.0 1833.1,395.0 1833.9,397.4 1834.0,398.6 1834.7,399.5 1835.3,401.6 1836.2,403.5 1836.9,405.3 1838.4,406.6 1839.0,407.6 1839.7,409.1 1840.3,410.2 1840.9,411.6 1840.1,412.5 1839.6,414.5 1839.4,416.4 1838.6,417.0 1837.9,418.2 1836.7,419.2 1836.1,421.6 1835.8,423.4 1835.7,424.9 1836.0,426.1 1836.1,427.3 1838.0,428.3 1838.9,430.1 1838.9,430.6 1839.9,432.1 1841.5,434.3 1843.0,435.1 1843.3,435.4 1845.0,437.2 1846.4,437.8 1848.0,438.4 1848.5,439.3 1850.3,441.1 1851.0,441.6 1853.1,442.0 1853.2,443.6 1855.6,445.1 1856.7,445.5 1857.4,446.7 1859.4,447.3 1859.9,448.5 1862.4,448.6 1862.4,449.2 1864.7,450.6 1865.6,450.6 1867.8,451.7 1869.4,452.3 1870.0,452.4 1872.7,453.6 1873.5,453.9 1875.5,454.6 1876.4,454.8 1878.8,455.0 1879.2,455.2 1880.6,455.8 1881.8,457.7 1882.9,459.1 1885.1,460.1 1886.6,460.8 1888.1,462.0 1889.0,462.9 1889.6,462.4 1891.0,463.3 1892.9,464.2 1894.9,465.2 1895.5,465.3 1897.7,465.8 1898.5,466.9 1900.3,467.8 1901.9,469.0 1903.9,468.4 1905.1,470.1 1906.0,469.5 1907.8,470.2 1909.8,471.4 1910.8,470.7 1912.6,471.6 1914.6,471.7 1915.5,471.6 1917.7,472.6 1917.7,473.5 1919.2,474.9 1920.4,475.0 1921.9,476.0 1924.7,476.7 1925.2,478.0 1926.1,478.0 1928.6,478.3 1930.0,479.2 1930.5,479.1 1932.8,479.5 1934.4,479.2 1935.6,481.0 1937.5,480.6 1938.5,480.7"/>
<polyline points="1939.5,423.8 1938.1,421.7 1936.3,421.0 1936.0,419.9 1934.8,418.6 1933.6,417.4 1933.6,415.3 1932.8,414.2 1931.8,412.4 1932.2,410.4 1931.6,409.5 1931.2,407.4 1929.5,406.5 1929.9,404.5 1928.2,402.6 1928.3,401.3 1928.1,400.2 1926.6,398.7 1926.8,397.5 1927.6,395.2 1927.1,393.9 1927.3,392.6 1926.1,390.1 1926.9,388.3 1926.9,386.4 1927.3,385.4 1926.2,383.9 1926.5,381.6 1926.7,379.9 1926.3,379.3 1927.1,376.4 1927.3,374.8 1926.8,374.4 1927.4,371.9 1927.2,370.4 1927.0,369.7 1927.3,367.2 1928.8,365.6 1929.6,363.8 1930.1,363.2 1930.1,361.6 1930.5,360.1 1932.2,358.4 1932.8,357.6 1933.9,355.5 1935.6,354.6 1936.1,354.1 1935.5,351.3 1935.3,350.5 1935.6,348.4 1935.6,347.8 1935.2,345.3 1936.0,344.0 1934.8,342.2 1934.6,340.1 1934.0,338.8 1934.2,337.2 1933.5,336.6 1933.4,334.2 1933.4,332.5 1933.5,331.2 1934.6,330.3 1934.3,327.3 1935.0,325.8 1935.4,325.8 1937.0,325.0 1938.9,324.6"/>
</g>
<polygon points="1928.1,371.9 1928.8,363.4 1931.0,359.1 1935.3,357.4 1932.8,365.1 1930.2,373.7" fill="#3a4a60" stroke="#000" stroke-width="1.2"/>
<polygon points="1926.8,335.1 1931.9,325.7 1937.0,323.1 1935.3,332.5 1932.8,336.8 1935.3,351.4 1931.9,344.5 1930.2,336.8" fill="#000"/>
<polygon points="1927.6,402.8 1930.2,404.5 1934.5,413.1 1932.8,413.9 1929.3,407.9" fill="#000"/>
<g fill="#000">
<ellipse cx="1686.3" cy="312.7" rx="1.6" ry="3.2" transform="rotate(0 1686.3 312.7)"/>
<ellipse cx="1722.3" cy="322.8" rx="2.0" ry="3.4" transform="rotate(-15 1722.3 322.8)"/>
<ellipse cx="1718.2" cy="322.4" rx="1.1" ry="1.1" transform="rotate(0 1718.2 322.4)"/>
<ellipse cx="1744.6" cy="308.5" rx="1.9" ry="5.6" transform="rotate(-35 1744.6 308.5)"/>
<ellipse cx="1825.7" cy="409.8" rx="1.7" ry="4.4" transform="rotate(-50 1825.7 409.8)"/>
<ellipse cx="1772.6" cy="443.9" rx="1.8" ry="1.9" transform="rotate(0 1772.6 443.9)"/>
<ellipse cx="1774.8" cy="437.2" rx="0.8" ry="0.8" transform="rotate(0 1774.8 437.2)"/>
<ellipse cx="1728.0" cy="449.4" rx="1.3" ry="1.0" transform="rotate(0 1728.0 449.4)"/>
<ellipse cx="1715.5" cy="366.4" rx="0.7" ry="0.7" transform="rotate(0 1715.5 366.4)"/>
<ellipse cx="1832.6" cy="405.3" rx="0.9" ry="0.9" transform="rotate(0 1832.6 405.3)"/>
<ellipse cx="1759.5" cy="330.0" rx="0.8" ry="0.8" transform="rotate(0 1759.5 330.0)"/>
<ellipse cx="1762.0" cy="341.0" rx="0.8" ry="0.8" transform="rotate(0 1762.0 341.0)"/>
<ellipse cx="1773.5" cy="360.0" rx="1.0" ry="2.4" transform="rotate(-25 1773.5 360.0)"/>
<ellipse cx="1779.0" cy="368.5" rx="1.0" ry="2.0" transform="rotate(-30 1779.0 368.5)"/>
</g>
<ellipse cx="1756.6" cy="314.6" rx="1.4" ry="2.6" transform="rotate(25 1756.6 314.6)" fill="#d2b48c" stroke="#000" stroke-width="1.1"/>
<circle cx="1793.2" cy="547.0" r="1.1" fill="#5a6a86"/>
<circle cx="1698.4" cy="261.0" r="3.8" fill="#ff0000" stroke="#400" stroke-width="0.5"/>
</g>
<rect x="1596.4" y="258.4" width="340.7" height="315.4" fill="none" stroke="#000" stroke-width="1.3"/>
<line x1="1700.8" x2="1936.4" y1="258.7" y2="258.7" stroke="#d2b48c" stroke-width="1.0"/>
<path d="M1596.4 258.4v-9.5M1596.4 573.8v9.5M1631.6 258.4v-9.5M1631.6 573.8v9.5M1666.9 258.4v-9.5M1666.9 573.8v9.5M1702.1 258.4v-9.5M1702.1 573.8v9.5M1737.4 258.4v-9.5M1737.4 573.8v9.5M1772.6 258.4v-9.5M1772.6 573.8v9.5M1807.9 258.4v-9.5M1807.9 573.8v9.5M1843.1 258.4v-9.5M1843.1 573.8v9.5M1878.4 258.4v-9.5M1878.4 573.8v9.5M1913.6 258.4v-9.5M1913.6 573.8v9.5M1596.4 563.4h-9.5M1937.1 563.4h9.5M1596.4 527.6h-9.5M1937.1 527.6h9.5M1596.4 491.4h-9.5M1937.1 491.4h9.5M1596.4 454.7h-9.5M1937.1 454.7h9.5M1596.4 417.3h-9.5M1937.1 417.3h9.5M1596.4 379.2h-9.5M1937.1 379.2h9.5M1596.4 340.2h-9.5M1937.1 340.2h9.5M1596.4 300.2h-9.5M1937.1 300.2h9.5M1596.4 258.4h-9.5M1937.1 258.4h9.5" stroke="#000" stroke-width="3.1" fill="none"/>
<path d="M1608.1 258.4v-3.2M1608.1 573.8v3.2M1619.9 258.4v-3.2M1619.9 573.8v3.2M1643.4 258.4v-3.2M1643.4 573.8v3.2M1655.1 258.4v-3.2M1655.1 573.8v3.2M1678.6 258.4v-3.2M1678.6 573.8v3.2M1690.4 258.4v-3.2M1690.4 573.8v3.2M1713.9 258.4v-3.2M1713.9 573.8v3.2M1725.6 258.4v-3.2M1725.6 573.8v3.2M1749.1 258.4v-3.2M1749.1 573.8v3.2M1760.9 258.4v-3.2M1760.9 573.8v3.2M1784.4 258.4v-3.2M1784.4 573.8v3.2M1796.1 258.4v-3.2M1796.1 573.8v3.2M1819.6 258.4v-3.2M1819.6 573.8v3.2M1831.4 258.4v-3.2M1831.4 573.8v3.2M1854.9 258.4v-3.2M1854.9 573.8v3.2M1866.6 258.4v-3.2M1866.6 573.8v3.2M1890.1 258.4v-3.2M1890.1 573.8v3.2M1901.9 258.4v-3.2M1901.9 573.8v3.2M1925.4 258.4v-3.2M1925.4 573.8v3.2M1937.1 258.4v-3.2M1937.1 573.8v3.2M1596.4 551.5h-3.2M1937.1 551.5h3.2M1596.4 539.5h-3.2M1937.1 539.5h3.2M1596.4 515.6h-3.2M1937.1 515.6h3.2M1596.4 503.5h-3.2M1937.1 503.5h3.2M1596.4 479.2h-3.2M1937.1 479.2h3.2M1596.4 467.0h-3.2M1937.1 467.0h3.2M1596.4 442.3h-3.2M1937.1 442.3h3.2M1596.4 429.9h-3.2M1937.1 429.9h3.2M1596.4 404.7h-3.2M1937.1 404.7h3.2M1596.4 392.0h-3.2M1937.1 392.0h3.2M1596.4 366.3h-3.2M1937.1 366.3h3.2M1596.4 353.3h-3.2M1937.1 353.3h3.2M1596.4 327.0h-3.2M1937.1 327.0h3.2M1596.4 313.7h-3.2M1937.1 313.7h3.2M1596.4 286.6h-3.2M1937.1 286.6h3.2M1596.4 272.8h-3.2M1937.1 272.8h3.2" stroke="#000" stroke-width="1.6" fill="none"/>
<g font-size="22.55" text-anchor="end">
<text x="1580.4" y="571.6">9°N</text>
<text x="1580.4" y="535.8">12°N</text>
<text x="1580.4" y="499.6">15°N</text>
<text x="1580.4" y="462.9">18°N</text>
<text x="1580.4" y="425.5">21°N</text>
<text x="1580.4" y="387.4">24°N</text>
<text x="1580.4" y="348.4">27°N</text>
<text x="1580.4" y="308.4">30°N</text>
<text x="1580.4" y="266.6">33°N</text>
</g>
<g font-size="22.55" text-anchor="middle">
<text transform="translate(1595.1,626.8) rotate(-45)" y="6.2">126°W</text>
<text transform="translate(1630.3,626.8) rotate(-45)" y="6.2">123°W</text>
<text transform="translate(1665.6,626.8) rotate(-45)" y="6.2">120°W</text>
<text transform="translate(1700.8,626.8) rotate(-45)" y="6.2">117°W</text>
<text transform="translate(1736.1,626.8) rotate(-45)" y="6.2">114°W</text>
<text transform="translate(1771.3,626.8) rotate(-45)" y="6.2">111°W</text>
<text transform="translate(1806.6,626.8) rotate(-45)" y="6.2">108°W</text>
<text transform="translate(1841.8,626.8) rotate(-45)" y="6.2">105°W</text>
<text transform="translate(1877.1,626.8) rotate(-45)" y="6.2">102°W</text>
<text transform="translate(1912.3,621.7) rotate(-45)" y="6.2">99°W</text>
</g>
<rect x="1684.2" y="663" width="165" height="144.2" rx="3.6" fill="#fff" fill-opacity="0.8" stroke="#ccc" stroke-opacity="0.8" stroke-width="1.6"/>
<line x1="1693.4" x2="1738.6" y1="683.1" y2="683.1" stroke="#0000ff" stroke-width="2.4" stroke-linecap="square"/>
<circle cx="1716.3" cy="683.1" r="5.8" fill="#0000ff"/>
<text x="1756.6" y="691.3" font-size="22.55">sp036</text>
<line x1="1693.4" x2="1738.6" y1="717.2" y2="717.2" stroke="#ff0000" stroke-width="2.4" stroke-linecap="square"/>
<circle cx="1716.3" cy="717.2" r="5.8" fill="#ff0000"/>
<text x="1756.6" y="725.4" font-size="22.55">RTOFS</text>
<line x1="1693.4" x2="1738.6" y1="751.3" y2="751.3" stroke="#008000" stroke-width="2.4" stroke-linecap="square"/>
<circle cx="1716.3" cy="751.3" r="5.8" fill="#008000"/>
<text x="1756.6" y="759.5" font-size="22.55">ESPC</text>
<line x1="1693.4" x2="1738.6" y1="785.4" y2="785.4" stroke="#ff00ff" stroke-width="2.4" stroke-linecap="square"/>
<circle cx="1716.3" cy="785.4" r="5.8" fill="#ff00ff"/>
<text x="1756.6" y="793.6" font-size="22.55">CMEMS</text>
</svg>
</body></html>
